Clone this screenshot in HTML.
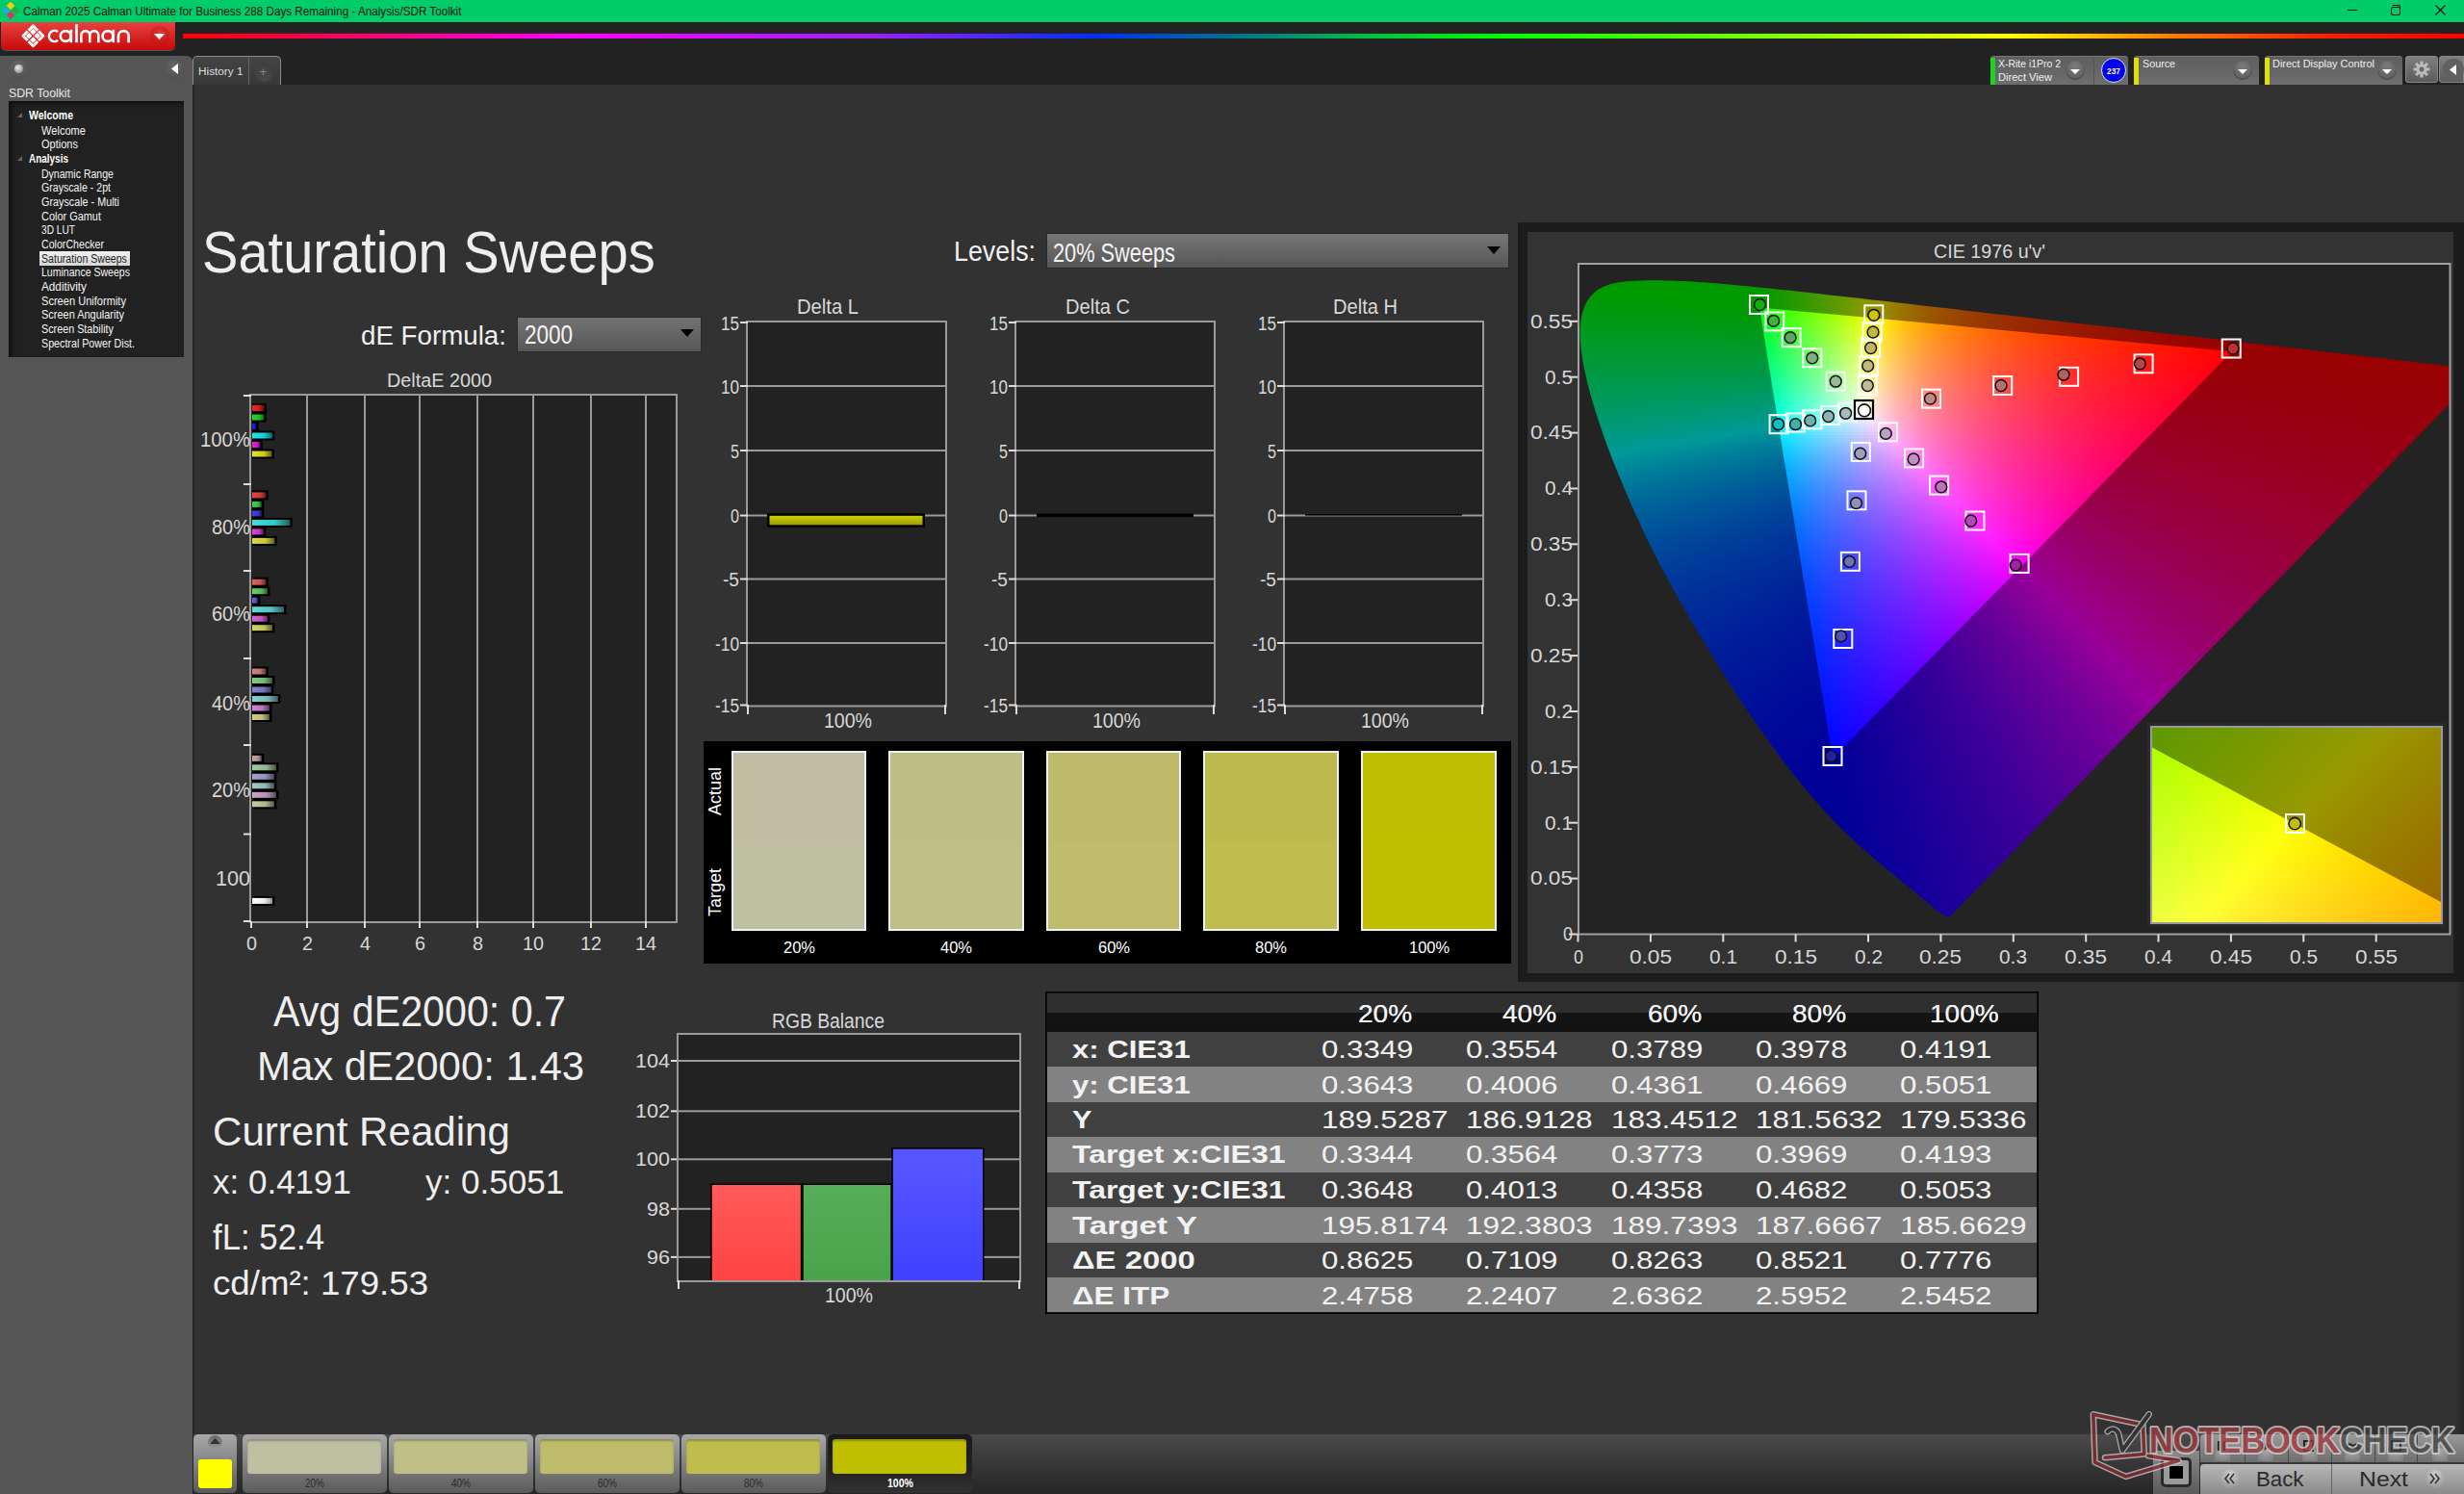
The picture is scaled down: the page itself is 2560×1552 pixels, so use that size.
<!DOCTYPE html>
<html><head><meta charset="utf-8"><style>
html,body{margin:0;padding:0;width:2560px;height:1552px;overflow:hidden;background:#333;font-family:"Liberation Sans",sans-serif}
.t{position:absolute;white-space:nowrap;line-height:1;transform-origin:0 0}
</style></head><body>
<div style="position:absolute;left:0;top:0;width:2560px;height:23px;background:#00cc6a"></div>
<svg style="position:absolute;left:1px;top:2px" width="19" height="19" viewBox="0 0 19 19">
<rect x="7" y="1" width="6" height="6" fill="#f5d000" transform="rotate(45 10 4)"/>
<rect x="2" y="6" width="6" height="6" fill="#29a8e0" transform="rotate(45 5 9)"/>
<rect x="12" y="6" width="6" height="6" fill="#20b040" transform="rotate(45 15 9)"/>
<rect x="7" y="11" width="6" height="6" fill="#e0306a" transform="rotate(45 10 14)"/>
</svg>
<div class="t" style="left:24.0px;top:5.1px;font-size:13.08px;color:#111;transform:scaleX(0.893);">Calman 2025 Calman Ultimate for Business 288 Days Remaining  - Analysis/SDR Toolkit</div>
<div style="position:absolute;left:2439px;top:10px;width:11px;height:1px;background:#111"></div>
<div style="position:absolute;left:2484px;top:7px;width:8px;height:7px;border:1.2px solid #111;border-radius:2px"></div>
<div style="position:absolute;left:2486px;top:5px;width:7px;height:7px;border-top:1.2px solid #111;border-right:1.2px solid #111;border-radius:0 2px 0 0"></div>
<svg style="position:absolute;left:2529.5px;top:5px" width="11" height="11"><path d="M0.5 0.5L10.5 10.5M10.5 0.5L0.5 10.5" stroke="#111" stroke-width="1.1"/></svg>
<div style="position:absolute;left:0;top:23px;width:2560px;height:65px;background:#222"></div>
<div style="position:absolute;left:1px;top:23px;width:181px;height:29px;border-radius:0 0 5px 5px;background:linear-gradient(#e84040,#c80a0a);box-shadow:0 1px 0 #555"></div>
<svg style="position:absolute;left:0;top:0" width="182" height="52" viewBox="0 0 182 52"><path d="M29.62 31.68L34.40 26.90L39.18 31.68M40.02 32.52L44.80 37.30L40.02 42.08M39.18 42.92L34.40 47.70L29.62 42.92M28.78 42.08L24.00 37.30L28.78 32.52" fill="none" stroke="#fff" stroke-width="2.9" stroke-linejoin="round"/><path d="M34.40 29.80L37.70 33.10L34.40 36.40L31.10 33.10ZM30.20 34.00L33.50 37.30L30.20 40.60L26.90 37.30ZM38.60 34.00L41.90 37.30L38.60 40.60L35.30 37.30ZM34.40 38.20L37.70 41.50L34.40 44.80L31.10 41.50Z" fill="#fff"/><g fill="none" stroke="#fff" stroke-width="2.6"><path d="M60.2 33.0A5.65 5.65 0 1 0 60.2 41.8"/><circle cx="68.2" cy="37.5" r="5.4"/><path d="M73.9 30.8V44.2"/><path d="M79.55 25.2V44.2"/><path d="M84.3 44.2V36.6A4.5 4.5 0 0 1 93.3 36.6V44.2M93.3 36.6A4.5 4.5 0 0 1 102.3 36.6V44.2"/><circle cx="112.0" cy="37.5" r="5.4"/><path d="M117.8 30.8V44.2"/><path d="M123 44.2V37.45A5.35 5.35 0 0 1 133.7 37.45V44.2"/></g></svg>
<div style="position:absolute;left:156px;top:27px;width:20px;height:20px;border-radius:50%;background:radial-gradient(circle at 50% 35%,#e03a3a,#b80808)"></div>
<svg style="position:absolute;left:160px;top:35px" width="12" height="8"><path d="M0 0H11L5.5 6Z" fill="#fff"/></svg>
<div style="position:absolute;left:190px;top:35px;width:2370px;height:5px;background:linear-gradient(90deg,#ff0000 0%,#ff0080 9%,#ff00ff 17%,#a020ff 30%,#0030ff 40%,#007090 46%,#00c040 52%,#00ff00 58%,#a0ff00 73%,#ffff00 80%,#ff8000 87%,#ff2000 94%,#ff0000 100%)"></div>
<div style="position:absolute;left:0;top:58px;width:200px;height:1494px;background:#555;border-radius:0 6px 0 0"></div>
<div style="position:absolute;left:200px;top:88px;width:1.5px;height:1464px;background:#232323"></div>
<div style="position:absolute;left:9px;top:62px;width:20px;height:20px;border-radius:50%;background:radial-gradient(circle at 50% 30%,#666,#4c4c4c)"></div>
<div style="position:absolute;left:15px;top:67px;width:9px;height:9px;border-radius:50%;background:radial-gradient(circle at 40% 35%,#eee,#777)"></div>
<div style="position:absolute;left:171px;top:62px;width:20px;height:20px;border-radius:50%;background:radial-gradient(circle at 50% 30%,#666,#4c4c4c)"></div>
<svg style="position:absolute;left:178px;top:66px" width="8" height="11"><path d="M7 0V11L0 5.5Z" fill="#fff"/></svg>
<div class="t" style="left:9.0px;top:89.7px;font-size:13.08px;color:#e8e8e8;transform:scaleX(0.940);">SDR Toolkit</div>
<div style="position:absolute;left:9px;top:105px;width:182px;height:266px;background:#212121;box-shadow:inset 3px 3px 4px #111"></div>
<div class="t" style="left:30.0px;top:114.2px;font-size:12.21px;color:#fff;font-weight:700;transform:scaleX(0.862);">Welcome</div>
<svg style="position:absolute;left:18px;top:117px" width="6" height="6"><path d="M5 0V5H0Z" fill="#666"/></svg>
<div class="t" style="left:43.0px;top:130.2px;font-size:12.21px;color:#f4f4f4;transform:scaleX(0.908);">Welcome</div>
<div class="t" style="left:43.0px;top:144.2px;font-size:12.21px;color:#f4f4f4;transform:scaleX(0.903);">Options</div>
<div class="t" style="left:30.0px;top:159.2px;font-size:12.21px;color:#fff;font-weight:700;transform:scaleX(0.816);">Analysis</div>
<svg style="position:absolute;left:18px;top:162px" width="6" height="6"><path d="M5 0V5H0Z" fill="#666"/></svg>
<div class="t" style="left:43.0px;top:175.2px;font-size:12.21px;color:#f4f4f4;transform:scaleX(0.863);">Dynamic Range</div>
<div class="t" style="left:43.0px;top:189.2px;font-size:12.21px;color:#f4f4f4;transform:scaleX(0.870);">Grayscale - 2pt</div>
<div class="t" style="left:43.0px;top:204.2px;font-size:12.21px;color:#f4f4f4;transform:scaleX(0.884);">Grayscale - Multi</div>
<div class="t" style="left:43.0px;top:219.2px;font-size:12.21px;color:#f4f4f4;transform:scaleX(0.896);">Color Gamut</div>
<div class="t" style="left:43.0px;top:233.3px;font-size:12.21px;color:#f4f4f4;transform:scaleX(0.832);">3D LUT</div>
<div class="t" style="left:43.0px;top:248.3px;font-size:12.21px;color:#f4f4f4;transform:scaleX(0.871);">ColorChecker</div>
<div style="position:absolute;left:41px;top:261px;width:94px;height:15px;background:linear-gradient(#f2f2f2,#d6d6d6)"></div>
<div class="t" style="left:43.0px;top:263.3px;font-size:12.21px;color:#222;transform:scaleX(0.868);">Saturation Sweeps</div>
<div class="t" style="left:43.0px;top:277.3px;font-size:12.21px;color:#f4f4f4;transform:scaleX(0.863);">Luminance Sweeps</div>
<div class="t" style="left:43.0px;top:292.3px;font-size:12.21px;color:#f4f4f4;transform:scaleX(0.962);">Additivity</div>
<div class="t" style="left:43.0px;top:307.3px;font-size:12.21px;color:#f4f4f4;transform:scaleX(0.907);">Screen Uniformity</div>
<div class="t" style="left:43.0px;top:321.4px;font-size:12.21px;color:#f4f4f4;transform:scaleX(0.899);">Screen Angularity</div>
<div class="t" style="left:43.0px;top:336.4px;font-size:12.21px;color:#f4f4f4;transform:scaleX(0.884);">Screen Stability</div>
<div class="t" style="left:43.0px;top:351.4px;font-size:12.21px;color:#f4f4f4;transform:scaleX(0.877);">Spectral Power Dist.</div>
<div style="position:absolute;left:200px;top:58px;width:92px;height:30px;background:linear-gradient(#444,#383838);border:1px solid #8a8a8a;border-bottom:none;border-radius:5px 5px 0 0;box-sizing:border-box"></div>
<div style="position:absolute;left:258px;top:59px;width:1px;height:29px;background:#666"></div>
<div class="t" style="left:206.0px;top:68.2px;font-size:11.63px;color:#dedede;transform:scaleX(1.014);">History 1</div>
<div style="position:absolute;left:264.5px;top:65px;width:19px;height:20px;border-radius:50%;background:radial-gradient(circle at 50% 80%,#4a4a4a,#3a3a3a)"></div>
<div class="t" style="left:269.5px;top:67.5px;font-size:13px;color:#888">+</div>
<div style="position:absolute;left:201.5px;top:88px;width:2359px;height:1402px;background:#323232"></div>
<div style="position:absolute;left:2068px;top:58px;width:143px;height:30px;border-radius:4px 4px 0 0;background:linear-gradient(#5e5e5e,#6e6e6e);box-shadow:inset 0 1px 0 #777"></div><div style="position:absolute;left:2068px;top:60px;width:5px;height:28px;background:#1ed21e"></div>
<div class="t" style="left:2076.0px;top:60.9px;font-size:10.76px;color:#f0f0f0;transform:scaleX(0.971);">X-Rite i1Pro 2</div>
<div class="t" style="left:2076.0px;top:74.9px;font-size:10.76px;color:#f0f0f0;transform:scaleX(1.033);">Direct View</div>
<div style="position:absolute;left:2146px;top:63px;width:20px;height:20px;border-radius:50%;background:radial-gradient(circle at 50% 30%,#7a7a7a,#5a5a5a);box-shadow:inset 0 -1px 2px #444"></div><svg style="position:absolute;left:2151px;top:72px" width="10" height="6"><path d="M0 0H10L5 5Z" fill="#fff"/></svg>
<div style="position:absolute;left:2175px;top:61px;width:1px;height:27px;background:#555"></div>
<div style="position:absolute;left:2182.5px;top:60px;width:26px;height:26px;border-radius:50%;background:#0000ee;box-sizing:border-box;border:1.2px solid #ddd"></div>
<div class="t" style="left:2188.5px;top:68.6px;font-size:9.88px;color:#fff;font-weight:700;transform:scaleX(0.849);">237</div>
<div style="position:absolute;left:2217px;top:58px;width:130px;height:30px;border-radius:4px 4px 0 0;background:linear-gradient(#5e5e5e,#6e6e6e);box-shadow:inset 0 1px 0 #777"></div><div style="position:absolute;left:2217px;top:60px;width:5px;height:28px;background:#e0e000"></div>
<div class="t" style="left:2226.0px;top:60.9px;font-size:10.76px;color:#f0f0f0;">Source</div>
<div style="position:absolute;left:2320px;top:63px;width:20px;height:20px;border-radius:50%;background:radial-gradient(circle at 50% 30%,#7a7a7a,#5a5a5a);box-shadow:inset 0 -1px 2px #444"></div><svg style="position:absolute;left:2325px;top:72px" width="10" height="6"><path d="M0 0H10L5 5Z" fill="#fff"/></svg>
<div style="position:absolute;left:2353px;top:58px;width:143px;height:30px;border-radius:4px 4px 0 0;background:linear-gradient(#5e5e5e,#6e6e6e);box-shadow:inset 0 1px 0 #777"></div><div style="position:absolute;left:2353px;top:60px;width:5px;height:28px;background:#e0e000"></div>
<div class="t" style="left:2361.0px;top:60.9px;font-size:10.76px;color:#f0f0f0;transform:scaleX(1.019);">Direct Display Control</div>
<div style="position:absolute;left:2470px;top:63px;width:20px;height:20px;border-radius:50%;background:radial-gradient(circle at 50% 30%,#7a7a7a,#5a5a5a);box-shadow:inset 0 -1px 2px #444"></div><svg style="position:absolute;left:2475px;top:72px" width="10" height="6"><path d="M0 0H10L5 5Z" fill="#fff"/></svg>
<div style="position:absolute;left:2499px;top:58px;width:34px;height:28px;border-radius:4px;background:linear-gradient(#808080,#5a5a5a);box-shadow:inset 0 0 0 1px #888"></div>
<svg style="position:absolute;left:2506px;top:62px" width="20" height="20" viewBox="-10 -10 20 20"><g fill="#bbb"><circle r="5.5"/><rect x="-1.6" y="-8.5" width="3.2" height="4" transform="rotate(0)"/><rect x="-1.6" y="-8.5" width="3.2" height="4" transform="rotate(45)"/><rect x="-1.6" y="-8.5" width="3.2" height="4" transform="rotate(90)"/><rect x="-1.6" y="-8.5" width="3.2" height="4" transform="rotate(135)"/><rect x="-1.6" y="-8.5" width="3.2" height="4" transform="rotate(180)"/><rect x="-1.6" y="-8.5" width="3.2" height="4" transform="rotate(225)"/><rect x="-1.6" y="-8.5" width="3.2" height="4" transform="rotate(270)"/><rect x="-1.6" y="-8.5" width="3.2" height="4" transform="rotate(315)"/></g><circle r="2.5" fill="#6a6a6a"/></svg>
<div style="position:absolute;left:2534px;top:58px;width:26px;height:28px;border-radius:4px 0 0 4px;background:linear-gradient(#808080,#5a5a5a);box-shadow:inset 0 0 0 1px #888"></div>
<div style="position:absolute;left:2538px;top:61px;width:22px;height:22px;border-radius:50%;background:#606060"></div>
<svg style="position:absolute;left:2545px;top:67px" width="7" height="11"><path d="M7 0V11L0 5.5Z" fill="#fff"/></svg>
<div class="t" style="left:210.0px;top:230.7px;font-size:61.77px;color:#eeeeee;transform:scaleX(0.908);">Saturation Sweeps</div>
<div class="t" style="left:375.0px;top:333.6px;font-size:28.34px;color:#f0f0f0;transform:scaleX(0.978);">dE Formula:</div>
<div style="position:absolute;left:538px;top:330px;width:190px;height:35px;background:linear-gradient(#737373,#575757);box-shadow:0 0 0 1px #2a2a2a"></div>
<div class="t" style="left:545.0px;top:334.1px;font-size:27.62px;color:#f4f4f4;transform:scaleX(0.814);">2000</div>
<svg style="position:absolute;left:707px;top:342px" width="14" height="9"><path d="M0 0H14L7 8Z" fill="#000"/></svg>
<div class="t" style="left:991.0px;top:246.9px;font-size:29.07px;color:#f0f0f0;transform:scaleX(0.923);">Levels:</div>
<div style="position:absolute;left:1088px;top:243px;width:479px;height:35px;background:linear-gradient(#777,#555);box-shadow:0 0 0 1px #2a2a2a"></div>
<div class="t" style="left:1094.0px;top:248.6px;font-size:27.62px;color:#f4f4f4;transform:scaleX(0.788);">20% Sweeps</div>
<svg style="position:absolute;left:1545px;top:256px" width="14" height="9"><path d="M0 0H14L7 8Z" fill="#000"/></svg>
<svg style="position:absolute;left:0;top:0" width="2560" height="1552"><rect x="261" y="411" width="441" height="546" fill="#222"/><rect x="318" y="411" width="2" height="546" fill="#9a9a9a"/><rect x="378" y="411" width="2" height="546" fill="#9a9a9a"/><rect x="435" y="411" width="2" height="546" fill="#9a9a9a"/><rect x="495" y="411" width="2" height="546" fill="#9a9a9a"/><rect x="553" y="411" width="2" height="546" fill="#9a9a9a"/><rect x="613" y="411" width="2" height="546" fill="#9a9a9a"/><rect x="670" y="411" width="2" height="546" fill="#9a9a9a"/><rect x="260" y="410" width="443" height="548" fill="none" stroke="#9a9a9a" stroke-width="2"/><rect x="253" y="410" width="8" height="2" fill="#ddd"/><rect x="253" y="502" width="8" height="2" fill="#ddd"/><rect x="253" y="592" width="8" height="2" fill="#ddd"/><rect x="253" y="683" width="8" height="2" fill="#ddd"/><rect x="253" y="773" width="8" height="2" fill="#ddd"/><rect x="253" y="865.5" width="8" height="2" fill="#ddd"/><rect x="253" y="956" width="8" height="2" fill="#ddd"/><rect x="260" y="957" width="2" height="7" fill="#ddd"/><rect x="318" y="957" width="2" height="7" fill="#ddd"/><rect x="378" y="957" width="2" height="7" fill="#ddd"/><rect x="435" y="957" width="2" height="7" fill="#ddd"/><rect x="495" y="957" width="2" height="7" fill="#ddd"/><rect x="553" y="957" width="2" height="7" fill="#ddd"/><rect x="613" y="957" width="2" height="7" fill="#ddd"/><rect x="670" y="957" width="2" height="7" fill="#ddd"/><defs><linearGradient id="hb0"><stop offset="0" stop-color="rgb(237, 38, 38)"/><stop offset="0.6" stop-color="rgb(215, 25, 25)"/><stop offset="1" stop-color="rgb(107, 12, 12)"/></linearGradient><linearGradient id="hb1"><stop offset="0" stop-color="rgb(38, 216, 38)"/><stop offset="0.6" stop-color="rgb(25, 195, 25)"/><stop offset="1" stop-color="rgb(12, 97, 12)"/></linearGradient><linearGradient id="hb2"><stop offset="0" stop-color="rgb(38, 38, 232)"/><stop offset="0.6" stop-color="rgb(25, 25, 210)"/><stop offset="1" stop-color="rgb(12, 12, 105)"/></linearGradient><linearGradient id="hb3"><stop offset="0" stop-color="rgb(38, 227, 227)"/><stop offset="0.6" stop-color="rgb(25, 205, 205)"/><stop offset="1" stop-color="rgb(12, 102, 102)"/></linearGradient><linearGradient id="hb4"><stop offset="0" stop-color="rgb(227, 38, 227)"/><stop offset="0.6" stop-color="rgb(205, 25, 205)"/><stop offset="1" stop-color="rgb(102, 12, 102)"/></linearGradient><linearGradient id="hb5"><stop offset="0" stop-color="rgb(227, 227, 38)"/><stop offset="0.6" stop-color="rgb(205, 205, 25)"/><stop offset="1" stop-color="rgb(102, 102, 12)"/></linearGradient><linearGradient id="hb6"><stop offset="0" stop-color="rgb(229, 69, 69)"/><stop offset="0.6" stop-color="rgb(207, 55, 55)"/><stop offset="1" stop-color="rgb(103, 27, 27)"/></linearGradient><linearGradient id="hb7"><stop offset="0" stop-color="rgb(69, 212, 69)"/><stop offset="0.6" stop-color="rgb(55, 191, 55)"/><stop offset="1" stop-color="rgb(27, 95, 27)"/></linearGradient><linearGradient id="hb8"><stop offset="0" stop-color="rgb(69, 69, 225)"/><stop offset="0.6" stop-color="rgb(55, 55, 203)"/><stop offset="1" stop-color="rgb(27, 27, 101)"/></linearGradient><linearGradient id="hb9"><stop offset="0" stop-color="rgb(69, 220, 220)"/><stop offset="0.6" stop-color="rgb(55, 199, 199)"/><stop offset="1" stop-color="rgb(27, 99, 99)"/></linearGradient><linearGradient id="hb10"><stop offset="0" stop-color="rgb(220, 69, 220)"/><stop offset="0.6" stop-color="rgb(199, 55, 199)"/><stop offset="1" stop-color="rgb(99, 27, 99)"/></linearGradient><linearGradient id="hb11"><stop offset="0" stop-color="rgb(220, 220, 69)"/><stop offset="0.6" stop-color="rgb(199, 199, 55)"/><stop offset="1" stop-color="rgb(99, 99, 27)"/></linearGradient><linearGradient id="hb12"><stop offset="0" stop-color="rgb(220, 101, 101)"/><stop offset="0.6" stop-color="rgb(199, 85, 85)"/><stop offset="1" stop-color="rgb(99, 42, 42)"/></linearGradient><linearGradient id="hb13"><stop offset="0" stop-color="rgb(101, 208, 101)"/><stop offset="0.6" stop-color="rgb(85, 187, 85)"/><stop offset="1" stop-color="rgb(42, 93, 42)"/></linearGradient><linearGradient id="hb14"><stop offset="0" stop-color="rgb(101, 101, 217)"/><stop offset="0.6" stop-color="rgb(85, 85, 196)"/><stop offset="1" stop-color="rgb(42, 42, 98)"/></linearGradient><linearGradient id="hb15"><stop offset="0" stop-color="rgb(101, 214, 214)"/><stop offset="0.6" stop-color="rgb(85, 193, 193)"/><stop offset="1" stop-color="rgb(42, 96, 96)"/></linearGradient><linearGradient id="hb16"><stop offset="0" stop-color="rgb(214, 101, 214)"/><stop offset="0.6" stop-color="rgb(193, 85, 193)"/><stop offset="1" stop-color="rgb(96, 42, 96)"/></linearGradient><linearGradient id="hb17"><stop offset="0" stop-color="rgb(214, 214, 101)"/><stop offset="0.6" stop-color="rgb(193, 193, 85)"/><stop offset="1" stop-color="rgb(96, 96, 42)"/></linearGradient><linearGradient id="hb18"><stop offset="0" stop-color="rgb(212, 132, 132)"/><stop offset="0.6" stop-color="rgb(191, 115, 115)"/><stop offset="1" stop-color="rgb(95, 57, 57)"/></linearGradient><linearGradient id="hb19"><stop offset="0" stop-color="rgb(132, 204, 132)"/><stop offset="0.6" stop-color="rgb(115, 183, 115)"/><stop offset="1" stop-color="rgb(57, 91, 57)"/></linearGradient><linearGradient id="hb20"><stop offset="0" stop-color="rgb(132, 132, 210)"/><stop offset="0.6" stop-color="rgb(115, 115, 189)"/><stop offset="1" stop-color="rgb(57, 57, 94)"/></linearGradient><linearGradient id="hb21"><stop offset="0" stop-color="rgb(132, 208, 208)"/><stop offset="0.6" stop-color="rgb(115, 187, 187)"/><stop offset="1" stop-color="rgb(57, 93, 93)"/></linearGradient><linearGradient id="hb22"><stop offset="0" stop-color="rgb(208, 132, 208)"/><stop offset="0.6" stop-color="rgb(187, 115, 187)"/><stop offset="1" stop-color="rgb(93, 57, 93)"/></linearGradient><linearGradient id="hb23"><stop offset="0" stop-color="rgb(208, 208, 132)"/><stop offset="0.6" stop-color="rgb(187, 187, 115)"/><stop offset="1" stop-color="rgb(93, 93, 57)"/></linearGradient><linearGradient id="hb24"><stop offset="0" stop-color="rgb(204, 164, 164)"/><stop offset="0.6" stop-color="rgb(183, 145, 145)"/><stop offset="1" stop-color="rgb(91, 72, 72)"/></linearGradient><linearGradient id="hb25"><stop offset="0" stop-color="rgb(164, 199, 164)"/><stop offset="0.6" stop-color="rgb(145, 179, 145)"/><stop offset="1" stop-color="rgb(72, 89, 72)"/></linearGradient><linearGradient id="hb26"><stop offset="0" stop-color="rgb(164, 164, 203)"/><stop offset="0.6" stop-color="rgb(145, 145, 182)"/><stop offset="1" stop-color="rgb(72, 72, 91)"/></linearGradient><linearGradient id="hb27"><stop offset="0" stop-color="rgb(164, 202, 202)"/><stop offset="0.6" stop-color="rgb(145, 181, 181)"/><stop offset="1" stop-color="rgb(72, 90, 90)"/></linearGradient><linearGradient id="hb28"><stop offset="0" stop-color="rgb(202, 164, 202)"/><stop offset="0.6" stop-color="rgb(181, 145, 181)"/><stop offset="1" stop-color="rgb(90, 72, 90)"/></linearGradient><linearGradient id="hb29"><stop offset="0" stop-color="rgb(202, 202, 164)"/><stop offset="0.6" stop-color="rgb(181, 181, 145)"/><stop offset="1" stop-color="rgb(90, 90, 72)"/></linearGradient><linearGradient id="hbw"><stop offset="0" stop-color="#fff"/><stop offset="0.6" stop-color="#eee"/><stop offset="1" stop-color="#999"/></linearGradient></defs><rect x="262" y="419.0" width="14.8" height="10" fill="#000"/><rect x="262" y="421.0" width="12.3" height="6" fill="url(#hb0)"/><rect x="262" y="428.5" width="14.8" height="10" fill="#000"/><rect x="262" y="430.5" width="12.3" height="6" fill="url(#hb1)"/><rect x="262" y="438.0" width="6.7" height="10" fill="#000"/><rect x="262" y="440.0" width="4.2" height="6" fill="url(#hb2)"/><rect x="262" y="447.5" width="23.4" height="10" fill="#000"/><rect x="262" y="449.5" width="20.9" height="6" fill="url(#hb3)"/><rect x="262" y="457.0" width="10.7" height="10" fill="#000"/><rect x="262" y="459.0" width="8.2" height="6" fill="url(#hb4)"/><rect x="262" y="466.5" width="22.8" height="10" fill="#000"/><rect x="262" y="468.5" width="20.3" height="6" fill="url(#hb5)"/><rect x="262" y="509.4" width="16.8" height="10" fill="#000"/><rect x="262" y="511.4" width="14.3" height="6" fill="url(#hb6)"/><rect x="262" y="518.9" width="12.3" height="10" fill="#000"/><rect x="262" y="520.9" width="9.8" height="6" fill="url(#hb7)"/><rect x="262" y="528.4" width="12.3" height="10" fill="#000"/><rect x="262" y="530.4" width="9.8" height="6" fill="url(#hb8)"/><rect x="262" y="537.9" width="41.8" height="10" fill="#000"/><rect x="262" y="539.9" width="39.3" height="6" fill="url(#hb9)"/><rect x="262" y="547.4" width="14.3" height="10" fill="#000"/><rect x="262" y="549.4" width="11.8" height="6" fill="url(#hb10)"/><rect x="262" y="556.9" width="25.8" height="10" fill="#000"/><rect x="262" y="558.9" width="23.3" height="6" fill="url(#hb11)"/><rect x="262" y="599.7" width="16.8" height="10" fill="#000"/><rect x="262" y="601.7" width="14.3" height="6" fill="url(#hb12)"/><rect x="262" y="609.2" width="18.4" height="10" fill="#000"/><rect x="262" y="611.2" width="15.9" height="6" fill="url(#hb13)"/><rect x="262" y="618.7" width="8.3" height="10" fill="#000"/><rect x="262" y="620.7" width="5.8" height="6" fill="url(#hb14)"/><rect x="262" y="628.2" width="35.5" height="10" fill="#000"/><rect x="262" y="630.2" width="33.0" height="6" fill="url(#hb15)"/><rect x="262" y="637.7" width="18.4" height="10" fill="#000"/><rect x="262" y="639.7" width="15.9" height="6" fill="url(#hb16)"/><rect x="262" y="647.2" width="23.4" height="10" fill="#000"/><rect x="262" y="649.2" width="20.9" height="6" fill="url(#hb17)"/><rect x="262" y="692.5" width="16.8" height="10" fill="#000"/><rect x="262" y="694.5" width="14.3" height="6" fill="url(#hb18)"/><rect x="262" y="702.0" width="23.4" height="10" fill="#000"/><rect x="262" y="704.0" width="20.9" height="6" fill="url(#hb19)"/><rect x="262" y="711.5" width="22.4" height="10" fill="#000"/><rect x="262" y="713.5" width="19.9" height="6" fill="url(#hb20)"/><rect x="262" y="721.0" width="29.4" height="10" fill="#000"/><rect x="262" y="723.0" width="26.9" height="6" fill="url(#hb21)"/><rect x="262" y="730.5" width="20.4" height="10" fill="#000"/><rect x="262" y="732.5" width="17.9" height="6" fill="url(#hb22)"/><rect x="262" y="740.0" width="20.4" height="10" fill="#000"/><rect x="262" y="742.0" width="17.9" height="6" fill="url(#hb23)"/><rect x="262" y="782.8" width="12.3" height="10" fill="#000"/><rect x="262" y="784.8" width="9.8" height="6" fill="url(#hb24)"/><rect x="262" y="792.3" width="27.4" height="10" fill="#000"/><rect x="262" y="794.3" width="24.9" height="6" fill="url(#hb25)"/><rect x="262" y="801.8" width="25.4" height="10" fill="#000"/><rect x="262" y="803.8" width="22.9" height="6" fill="url(#hb26)"/><rect x="262" y="811.3" width="25.4" height="10" fill="#000"/><rect x="262" y="813.3" width="22.9" height="6" fill="url(#hb27)"/><rect x="262" y="820.8" width="27.4" height="10" fill="#000"/><rect x="262" y="822.8" width="24.9" height="6" fill="url(#hb28)"/><rect x="262" y="830.3" width="25.4" height="10" fill="#000"/><rect x="262" y="832.3" width="22.9" height="6" fill="url(#hb29)"/><rect x="262" y="930.9" width="23.4" height="10" fill="#000"/><rect x="262" y="932.9" width="20.9" height="6" fill="url(#hbw)"/></svg>
<div class="t" style="left:401.5px;top:385.3px;font-size:20.35px;color:#d8d8d8;transform:scaleX(0.973);">DeltaE 2000</div>
<div class="t" style="left:207.5px;top:445.8px;font-size:21.80px;color:#d8d8d8;transform:scaleX(0.933);">100%</div>
<div class="t" style="left:219.5px;top:537.0px;font-size:21.80px;color:#d8d8d8;transform:scaleX(0.917);">80%</div>
<div class="t" style="left:219.5px;top:627.0px;font-size:21.80px;color:#d8d8d8;transform:scaleX(0.917);">60%</div>
<div class="t" style="left:219.5px;top:720.2px;font-size:21.80px;color:#d8d8d8;transform:scaleX(0.917);">40%</div>
<div class="t" style="left:219.5px;top:809.5px;font-size:21.80px;color:#d8d8d8;transform:scaleX(0.917);">20%</div>
<div class="t" style="left:223.5px;top:901.8px;font-size:21.80px;color:#d8d8d8;transform:scaleX(0.990);">100</div>
<div class="t" style="left:255.5px;top:969.5px;font-size:20.64px;color:#d8d8d8;transform:scaleX(0.958);">0</div>
<div class="t" style="left:313.5px;top:969.5px;font-size:20.64px;color:#d8d8d8;transform:scaleX(0.958);">2</div>
<div class="t" style="left:373.5px;top:969.5px;font-size:20.64px;color:#d8d8d8;transform:scaleX(0.958);">4</div>
<div class="t" style="left:430.5px;top:969.5px;font-size:20.64px;color:#d8d8d8;transform:scaleX(0.958);">6</div>
<div class="t" style="left:490.5px;top:969.5px;font-size:20.64px;color:#d8d8d8;transform:scaleX(0.958);">8</div>
<div class="t" style="left:543.0px;top:969.5px;font-size:20.64px;color:#d8d8d8;transform:scaleX(0.958);">10</div>
<div class="t" style="left:603.0px;top:969.5px;font-size:20.64px;color:#d8d8d8;transform:scaleX(0.958);">12</div>
<div class="t" style="left:660.0px;top:969.5px;font-size:20.64px;color:#d8d8d8;transform:scaleX(0.958);">14</div>
<svg style="position:absolute;left:0;top:0" width="2560" height="1552"><rect x="777" y="335" width="205" height="397.5" fill="#222"/><rect x="777" y="400" width="205" height="2" fill="#9a9a9a"/><rect x="777" y="467" width="205" height="2" fill="#9a9a9a"/><rect x="777" y="534.5" width="205" height="2" fill="#9a9a9a"/><rect x="777" y="600.5" width="205" height="2" fill="#9a9a9a"/><rect x="777" y="667" width="205" height="2" fill="#9a9a9a"/><rect x="776" y="334" width="207" height="399.5" fill="none" stroke="#9a9a9a" stroke-width="2"/><rect x="769" y="334" width="8" height="2" fill="#ddd"/><rect x="769" y="400" width="8" height="2" fill="#ddd"/><rect x="769" y="467" width="8" height="2" fill="#ddd"/><rect x="769" y="534.5" width="8" height="2" fill="#ddd"/><rect x="769" y="600.5" width="8" height="2" fill="#ddd"/><rect x="769" y="667" width="8" height="2" fill="#ddd"/><rect x="769" y="731.5" width="8" height="2" fill="#ddd"/><rect x="776" y="732" width="2" height="10" fill="#ddd"/><rect x="981" y="732" width="2" height="10" fill="#ddd"/><rect x="1056" y="335" width="205" height="397.5" fill="#222"/><rect x="1056" y="400" width="205" height="2" fill="#9a9a9a"/><rect x="1056" y="467" width="205" height="2" fill="#9a9a9a"/><rect x="1056" y="534.5" width="205" height="2" fill="#9a9a9a"/><rect x="1056" y="600.5" width="205" height="2" fill="#9a9a9a"/><rect x="1056" y="667" width="205" height="2" fill="#9a9a9a"/><rect x="1055" y="334" width="207" height="399.5" fill="none" stroke="#9a9a9a" stroke-width="2"/><rect x="1048" y="334" width="8" height="2" fill="#ddd"/><rect x="1048" y="400" width="8" height="2" fill="#ddd"/><rect x="1048" y="467" width="8" height="2" fill="#ddd"/><rect x="1048" y="534.5" width="8" height="2" fill="#ddd"/><rect x="1048" y="600.5" width="8" height="2" fill="#ddd"/><rect x="1048" y="667" width="8" height="2" fill="#ddd"/><rect x="1048" y="731.5" width="8" height="2" fill="#ddd"/><rect x="1055" y="732" width="2" height="10" fill="#ddd"/><rect x="1260" y="732" width="2" height="10" fill="#ddd"/><rect x="1335" y="335" width="205" height="397.5" fill="#222"/><rect x="1335" y="400" width="205" height="2" fill="#9a9a9a"/><rect x="1335" y="467" width="205" height="2" fill="#9a9a9a"/><rect x="1335" y="534.5" width="205" height="2" fill="#9a9a9a"/><rect x="1335" y="600.5" width="205" height="2" fill="#9a9a9a"/><rect x="1335" y="667" width="205" height="2" fill="#9a9a9a"/><rect x="1334" y="334" width="207" height="399.5" fill="none" stroke="#9a9a9a" stroke-width="2"/><rect x="1327" y="334" width="8" height="2" fill="#ddd"/><rect x="1327" y="400" width="8" height="2" fill="#ddd"/><rect x="1327" y="467" width="8" height="2" fill="#ddd"/><rect x="1327" y="534.5" width="8" height="2" fill="#ddd"/><rect x="1327" y="600.5" width="8" height="2" fill="#ddd"/><rect x="1327" y="667" width="8" height="2" fill="#ddd"/><rect x="1327" y="731.5" width="8" height="2" fill="#ddd"/><rect x="1334" y="732" width="2" height="10" fill="#ddd"/><rect x="1539" y="732" width="2" height="10" fill="#ddd"/><defs><linearGradient id="yb" x1="0" y1="0" x2="0" y2="1"><stop offset="0" stop-color="#d0d000"/><stop offset="1" stop-color="#9a9a00"/></linearGradient></defs><rect x="797" y="533.3" width="164" height="14.5" fill="#000"/><rect x="799.5" y="535.8" width="159" height="9.5" fill="url(#yb)"/><rect x="1077" y="533.5" width="163" height="3.5" fill="#000"/><rect x="1356" y="534" width="163" height="1.6" fill="#000"/></svg>
<div class="t" style="left:828.0px;top:307.8px;font-size:21.80px;color:#d8d8d8;transform:scaleX(0.927);">Delta L</div>
<div class="t" style="left:749.0px;top:324.5px;font-size:21.08px;color:#d8d8d8;transform:scaleX(0.811);">15</div>
<div class="t" style="left:749.0px;top:390.5px;font-size:21.08px;color:#d8d8d8;transform:scaleX(0.811);">10</div>
<div class="t" style="left:759.0px;top:457.5px;font-size:21.08px;color:#d8d8d8;transform:scaleX(0.768);">5</div>
<div class="t" style="left:759.0px;top:525.0px;font-size:21.08px;color:#d8d8d8;transform:scaleX(0.768);">0</div>
<div class="t" style="left:751.0px;top:591.0px;font-size:21.08px;color:#d8d8d8;transform:scaleX(0.907);">-5</div>
<div class="t" style="left:743.0px;top:657.5px;font-size:21.08px;color:#d8d8d8;transform:scaleX(0.821);">-10</div>
<div class="t" style="left:743.0px;top:722.0px;font-size:21.08px;color:#d8d8d8;transform:scaleX(0.821);">-15</div>
<div class="t" style="left:855.5px;top:738.0px;font-size:21.80px;color:#d8d8d8;transform:scaleX(0.897);">100%</div>
<div class="t" style="left:1106.5px;top:307.8px;font-size:21.80px;color:#d8d8d8;transform:scaleX(0.922);">Delta C</div>
<div class="t" style="left:1028.0px;top:324.5px;font-size:21.08px;color:#d8d8d8;transform:scaleX(0.811);">15</div>
<div class="t" style="left:1028.0px;top:390.5px;font-size:21.08px;color:#d8d8d8;transform:scaleX(0.811);">10</div>
<div class="t" style="left:1038.0px;top:457.5px;font-size:21.08px;color:#d8d8d8;transform:scaleX(0.768);">5</div>
<div class="t" style="left:1038.0px;top:525.0px;font-size:21.08px;color:#d8d8d8;transform:scaleX(0.768);">0</div>
<div class="t" style="left:1030.0px;top:591.0px;font-size:21.08px;color:#d8d8d8;transform:scaleX(0.907);">-5</div>
<div class="t" style="left:1022.0px;top:657.5px;font-size:21.08px;color:#d8d8d8;transform:scaleX(0.821);">-10</div>
<div class="t" style="left:1022.0px;top:722.0px;font-size:21.08px;color:#d8d8d8;transform:scaleX(0.821);">-15</div>
<div class="t" style="left:1134.5px;top:738.0px;font-size:21.80px;color:#d8d8d8;transform:scaleX(0.897);">100%</div>
<div class="t" style="left:1385.0px;top:307.8px;font-size:21.80px;color:#d8d8d8;transform:scaleX(0.922);">Delta H</div>
<div class="t" style="left:1307.0px;top:324.5px;font-size:21.08px;color:#d8d8d8;transform:scaleX(0.811);">15</div>
<div class="t" style="left:1307.0px;top:390.5px;font-size:21.08px;color:#d8d8d8;transform:scaleX(0.811);">10</div>
<div class="t" style="left:1317.0px;top:457.5px;font-size:21.08px;color:#d8d8d8;transform:scaleX(0.768);">5</div>
<div class="t" style="left:1317.0px;top:525.0px;font-size:21.08px;color:#d8d8d8;transform:scaleX(0.768);">0</div>
<div class="t" style="left:1309.0px;top:591.0px;font-size:21.08px;color:#d8d8d8;transform:scaleX(0.907);">-5</div>
<div class="t" style="left:1301.0px;top:657.5px;font-size:21.08px;color:#d8d8d8;transform:scaleX(0.821);">-10</div>
<div class="t" style="left:1301.0px;top:722.0px;font-size:21.08px;color:#d8d8d8;transform:scaleX(0.821);">-15</div>
<div class="t" style="left:1413.5px;top:738.0px;font-size:21.80px;color:#d8d8d8;transform:scaleX(0.897);">100%</div>
<div style="position:absolute;left:731px;top:770px;width:839px;height:231px;background:#000"></div>
<div style="position:absolute;left:760px;top:780px;width:140px;height:187px;box-sizing:border-box;border:2px solid #f0f0f0;background:linear-gradient(#bfbea2 50%,#bfbfa2 50%)"></div>
<div class="t" style="left:813.5px;top:976.5px;font-size:15.99px;color:#fff;transform:scaleX(1.031);">20%</div>
<div style="position:absolute;left:923px;top:780px;width:141px;height:187px;box-sizing:border-box;border:2px solid #f0f0f0;background:linear-gradient(#bfbe86 50%,#c0bf87 50%)"></div>
<div class="t" style="left:977.0px;top:976.5px;font-size:15.99px;color:#fff;transform:scaleX(1.031);">40%</div>
<div style="position:absolute;left:1087px;top:780px;width:140px;height:187px;box-sizing:border-box;border:2px solid #f0f0f0;background:linear-gradient(#bdbb69 50%,#bfbd6b 50%)"></div>
<div class="t" style="left:1140.5px;top:976.5px;font-size:15.99px;color:#fff;transform:scaleX(1.031);">60%</div>
<div style="position:absolute;left:1250px;top:780px;width:141px;height:187px;box-sizing:border-box;border:2px solid #f0f0f0;background:linear-gradient(#bcba4c 50%,#bebd4e 50%)"></div>
<div class="t" style="left:1304.0px;top:976.5px;font-size:15.99px;color:#fff;transform:scaleX(1.031);">80%</div>
<div style="position:absolute;left:1414px;top:780px;width:141px;height:187px;box-sizing:border-box;border:2px solid #f0f0f0;background:linear-gradient(#bebe00 50%,#bfbf00 50%)"></div>
<div class="t" style="left:1463.5px;top:976.5px;font-size:15.99px;color:#fff;transform:scaleX(1.027);">100%</div>
<div class="t" style="left:734px;top:847px;font-size:18px;color:#fff;transform:rotate(-90deg)">Actual</div>
<div class="t" style="left:734px;top:952px;font-size:18px;color:#fff;transform:rotate(-90deg)">Target</div>
<div style="position:absolute;left:1577px;top:231px;width:983px;height:789px;background:#1c1c1c"></div>
<div style="position:absolute;left:1587px;top:241px;width:962px;height:770px;background:#333"></div>
<div style="position:absolute;left:1640px;top:273.5px;width:905.5px;height:697.0px;background:#232323"></div>
<div style="position:absolute;left:1640px;top:273.5px;width:905.5px;height:697.0px;overflow:hidden;clip-path:path('M386.7 677.8 L386.5 677.9 L386.3 678.1 L386.0 678.3 L385.6 678.5 L385.0 678.6 L384.2 678.5 L383.3 678.5 L382.3 678.4 L381.1 678.1 L379.7 677.5 L378.3 676.6 L376.7 675.6 L375.0 674.3 L373.0 672.7 L370.6 670.8 L367.8 668.6 L364.8 666.0 L361.4 663.2 L357.6 660.0 L353.3 656.5 L348.3 652.3 L342.4 647.5 L336.3 642.5 L330.5 637.7 L325.2 633.4 L320.9 629.8 L317.1 626.7 L313.6 623.8 L310.0 620.8 L306.1 617.4 L301.7 613.6 L297.2 609.6 L292.5 605.4 L287.6 601.0 L282.5 596.2 L277.3 591.2 L272.0 586.0 L266.4 580.5 L260.6 574.3 L254.2 567.4 L247.4 559.7 L240.2 551.3 L232.6 542.3 L224.8 532.6 L216.7 522.2 L208.3 511.2 L199.7 499.4 L190.7 487.0 L181.6 474.0 L172.4 460.4 L163.0 446.1 L153.4 431.0 L143.6 415.4 L133.9 399.5 L124.4 383.5 L114.8 367.2 L105.2 350.5 L95.8 333.6 L86.7 316.8 L78.1 300.3 L70.0 283.9 L62.4 267.5 L55.1 251.3 L48.3 235.6 L42.0 220.4 L36.1 205.9 L30.7 191.8 L25.8 178.2 L21.4 165.3 L17.4 153.1 L14.0 141.8 L11.0 131.1 L8.6 121.2 L6.5 111.8 L4.7 103.1 L3.4 95.0 L2.4 87.5 L1.9 80.7 L1.6 74.3 L1.7 68.2 L2.0 62.6 L2.7 57.5 L3.7 52.7 L5.0 48.3 L6.5 44.3 L8.3 40.6 L10.4 37.2 L12.7 34.2 L15.3 31.5 L18.0 29.1 L20.9 27.0 L24.1 25.2 L27.4 23.7 L30.8 22.5 L34.3 21.3 L38.0 20.4 L41.8 19.7 L45.7 19.2 L49.7 18.8 L53.8 18.5 L57.9 18.2 L62.1 18.0 L66.4 17.9 L70.7 17.8 L75.0 17.8 L79.2 17.8 L83.5 17.8 L87.8 17.8 L92.1 17.9 L96.5 18.0 L100.9 18.2 L105.3 18.4 L109.8 18.6 L114.3 18.8 L118.9 19.1 L123.6 19.4 L128.4 19.7 L133.2 20.1 L138.1 20.4 L143.1 20.8 L148.2 21.3 L153.4 21.7 L158.6 22.2 L164.0 22.7 L169.4 23.2 L175.0 23.7 L180.6 24.3 L186.4 24.9 L192.3 25.5 L198.3 26.1 L204.4 26.8 L210.7 27.4 L217.1 28.1 L223.6 28.8 L230.3 29.5 L237.1 30.3 L244.1 31.1 L251.1 31.8 L258.3 32.7 L265.7 33.5 L273.3 34.3 L280.9 35.2 L288.8 36.1 L296.8 37.0 L304.9 37.9 L313.2 38.8 L321.7 39.8 L330.3 40.8 L339.1 41.8 L348.0 42.8 L357.1 43.9 L366.4 44.9 L375.8 46.0 L385.3 47.1 L395.0 48.2 L404.9 49.4 L414.9 50.5 L425.0 51.7 L435.3 52.9 L445.7 54.1 L456.2 55.3 L466.9 56.5 L477.6 57.7 L488.4 58.9 L499.3 60.2 L510.3 61.4 L521.3 62.7 L532.4 64.0 L543.5 65.3 L554.4 66.5 L565.2 67.8 L575.9 69.0 L586.6 70.2 L597.2 71.5 L607.8 72.7 L618.3 73.9 L628.9 75.1 L639.4 76.3 L649.7 77.5 L659.7 78.6 L669.0 79.7 L677.5 80.6 L686.1 81.6 L695.6 82.7 L706.8 84.0 L720.7 85.6 L736.5 87.4 L753.2 89.3 L769.4 91.2 L783.8 92.9 L796.4 94.3 L808.0 95.6 L818.8 96.9 L828.9 98.0 L838.5 99.1 L847.6 100.2 L856.2 101.2 L864.2 102.1 L871.6 102.9 L878.5 103.7 L884.8 104.4 L890.5 105.1 L895.7 105.7 L900.4 106.2 L904.8 106.7 L908.7 107.2 L911.9 107.5 L914.9 107.9 L917.6 108.2 L920.5 108.5 L923.4 108.9 L926.4 109.2 L929.3 109.5 L931.9 109.8 L934.1 110.1 L935.7 110.3 L937.0 110.4 L938.0 110.5 L938.7 110.6 L939.3 110.7 Z')">
<div style="position:absolute;left:0;top:0px;width:906px;height:4px;background:linear-gradient(90deg,#009900,#009900,#009900,#009900,#009900,#009900,#009900,#009900,#009900,#009900,#0f9900,#229900,#379900,#4e9900,#669900,#819900,#999500,#997c00,#996900,#995a00,#994d00,#994300,#993a00,#993300,#992d00,#992700,#992200,#991e00,#991a00,#991600,#991300,#991000,#990e00,#990b00,#990900,#990700,#990500,#990300,#990200,#990000,#990000,#990000,#990000,#990000,#990000,#990000,#990000)"></div><div style="position:absolute;left:0;top:4px;width:906px;height:4px;background:linear-gradient(90deg,#009900,#009900,#009900,#009900,#009900,#009900,#009900,#009900,#009900,#009900,#0e9900,#229900,#379900,#4e9900,#669900,#819900,#999400,#997c00,#996800,#995900,#994d00,#994300,#993a00,#993300,#992c00,#992700,#992200,#991d00,#991900,#991600,#991300,#991000,#990d00,#990b00,#990900,#990600,#990500,#990300,#990100,#990000,#990000,#990000,#990000,#990000,#990000,#990000,#990000)"></div><div style="position:absolute;left:0;top:8px;width:906px;height:4px;background:linear-gradient(90deg,#009900,#009900,#009900,#009900,#009900,#009900,#009900,#009900,#009900,#009900,#0e9900,#229900,#379900,#4e9900,#669900,#819900,#999400,#997b00,#996800,#995900,#994c00,#994200,#993900,#993200,#992c00,#992600,#992100,#991d00,#991900,#991500,#991200,#990f00,#990d00,#990a00,#990800,#990600,#990400,#990300,#990100,#990000,#990000,#990000,#990000,#990000,#990000,#990000,#990000)"></div><div style="position:absolute;left:0;top:12px;width:906px;height:4px;background:linear-gradient(90deg,#009900,#009900,#009900,#009900,#009900,#009900,#009900,#009900,#009900,#009900,#0d9900,#219900,#379900,#4e9900,#679900,#829900,#999300,#997a00,#996700,#995800,#994c00,#994100,#993900,#993100,#992b00,#992600,#992100,#991c00,#991800,#991500,#991200,#990f00,#990c00,#990a00,#990800,#990600,#990400,#990200,#990100,#990000,#990000,#990000,#990000,#990000,#990000,#990000,#990000)"></div><div style="position:absolute;left:0;top:16px;width:906px;height:4px;background:linear-gradient(90deg,#009900,#009900,#009900,#009900,#009900,#009900,#009900,#009900,#009900,#009900,#0d9900,#219900,#369900,#4e9900,#679900,#829900,#999300,#997a00,#996700,#995700,#994b00,#994100,#993800,#993100,#992b00,#992500,#992000,#991c00,#991800,#991500,#991100,#990f00,#990c00,#990a00,#990700,#990500,#990400,#990200,#990000,#990000,#990000,#990000,#990000,#990000,#990000,#990000,#990000)"></div><div style="position:absolute;left:0;top:20px;width:906px;height:4px;background:linear-gradient(90deg,#009900,#009900,#009900,#009900,#009900,#009900,#009900,#009900,#009900,#009900,#0c9900,#209900,#369900,#4d9900,#679900,#829900,#999200,#997900,#996600,#995700,#994b00,#994000,#993800,#993000,#992a00,#992500,#992000,#991b00,#991800,#991400,#991100,#990e00,#990c00,#990900,#990700,#990500,#990300,#990200,#990000,#990000,#990000,#990000,#990000,#990000,#990000,#990000,#990000)"></div><div style="position:absolute;left:0;top:24px;width:906px;height:4px;background:linear-gradient(90deg,#009900,#009900,#009900,#009900,#009900,#009900,#009900,#009900,#009900,#009900,#0c9900,#209900,#369900,#4d9900,#679900,#839900,#999100,#997800,#996500,#995600,#994a00,#994000,#993700,#993000,#992a00,#992400,#991f00,#991b00,#991700,#991400,#991100,#990e00,#990b00,#990900,#990700,#990500,#990300,#990100,#990000,#990000,#990000,#990000,#990000,#990000,#990000,#990000,#990000)"></div><div style="position:absolute;left:0;top:28px;width:906px;height:4px;background:linear-gradient(90deg,#009901,#009900,#009900,#009900,#009900,#009900,#009900,#009900,#009900,#009900,#0b9900,#209900,#369900,#4d9900,#679900,#839900,#999100,#997800,#996500,#995600,#994900,#993f00,#993700,#992f00,#992900,#992400,#991f00,#991b00,#991700,#991300,#991000,#990d00,#990b00,#990900,#990600,#990400,#990300,#990100,#990000,#990000,#990000,#990000,#990000,#990000,#990000,#990000,#990000)"></div><div style="position:absolute;left:0;top:32px;width:906px;height:4px;background:linear-gradient(90deg,#009904,#009903,#009901,#009900,#009900,#009900,#009900,#009900,#009900,#009900,#0b9900,#1f9900,#359900,#4d9900,#679900,#849900,#999000,#997700,#996400,#995500,#994900,#993f00,#993600,#992f00,#992900,#992300,#991e00,#991a00,#991600,#991300,#991000,#990d00,#990b00,#990800,#990600,#990400,#990200,#990100,#990000,#990000,#990000,#990000,#990000,#990000,#990000,#990000,#990000)"></div><div style="position:absolute;left:0;top:36px;width:906px;height:4px;background:linear-gradient(90deg,#009907,#009905,#009904,#009903,#009902,#009900,#009900,#009900,#009900,#009900,#0a9900,#1f9900,#359900,#4d9900,#679900,#849900,#998f00,#997700,#996300,#995400,#994800,#993e00,#993600,#992e00,#992800,#992300,#991e00,#991a00,#991600,#991300,#990f00,#990d00,#990a00,#990800,#990600,#990400,#990200,#990000,#990000,#990000,#990000,#990000,#990000,#990000,#990000,#990000,#990000)"></div><div style="position:absolute;left:0;top:40px;width:906px;height:4px;background:linear-gradient(90deg,#009909,#009908,#009907,#009906,#009905,#009904,#009902,#009901,#009900,#009900,#0a9900,#1e9900,#359900,#4d9900,#679900,#849900,#998f00,#997600,#996300,#995400,#994700,#993d00,#993500,#992e00,#992800,#992200,#991d00,#991900,#991500,#991200,#990f00,#990c00,#990a00,#990700,#990500,#990300,#990200,#990000,#990000,#990000,#990000,#990000,#990000,#990000,#990000,#990000,#990000)"></div><div style="position:absolute;left:0;top:44px;width:906px;height:4px;background:linear-gradient(90deg,#00990c,#00990b,#00990a,#009909,#009908,#009907,#009905,#009904,#009903,#009901,#099900,#1e9900,#349900,#4d9900,#689900,#859900,#998e00,#997500,#996200,#995300,#994700,#993d00,#993400,#992d00,#992700,#992200,#991d00,#991900,#991500,#991200,#990f00,#990c00,#990900,#990700,#990500,#990300,#990100,#990000,#990000,#990000,#990000,#990000,#990000,#990000,#990000,#990000,#990000)"></div><div style="position:absolute;left:0;top:48px;width:906px;height:4px;background:linear-gradient(90deg,#00990f,#00990e,#00990d,#00990c,#00990b,#00990a,#009909,#009908,#009906,#009905,#089903,#1d9901,#349900,#4d9900,#689900,#859900,#998e00,#997500,#996100,#995200,#994600,#993c00,#993400,#992d00,#992700,#992100,#991c00,#991800,#991500,#991100,#990e00,#990c00,#990900,#990700,#990500,#990300,#990100,#990000,#990000,#990000,#990000,#990000,#990000,#990000,#990000,#990000,#990000)"></div><div style="position:absolute;left:0;top:52px;width:906px;height:4px;background:linear-gradient(90deg,#009912,#009911,#009910,#00990f,#00990e,#00990d,#00990c,#00990b,#00990a,#009908,#089907,#1d9905,#349904,#4d9902,#689900,#869900,#998d00,#997400,#996100,#995200,#994600,#993c00,#993300,#992c00,#992600,#992100,#991c00,#991800,#991400,#991100,#990e00,#990b00,#990900,#990600,#990400,#990200,#990100,#990000,#990000,#990000,#990000,#990000,#990000,#990000,#990000,#990000,#990000)"></div><div style="position:absolute;left:0;top:56px;width:906px;height:4px;background:linear-gradient(90deg,#009915,#009914,#009913,#009912,#009911,#009911,#009910,#00990e,#00990d,#00990c,#07990b,#1c9909,#349908,#4d9906,#689904,#869903,#998c00,#997300,#996000,#995100,#994500,#993b00,#993300,#992c00,#992500,#992000,#991b00,#991700,#991400,#991000,#990d00,#990b00,#990800,#990600,#990400,#990200,#990000,#990000,#990000,#990000,#990000,#990000,#990000,#990000,#990000,#990000,#990000)"></div><div style="position:absolute;left:0;top:60px;width:906px;height:4px;background:linear-gradient(90deg,#009918,#009917,#009916,#009915,#009915,#009914,#009913,#009912,#009911,#009910,#07990f,#1c990e,#33990c,#4d990b,#689909,#869907,#998c05,#997202,#995f01,#995000,#994400,#993a00,#993200,#992b00,#992500,#992000,#991b00,#991700,#991300,#991000,#990d00,#990a00,#990800,#990600,#990400,#990200,#990000,#990000,#990000,#990000,#990000,#990000,#990000,#990000,#990000,#990000,#990000)"></div><div style="position:absolute;left:0;top:64px;width:906px;height:4px;background:linear-gradient(90deg,#00991a,#00991a,#009919,#009919,#009918,#009917,#009917,#009916,#009915,#009914,#069913,#1c9912,#339911,#4c990f,#68990e,#87990c,#998b0a,#997206,#995f04,#995002,#994401,#993a00,#993200,#992a00,#992400,#991f00,#991b00,#991600,#991300,#991000,#990d00,#990a00,#990700,#990500,#990300,#990100,#990000,#990000,#990000,#990000,#990000,#990000,#990000,#990000,#990000,#990000,#990000)"></div><div style="position:absolute;left:0;top:68px;width:906px;height:4px;background:linear-gradient(90deg,#00991d,#00991d,#00991c,#00991c,#00991b,#00991b,#00991a,#009919,#009919,#009918,#059917,#1b9916,#339915,#4c9914,#699913,#879911,#998a0e,#99710a,#995e08,#994f05,#994303,#993902,#993101,#992a00,#992400,#991f00,#991a00,#991600,#991200,#990f00,#990c00,#990a00,#990700,#990500,#990300,#990100,#990000,#990000,#990000,#990000,#990000,#990000,#990000,#990000,#990000,#990000,#990000)"></div><div style="position:absolute;left:0;top:72px;width:906px;height:4px;background:linear-gradient(90deg,#009920,#009920,#009920,#00991f,#00991f,#00991e,#00991e,#00991d,#00991c,#00991c,#05991b,#1b991a,#329919,#4c9918,#699917,#889916,#998a13,#99700f,#995d0b,#994e08,#994206,#993905,#993003,#992902,#992301,#991e00,#991a00,#991500,#991200,#990f00,#990c00,#990900,#990700,#990500,#990300,#990100,#990000,#990000,#990000,#990000,#990000,#990000,#990000,#990000,#990000,#990000,#990000)"></div><div style="position:absolute;left:0;top:76px;width:906px;height:4px;background:linear-gradient(90deg,#009923,#009923,#009923,#009922,#009922,#009922,#009921,#009921,#009920,#009920,#04991f,#1a991f,#32991e,#4c991d,#69991c,#88991c,#998918,#997013,#995d0f,#994e0c,#994209,#993807,#993006,#992904,#992303,#991e02,#991901,#991500,#991100,#990e00,#990b00,#990900,#990600,#990400,#990200,#990000,#990000,#990000,#990000,#990000,#990000,#990000,#990000,#990000,#990000,#990000,#990000)"></div><div style="position:absolute;left:0;top:80px;width:906px;height:4px;background:linear-gradient(90deg,#009927,#009926,#009926,#009926,#009926,#009925,#009925,#009925,#009924,#009924,#039924,#1a9923,#329923,#4c9922,#699921,#899921,#99881d,#996f17,#995c12,#994d0f,#99410c,#99370a,#992f08,#992806,#992205,#991d04,#991903,#991502,#991101,#990e00,#990b00,#990800,#990600,#990400,#990200,#990000,#990000,#990000,#990000,#990000,#990000,#990000,#990000,#990000,#990000,#990000,#990000)"></div><div style="position:absolute;left:0;top:84px;width:906px;height:4px;background:linear-gradient(90deg,#00992a,#00992a,#009929,#009929,#009929,#009929,#009929,#009929,#009928,#009928,#039928,#199928,#319927,#4c9927,#699927,#899926,#998722,#996e1b,#995b16,#994c12,#99400f,#99370c,#992f0a,#992809,#992207,#991d06,#991804,#991403,#991102,#990d02,#990a01,#990800,#990600,#990300,#990100,#990000,#990000,#990000,#990000,#990000,#990000,#990000,#990000,#990000,#990000,#990000,#990000)"></div><div style="position:absolute;left:0;top:88px;width:906px;height:4px;background:linear-gradient(90deg,#00992d,#00992d,#00992d,#00992d,#00992d,#00992d,#00992d,#00992c,#00992c,#00992c,#02992c,#18992c,#31992c,#4c992c,#69992c,#8a992c,#998726,#996e1f,#995b1a,#994c15,#994012,#99360f,#992e0d,#99270b,#992109,#991c08,#991806,#991405,#991004,#990d03,#990a02,#990802,#990501,#990300,#990100,#990000,#990000,#990000,#990000,#990000,#990000,#990000,#990000,#990000,#990000,#990000,#990000)"></div><div style="position:absolute;left:0;top:92px;width:906px;height:4px;background:linear-gradient(90deg,#009930,#009930,#009930,#009930,#009930,#009930,#009930,#009930,#009931,#009931,#019931,#189931,#319931,#4c9931,#699931,#8a9931,#99862b,#996d23,#995a1d,#994b19,#993f15,#993512,#992d0f,#99260d,#99210b,#991c0a,#991708,#991307,#991006,#990c05,#990a04,#990703,#990502,#990302,#990101,#990000,#990000,#990000,#990000,#990000,#990000,#990000,#990000,#990000,#990000,#990000,#990000)"></div><div style="position:absolute;left:0;top:96px;width:906px;height:4px;background:linear-gradient(90deg,#009933,#009933,#009934,#009934,#009934,#009934,#009934,#009935,#009935,#009935,#009935,#179936,#309936,#4c9936,#6a9937,#8b9937,#998531,#996c28,#995921,#994a1c,#993e18,#993514,#992d12,#99260f,#99200d,#991b0b,#99170a,#991309,#990f07,#990c06,#990905,#990704,#990404,#990203,#990002,#990002,#990001,#990000,#990000,#990000,#990000,#990000,#990000,#990000,#990000,#990000,#990000)"></div><div style="position:absolute;left:0;top:100px;width:906px;height:4px;background:linear-gradient(90deg,#009936,#009937,#009937,#009937,#009938,#009938,#009938,#009939,#009939,#009939,#00993a,#17993a,#30993b,#4c993c,#6a993c,#8b993d,#998536,#996b2c,#995825,#994a1f,#993e1b,#993417,#992c14,#992512,#99200f,#991a0d,#99160c,#99120a,#990f09,#990c08,#990907,#990606,#990405,#990204,#990003,#990003,#990002,#990002,#990001,#990001,#990000,#990000,#990000,#990000,#990000,#990000,#990000)"></div><div style="position:absolute;left:0;top:104px;width:906px;height:4px;background:linear-gradient(90deg,#00993a,#00993a,#00993b,#00993b,#00993b,#00993c,#00993c,#00993d,#00993d,#00993e,#00993f,#16993f,#309940,#4b9941,#6a9942,#8c9943,#99843b,#996b30,#995829,#994923,#993d1e,#99341a,#992c17,#992514,#991f11,#991a0f,#99160e,#99120c,#990e0b,#990b09,#990808,#990607,#990406,#990205,#990005,#990004,#990003,#990003,#990002,#990002,#990001,#990001,#990000,#990000,#990000,#990000,#990000)"></div><div style="position:absolute;left:0;top:108px;width:906px;height:4px;background:linear-gradient(90deg,#00993d,#00993e,#00993e,#00993f,#00993f,#009940,#009940,#009941,#009942,#009943,#009943,#169944,#2f9945,#4b9947,#6a9948,#8c9949,#998340,#996a35,#99572c,#994826,#993c21,#99331d,#992b19,#992416,#991e14,#991911,#99150f,#99110e,#990e0c,#990b0b,#99080a,#990509,#990308,#990107,#990006,#990005,#990004,#990004,#990003,#990003,#990002,#990001,#990001,#990001,#990000,#990000,#990000)"></div><div style="position:absolute;left:0;top:112px;width:906px;height:4px;background:linear-gradient(90deg,#009940,#009941,#009942,#009942,#009943,#009944,#009945,#009945,#009946,#009947,#009948,#159949,#2f994b,#4b994c,#6a994e,#8d994f,#998245,#996939,#995630,#994729,#993c24,#99321f,#992a1c,#992418,#991e16,#991913,#991511,#99110f,#990d0e,#990a0c,#99080b,#99050a,#990309,#990108,#990007,#990006,#990005,#990005,#990004,#990004,#990003,#990002,#990002,#990001,#990001,#990001,#990000)"></div><div style="position:absolute;left:0;top:116px;width:906px;height:4px;background:linear-gradient(90deg,#009944,#009945,#009945,#009946,#009947,#009948,#009949,#00994a,#00994b,#00994c,#00994d,#14994f,#2e9950,#4b9952,#6b9954,#8e9956,#99824b,#99683e,#995534,#99472d,#993b27,#993222,#992a1e,#99231b,#991d18,#991815,#991413,#991011,#990d10,#990a0e,#99070d,#99050b,#99020a,#990009,#990008,#990007,#990007,#990006,#990005,#990005,#990004,#990003,#990003,#990002,#990002,#990001,#990001)"></div><div style="position:absolute;left:0;top:120px;width:906px;height:4px;background:linear-gradient(90deg,#009947,#009948,#009949,#00994a,#00994b,#00994c,#00994d,#00994e,#00994f,#009951,#009952,#149954,#2e9956,#4b9958,#6b995a,#8e995c,#998150,#996742,#995538,#994630,#993a2a,#993125,#992921,#99221d,#991d1a,#991817,#991315,#991013,#990c11,#990910,#99070e,#99040d,#99020c,#99000a,#990009,#990009,#990008,#990007,#990006,#990006,#990005,#990004,#990004,#990003,#990003,#990002,#990002)"></div><div style="position:absolute;left:0;top:124px;width:906px;height:4px;background:linear-gradient(90deg,#00994b,#00994c,#00994d,#00994e,#00994f,#009950,#009951,#009953,#009954,#009956,#009957,#139959,#2e995b,#4b995e,#6b9960,#8f9963,#998055,#996747,#99543c,#994534,#993a2d,#993028,#992823,#99221f,#991c1c,#991719,#991317,#990f15,#990c13,#990911,#990610,#99040e,#99020d,#99000c,#99000b,#99000a,#990009,#990008,#990007,#990007,#990006,#990005,#990005,#990004,#990004,#990003,#990003)"></div><div style="position:absolute;left:0;top:128px;width:906px;height:4px;background:linear-gradient(90deg,#00994e,#00994f,#009951,#009952,#009953,#009954,#009956,#009957,#009959,#00995b,#00995d,#13995f,#2d9961,#4b9964,#6b9967,#8f996a,#997f5b,#99664c,#995340,#994437,#993930,#99302b,#992826,#992122,#991c1e,#99171b,#991219,#990f17,#990b15,#990813,#990611,#990310,#99010e,#99000d,#99000c,#99000b,#99000a,#990009,#990008,#990008,#990007,#990006,#990006,#990005,#990004,#990004,#990003)"></div><div style="position:absolute;left:0;top:132px;width:906px;height:4px;background:linear-gradient(90deg,#009952,#009953,#009954,#009956,#009957,#009959,#00995a,#00995c,#00995e,#009960,#009962,#129964,#2d9967,#4b996a,#6b996d,#909971,#997e61,#996550,#995244,#99443b,#993833,#992f2d,#992728,#992124,#991b21,#99161d,#99121b,#990e18,#990b16,#990814,#990513,#990311,#990110,#99000e,#99000d,#99000c,#99000b,#99000a,#990009,#990009,#990008,#990007,#990007,#990006,#990005,#990005,#990004)"></div><div style="position:absolute;left:0;top:136px;width:906px;height:4px;background:linear-gradient(90deg,#009956,#009957,#009958,#00995a,#00995b,#00995d,#00995f,#009961,#009963,#009965,#009967,#11996a,#2c996d,#4a9970,#6c9974,#919978,#997e66,#996455,#995148,#99433e,#993837,#992e30,#99262b,#992027,#991a23,#99161f,#99111d,#990e1a,#990a18,#990816,#990514,#990312,#990011,#990010,#99000e,#99000d,#99000c,#99000b,#99000a,#99000a,#990009,#990008,#990007,#990007,#990006,#990006,#990005)"></div><div style="position:absolute;left:0;top:140px;width:906px;height:4px;background:linear-gradient(90deg,#009959,#00995b,#00995c,#00995e,#00995f,#009961,#009963,#009965,#009968,#00996a,#00996d,#119970,#2c9973,#4a9977,#6c997b,#91997f,#997d6c,#99635a,#99514c,#994242,#99373a,#992e33,#99262e,#991f29,#991a25,#991522,#99111f,#990d1c,#990a1a,#990717,#990416,#990214,#990012,#990011,#990010,#99000f,#99000d,#99000c,#99000b,#99000b,#99000a,#990009,#990008,#990008,#990007,#990006,#990006)"></div><div style="position:absolute;left:0;top:144px;width:906px;height:4px;background:linear-gradient(90deg,#00995d,#00995f,#009960,#009962,#009964,#009966,#009968,#00996a,#00996d,#009970,#009973,#109976,#2c9979,#4a997d,#6c9982,#929987,#997c72,#99635f,#995050,#994146,#99363d,#992d36,#992530,#991f2b,#991927,#991424,#991020,#990d1e,#99091b,#990719,#990417,#990215,#990014,#990012,#990011,#990010,#99000f,#99000e,#99000d,#99000c,#99000b,#99000a,#990009,#990009,#990008,#990007,#990007)"></div><div style="position:absolute;left:0;top:148px;width:906px;height:4px;background:linear-gradient(90deg,#009961,#009962,#009964,#009966,#009968,#00996a,#00996d,#00996f,#009972,#009975,#009978,#0f997c,#2b9980,#4a9984,#6c9989,#93998f,#997b78,#996263,#994f55,#994149,#993540,#992c39,#992533,#991e2e,#991929,#991426,#991022,#990c1f,#99091d,#99061b,#990419,#990117,#990015,#990014,#990012,#990011,#990010,#99000f,#99000e,#99000d,#99000c,#99000b,#99000a,#990009,#990009,#990008,#990008)"></div><div style="position:absolute;left:0;top:152px;width:906px;height:4px;background:linear-gradient(90deg,#009965,#009966,#009968,#00996a,#00996d,#00996f,#009971,#009974,#009977,#00997a,#00997e,#0f9982,#2b9986,#4a998b,#6d9990,#949996,#997a7e,#996168,#994e59,#99404d,#993543,#992b3c,#992435,#991d30,#99182c,#991328,#990f24,#990c21,#99091f,#99061c,#99031a,#990118,#990016,#990015,#990013,#990012,#990011,#990010,#99000f,#99000e,#99000d,#99000c,#99000b,#99000a,#99000a,#990009,#990008)"></div><div style="position:absolute;left:0;top:156px;width:906px;height:4px;background:linear-gradient(90deg,#009968,#00996a,#00996c,#00996f,#009971,#009974,#009976,#009979,#00997d,#009980,#009984,#0e9988,#2a998d,#4a9992,#6d9998,#8f9499,#997984,#99606d,#994d5d,#993f51,#993447,#992b3f,#992338,#991d33,#99172e,#99132a,#990f26,#990b23,#990820,#99051e,#99031c,#99001a,#990018,#990016,#990015,#990013,#990012,#990011,#990010,#99000f,#99000e,#99000d,#99000c,#99000b,#99000b,#99000a,#990009)"></div><div style="position:absolute;left:0;top:160px;width:906px;height:4px;background:linear-gradient(90deg,#00996c,#00996e,#009971,#009973,#009976,#009978,#00997b,#00997f,#009982,#009986,#00998a,#0d998f,#2a9994,#499999,#699399,#898c99,#99788a,#995f72,#994d61,#993e54,#99334a,#992a42,#99233b,#991c35,#991730,#99122c,#990e28,#990b25,#990822,#990520,#99021d,#99001b,#990019,#990018,#990016,#990015,#990013,#990012,#990011,#990010,#99000f,#99000e,#99000d,#99000c,#99000b,#99000b,#99000a)"></div><div style="position:absolute;left:0;top:164px;width:906px;height:4px;background:linear-gradient(90deg,#009970,#009973,#009975,#009978,#00997a,#00997d,#009980,#009984,#009988,#00998c,#009990,#0c9995,#299799,#469299,#648c99,#838699,#997890,#995e77,#994c66,#993e58,#99324d,#992945,#99223e,#991c38,#991632,#99122e,#990e2a,#990a27,#990724,#990421,#99021f,#99001d,#99001b,#990019,#990017,#990016,#990014,#990013,#990012,#990011,#990010,#99000f,#99000e,#99000d,#99000c,#99000c,#99000b)"></div><div style="position:absolute;left:0;top:168px;width:906px;height:4px;background:linear-gradient(90deg,#009974,#009977,#009979,#00997c,#00997f,#009982,#009986,#009989,#00998d,#009992,#009996,#0b9699,#279199,#438b99,#5f8599,#7d7f99,#997796,#995d7d,#994b6a,#993d5c,#993251,#992948,#992140,#991b3a,#991635,#991130,#990d2c,#990a29,#990726,#990423,#990120,#99001e,#99001c,#99001a,#990019,#990017,#990016,#990014,#990013,#990012,#990011,#990010,#99000f,#99000e,#99000d,#99000c,#99000c)"></div><div style="position:absolute;left:0;top:172px;width:906px;height:4px;background:linear-gradient(90deg,#009978,#00997b,#00997e,#009981,#009984,#009987,#00998b,#00998f,#009993,#009998,#009599,#0a9099,#248b99,#3f8599,#5b7f99,#787999,#967399,#995c82,#994a6e,#993c60,#993154,#99284b,#992143,#991a3c,#991537,#991132,#990d2e,#99092a,#990627,#990324,#990122,#990020,#99001d,#99001c,#99001a,#990018,#990017,#990015,#990014,#990013,#990012,#990011,#990010,#99000f,#99000e,#99000d,#99000d)"></div><div style="position:absolute;left:0;top:176px;width:906px;height:4px;background:linear-gradient(90deg,#00997d,#00997f,#009982,#009985,#009989,#00998c,#009990,#009994,#009999,#009499,#008f99,#098a99,#228599,#3d7f99,#587a99,#737499,#906e99,#995c87,#994973,#993b63,#993057,#99274e,#992046,#991a3f,#991439,#991034,#990c30,#99092c,#990629,#990326,#990023,#990021,#99001f,#99001d,#99001b,#990019,#990018,#990016,#990015,#990014,#990013,#990012,#990011,#990010,#99000f,#99000e,#99000d)"></div><div style="position:absolute;left:0;top:180px;width:906px;height:4px;background:linear-gradient(90deg,#009981,#009984,#009987,#00998a,#00998d,#009991,#009995,#009899,#009399,#008f99,#008a99,#088599,#217f99,#3a7a99,#547499,#6f6f99,#8a6999,#995b8c,#994877,#993a67,#992f5b,#992651,#991f48,#991942,#99143c,#990f37,#990c32,#99082e,#99052b,#990228,#990025,#990022,#990020,#99001e,#99001c,#99001b,#990019,#990018,#990016,#990015,#990014,#990013,#990012,#990011,#990010,#99000f,#99000e)"></div><div style="position:absolute;left:0;top:184px;width:906px;height:4px;background:linear-gradient(90deg,#009985,#009988,#00998b,#00998f,#009992,#009997,#009799,#009399,#008e99,#008999,#008499,#077f99,#1f7a99,#377599,#516f99,#6b6a99,#856499,#995a92,#99477c,#99396b,#992f5e,#992654,#991e4b,#991844,#99133e,#990f39,#990b34,#990830,#99052d,#990229,#990027,#990024,#990022,#990020,#99001e,#99001c,#99001a,#990019,#990017,#990016,#990015,#990014,#990013,#990012,#990011,#990010,#99000f)"></div><div style="position:absolute;left:0;top:188px;width:906px;height:4px;background:linear-gradient(90deg,#009989,#00998c,#009990,#009994,#009998,#009699,#009299,#008d99,#008999,#008499,#007f99,#067a99,#1d7599,#357099,#4d6b99,#676599,#806099,#995997,#994680,#99396f,#992e62,#992557,#991e4e,#991847,#991340,#990e3b,#990a36,#990732,#99042e,#99012b,#990028,#990025,#990023,#990021,#99001f,#99001d,#99001b,#99001a,#990018,#990017,#990016,#990015,#990014,#990013,#990012,#990011,#990010)"></div><div style="position:absolute;left:0;top:192px;width:906px;height:4px;background:linear-gradient(90deg,#00998e,#009991,#009995,#009998,#009599,#009199,#008d99,#008999,#008499,#007f99,#007b99,#057699,#1c7199,#336c99,#4b6699,#636199,#7c5c99,#965699,#994685,#993873,#992d65,#99245a,#991d51,#991749,#991243,#990e3d,#990a38,#990734,#990430,#99012d,#99002a,#990027,#990024,#990022,#990020,#99001e,#99001d,#99001b,#99001a,#990018,#990017,#990016,#990015,#990013,#990013,#990012,#990011)"></div><div style="position:absolute;left:0;top:196px;width:906px;height:4px;background:linear-gradient(90deg,#009992,#009996,#009999,#009599,#009199,#008c99,#008899,#008499,#007f99,#007b99,#007699,#047199,#1a6c99,#316799,#486299,#5f5d99,#785899,#915299,#99458a,#993777,#992c69,#99235d,#991c54,#99164c,#991145,#990d3f,#99093a,#990636,#990332,#99002e,#99002b,#990028,#990026,#990024,#990022,#990020,#99001e,#99001c,#99001b,#990019,#990018,#990017,#990015,#990014,#990013,#990012,#990012)"></div><div style="position:absolute;left:0;top:200px;width:906px;height:4px;background:linear-gradient(90deg,#009997,#009899,#009499,#009099,#008c99,#008899,#008499,#007f99,#007b99,#007799,#007299,#036d99,#196899,#2f6399,#455e99,#5c5999,#745499,#8c4e99,#99448e,#99367b,#992b6c,#992360,#991c57,#99164e,#991147,#990c41,#99093c,#990538,#990334,#990030,#99002d,#99002a,#990027,#990025,#990023,#990021,#99001f,#99001d,#99001c,#99001a,#990019,#990018,#990016,#990015,#990014,#990013,#990012)"></div><div style="position:absolute;left:0;top:204px;width:906px;height:4px;background:linear-gradient(90deg,#009799,#009399,#008f99,#008c99,#008899,#008499,#007f99,#007b99,#007799,#007299,#006e99,#036999,#176599,#2d6099,#435b99,#595699,#705099,#874b99,#994393,#99357f,#992b70,#992264,#991b59,#991551,#99104a,#990c44,#99083e,#99053a,#990235,#990032,#99002e,#99002b,#990029,#990026,#990024,#990022,#990020,#99001e,#99001d,#99001b,#99001a,#990019,#990017,#990016,#990015,#990014,#990013)"></div><div style="position:absolute;left:0;top:208px;width:906px;height:4px;background:linear-gradient(90deg,#009399,#008f99,#008b99,#008799,#008399,#007f99,#007b99,#007799,#007399,#006f99,#006a99,#026699,#166199,#2b5c99,#405799,#565299,#6c4d99,#834899,#994298,#993483,#992a73,#992167,#991a5c,#991454,#990f4c,#990b46,#990840,#99043b,#990237,#990033,#990030,#99002d,#99002a,#990028,#990025,#990023,#990021,#990020,#99001e,#99001c,#99001b,#99001a,#990018,#990017,#990016,#990015,#990014)"></div><div style="position:absolute;left:0;top:212px;width:906px;height:4px;background:linear-gradient(90deg,#008e99,#008b99,#008799,#008399,#007f99,#007b99,#007799,#007399,#006f99,#006b99,#006699,#016299,#155d99,#295999,#3e5499,#534f99,#694a99,#7f4599,#953f99,#993388,#992977,#99206a,#991a5f,#991456,#990f4f,#990b48,#990742,#99043d,#990139,#990035,#990032,#99002f,#99002c,#990029,#990027,#990025,#990023,#990021,#99001f,#99001d,#99001c,#99001b,#990019,#990018,#990017,#990016,#990015)"></div><div style="position:absolute;left:0;top:216px;width:906px;height:4px;background:linear-gradient(90deg,#008a99,#008799,#008399,#007f99,#007c99,#007899,#007499,#007099,#006c99,#006799,#006399,#015f99,#145a99,#285599,#3c5199,#504c99,#654799,#7b4299,#913d99,#99338c,#99287b,#99206d,#991962,#991359,#990e51,#990a4a,#990644,#99033f,#99013b,#990037,#990033,#990030,#99002d,#99002a,#990028,#990026,#990024,#990022,#990020,#99001f,#99001d,#99001c,#99001a,#990019,#990018,#990017,#990016)"></div><div style="position:absolute;left:0;top:220px;width:906px;height:4px;background:linear-gradient(90deg,#008799,#008399,#007f99,#007c99,#007899,#007499,#007099,#006c99,#006899,#006499,#006099,#005b99,#135799,#265299,#3a4e99,#4e4999,#624499,#773f99,#8d3a99,#993290,#99277e,#991f70,#991865,#99125b,#990e53,#99094d,#990647,#990341,#99003d,#990039,#990035,#990032,#99002f,#99002c,#990029,#990027,#990025,#990023,#990021,#990020,#99001e,#99001d,#99001b,#99001a,#990019,#990018,#990017)"></div><div style="position:absolute;left:0;top:224px;width:906px;height:4px;background:linear-gradient(90deg,#008399,#007f99,#007c99,#007899,#007499,#007199,#006d99,#006999,#006599,#006199,#005c99,#005899,#125499,#254f99,#384b99,#4b4699,#5f4199,#743c99,#893799,#993194,#992682,#991e74,#991768,#99125e,#990d56,#99094f,#990549,#990243,#99003e,#99003a,#990036,#990033,#990030,#99002d,#99002b,#990028,#990026,#990024,#990022,#990021,#99001f,#99001e,#99001c,#99001b,#99001a,#990019,#990017)"></div><div style="position:absolute;left:0;top:228px;width:906px;height:4px;background:linear-gradient(90deg,#007f99,#007c99,#007899,#007599,#007199,#006d99,#006a99,#006699,#006299,#005e99,#005999,#005599,#115199,#234c99,#364899,#494399,#5c3f99,#703a99,#853599,#993098,#992686,#991d77,#99176b,#991161,#990c58,#990851,#99054b,#990245,#990040,#99003c,#990038,#990035,#990031,#99002f,#99002c,#99002a,#990027,#990025,#990023,#990022,#990020,#99001f,#99001d,#99001c,#99001b,#990019,#990018)"></div><div style="position:absolute;left:0;top:232px;width:906px;height:4px;background:linear-gradient(90deg,#007c99,#007999,#007599,#007299,#006e99,#006a99,#006699,#006399,#005f99,#005b99,#005799,#005299,#104e99,#224a99,#344599,#474199,#5a3c99,#6d3899,#813399,#952e99,#99258a,#991d7a,#99166e,#991064,#990c5b,#990853,#99044d,#990147,#990042,#99003e,#99003a,#990036,#990033,#990030,#99002d,#99002b,#990029,#990027,#990025,#990023,#990021,#990020,#99001e,#99001d,#99001c,#99001a,#990019)"></div><div style="position:absolute;left:0;top:236px;width:906px;height:4px;background:linear-gradient(90deg,#007999,#007599,#007299,#006e99,#006b99,#006799,#006399,#006099,#005c99,#005899,#005499,#005099,#0f4b99,#204799,#324399,#453e99,#573a99,#6a3599,#7e3199,#912c99,#99248d,#991c7e,#991571,#991066,#990b5d,#990756,#99044f,#990149,#990044,#99003f,#99003b,#990038,#990034,#990031,#99002f,#99002c,#99002a,#990028,#990026,#990024,#990022,#990021,#99001f,#99001e,#99001c,#99001b,#99001a)"></div><div style="position:absolute;left:0;top:240px;width:906px;height:4px;background:linear-gradient(90deg,#007699,#007299,#006f99,#006b99,#006899,#006499,#006199,#005d99,#005999,#005599,#005199,#004d99,#0e4999,#1f4599,#314099,#433c99,#553899,#673399,#7a2e99,#8e2a99,#992391,#991b81,#991474,#990f69,#990a60,#990658,#990351,#99004b,#990046,#990041,#99003d,#990039,#990036,#990033,#990030,#99002d,#99002b,#990029,#990027,#990025,#990023,#990022,#990020,#99001f,#99001d,#99001c,#99001b)"></div><div style="position:absolute;left:0;top:244px;width:906px;height:4px;background:linear-gradient(90deg,#007399,#006f99,#006c99,#006899,#006599,#006199,#005e99,#005a99,#005699,#005299,#004f99,#004b99,#0d4699,#1e4299,#2f3e99,#413a99,#523599,#643199,#772c99,#8a2899,#992295,#991a84,#991477,#990e6c,#990a62,#99065a,#990253,#99004d,#990048,#990043,#99003f,#99003b,#990037,#990034,#990031,#99002f,#99002c,#99002a,#990028,#990026,#990024,#990023,#990021,#990020,#99001e,#99001d,#99001c)"></div><div style="position:absolute;left:0;top:248px;width:906px;height:4px;background:linear-gradient(90deg,#007099,#006c99,#006999,#006699,#006299,#005f99,#005b99,#005799,#005499,#005099,#004c99,#004899,#0c4499,#1d4099,#2e3c99,#3f3899,#503399,#622f99,#742a99,#862699,#992199,#991988,#99137a,#990e6f,#990965,#99055d,#990255,#99004f,#99004a,#990045,#990040,#99003c,#990039,#990036,#990033,#990030,#99002e,#99002b,#990029,#990027,#990025,#990024,#990022,#990021,#99001f,#99001e,#99001d)"></div><div style="position:absolute;left:0;top:252px;width:906px;height:4px;background:linear-gradient(90deg,#006d99,#006a99,#006699,#006399,#006099,#005c99,#005999,#005599,#005199,#004d99,#004a99,#004699,#0c4299,#1c3e99,#2c3a99,#3d3699,#4e3199,#5f2d99,#712999,#832499,#952099,#99188b,#99127d,#990d71,#990867,#99045f,#990158,#990051,#99004b,#990046,#990042,#99003e,#99003a,#990037,#990034,#990031,#99002f,#99002c,#99002a,#990028,#990026,#990025,#990023,#990022,#990020,#99001f,#99001d)"></div><div style="position:absolute;left:0;top:256px;width:906px;height:4px;background:linear-gradient(90deg,#006a99,#006799,#006499,#006099,#005d99,#005a99,#005699,#005299,#004f99,#004b99,#004799,#004499,#0b4099,#1b3c99,#2b3899,#3b3499,#4c2f99,#5d2b99,#6e2799,#802299,#921e99,#99188f,#991180,#990c74,#99086a,#990461,#99015a,#990053,#99004d,#990048,#990044,#990040,#99003c,#990038,#990035,#990033,#990030,#99002e,#99002b,#990029,#990027,#990026,#990024,#990022,#990021,#990020,#99001e)"></div><div style="position:absolute;left:0;top:260px;width:906px;height:4px;background:linear-gradient(90deg,#006899,#006499,#006199,#005e99,#005b99,#005799,#005499,#005099,#004d99,#004999,#004599,#004199,#0a3e99,#1a3a99,#293699,#393299,#4a2e99,#5a2999,#6b2599,#7d2199,#8e1c99,#991792,#991183,#990b77,#99076c,#990364,#99005c,#990055,#99004f,#99004a,#990045,#990041,#99003d,#99003a,#990037,#990034,#990031,#99002f,#99002d,#99002a,#990029,#990027,#990025,#990023,#990022,#990021,#99001f)"></div><div style="position:absolute;left:0;top:264px;width:906px;height:4px;background:linear-gradient(90deg,#006599,#006299,#005f99,#005b99,#005899,#005599,#005199,#004e99,#004a99,#004799,#004399,#003f99,#0a3c99,#193899,#283499,#383099,#482c99,#582899,#692499,#7a1f99,#8b1b99,#991696,#991086,#990b7a,#99066f,#990366,#99005e,#990057,#990051,#99004c,#990047,#990043,#99003f,#99003b,#990038,#990035,#990032,#990030,#99002e,#99002c,#99002a,#990028,#990026,#990024,#990023,#990021,#990020)"></div><div style="position:absolute;left:0;top:268px;width:906px;height:4px;background:linear-gradient(90deg,#006399,#006099,#005c99,#005999,#005699,#005399,#004f99,#004c99,#004899,#004599,#004199,#003d99,#093a99,#183699,#273299,#362e99,#462a99,#562699,#662299,#771e99,#881999,#991599,#990f8a,#990a7d,#990672,#990268,#990060,#990059,#990053,#99004e,#990049,#990044,#990040,#99003d,#990039,#990036,#990034,#990031,#99002f,#99002d,#99002b,#990029,#990027,#990025,#990024,#990022,#990021)"></div><div style="position:absolute;left:0;top:272px;width:906px;height:4px;background:linear-gradient(90deg,#006099,#005d99,#005a99,#005799,#005499,#005099,#004d99,#004a99,#004699,#004399,#003f99,#003c99,#083899,#173499,#263099,#352c99,#442899,#542499,#642099,#741c99,#841899,#951499,#990e8d,#99097f,#990574,#99016b,#990062,#99005b,#990055,#99004f,#99004a,#990046,#990042,#99003e,#99003b,#990038,#990035,#990032,#990030,#99002e,#99002c,#99002a,#990028,#990026,#990025,#990023,#990022)"></div><div style="position:absolute;left:0;top:276px;width:906px;height:4px;background:linear-gradient(90deg,#005e99,#005b99,#005899,#005599,#005299,#004e99,#004b99,#004899,#004499,#004199,#003d99,#003a99,#083699,#163299,#252f99,#332b99,#432799,#522399,#611f99,#711b99,#811799,#921399,#990d90,#990882,#990477,#99016d,#990065,#99005d,#990057,#990051,#99004c,#990048,#990043,#990040,#99003c,#990039,#990036,#990034,#990031,#99002f,#99002d,#99002b,#990029,#990027,#990026,#990024,#990023)"></div><div style="position:absolute;left:0;top:280px;width:906px;height:4px;background:linear-gradient(90deg,#005c99,#005999,#005699,#005399,#004f99,#004c99,#004999,#004699,#004299,#003f99,#003b99,#003899,#073499,#153199,#232d99,#322999,#412599,#502299,#5f1e99,#6f1a99,#7f1599,#8f1199,#990d93,#990885,#99047a,#990070,#990067,#99005f,#990059,#990053,#99004e,#990049,#990045,#990041,#99003e,#99003a,#990037,#990035,#990032,#990030,#99002e,#99002c,#99002a,#990028,#990027,#990025,#990024)"></div><div style="position:absolute;left:0;top:284px;width:906px;height:4px;background:linear-gradient(90deg,#005a99,#005799,#005499,#005199,#004d99,#004a99,#004799,#004499,#004099,#003d99,#003a99,#003699,#063399,#142f99,#222b99,#312899,#3f2499,#4e2099,#5d1c99,#6c1899,#7c1499,#8c1099,#990c96,#990788,#99037c,#990072,#990069,#990061,#99005b,#990055,#99004f,#99004b,#990046,#990043,#99003f,#99003c,#990039,#990036,#990033,#990031,#99002f,#99002d,#99002b,#990029,#990027,#990026,#990024)"></div><div style="position:absolute;left:0;top:288px;width:906px;height:4px;background:linear-gradient(90deg,#005899,#005599,#005299,#004f99,#004b99,#004899,#004599,#004299,#003f99,#003b99,#003899,#003499,#063199,#142d99,#212a99,#2f2699,#3e2399,#4c1f99,#5b1b99,#6a1799,#791399,#890f99,#980b99,#99068b,#99027f,#990074,#99006b,#990064,#99005d,#990057,#990051,#99004c,#990048,#990044,#990040,#99003d,#99003a,#990037,#990035,#990032,#990030,#99002e,#99002c,#99002a,#990028,#990027,#990025)"></div><div style="position:absolute;left:0;top:292px;width:906px;height:4px;background:linear-gradient(90deg,#005699,#005399,#005099,#004d99,#004a99,#004699,#004399,#004099,#003d99,#003a99,#003699,#003399,#052f99,#132c99,#202899,#2e2599,#3c2199,#4a1d99,#591a99,#681699,#771299,#860e99,#950a99,#99058e,#990181,#990077,#99006e,#990066,#99005f,#990058,#990053,#99004e,#990049,#990045,#990042,#99003e,#99003b,#990038,#990036,#990033,#990031,#99002f,#99002d,#99002b,#990029,#990028,#990026)"></div><div style="position:absolute;left:0;top:296px;width:906px;height:4px;background:linear-gradient(90deg,#005499,#005199,#004e99,#004b99,#004899,#004599,#004299,#003e99,#003b99,#003899,#003599,#003199,#052e99,#122a99,#1f2799,#2d2399,#3b2099,#491c99,#571899,#651599,#741199,#830d99,#920999,#990591,#990184,#990079,#990070,#990068,#990061,#99005a,#990055,#990050,#99004b,#990047,#990043,#990040,#99003d,#99003a,#990037,#990034,#990032,#990030,#99002e,#99002c,#99002a,#990029,#990027)"></div><div style="position:absolute;left:0;top:300px;width:906px;height:4px;background:linear-gradient(90deg,#005299,#004f99,#004c99,#004999,#004699,#004399,#004099,#003d99,#003a99,#003699,#003399,#003099,#042c99,#112999,#1e2699,#2c2299,#391f99,#471b99,#551799,#631499,#721099,#800c99,#8f0899,#990494,#990087,#99007c,#990072,#99006a,#990063,#99005c,#990056,#990051,#99004d,#990048,#990045,#990041,#99003e,#99003b,#990038,#990036,#990033,#990031,#99002f,#99002d,#99002b,#99002a,#990028)"></div><div style="position:absolute;left:0;top:304px;width:906px;height:4px;background:linear-gradient(90deg,#005099,#004d99,#004a99,#004799,#004499,#004199,#003e99,#003b99,#003899,#003599,#003299,#002e99,#042b99,#112899,#1e2499,#2b2199,#381d99,#461a99,#531699,#611299,#6f0f99,#7e0b99,#8c0799,#990397,#99008a,#99007e,#990074,#99006c,#990065,#99005e,#990058,#990053,#99004e,#99004a,#990046,#990042,#99003f,#99003c,#990039,#990037,#990034,#990032,#990030,#99002e,#99002c,#99002a,#990029)"></div><div style="position:absolute;left:0;top:308px;width:906px;height:4px;background:linear-gradient(90deg,#004e99,#004b99,#004899,#004699,#004399,#004099,#003d99,#003a99,#003699,#003399,#003099,#002d99,#032a99,#102699,#1d2399,#2a2099,#371c99,#441999,#511599,#5f1199,#6d0e99,#7b0a99,#8a0699,#980299,#99008c,#990081,#990077,#99006e,#990067,#990060,#99005a,#990055,#990050,#99004b,#990047,#990044,#990040,#99003d,#99003a,#990038,#990035,#990033,#990031,#99002f,#99002d,#99002b,#99002a)"></div><div style="position:absolute;left:0;top:312px;width:906px;height:4px;background:linear-gradient(90deg,#004c99,#004a99,#004799,#004499,#004199,#003e99,#003b99,#003899,#003599,#003299,#002f99,#002c99,#032899,#0f2599,#1c2299,#291e99,#351b99,#431799,#501499,#5d1099,#6b0d99,#790999,#870599,#950299,#99008f,#990083,#990079,#990070,#990069,#990062,#99005c,#990056,#990051,#99004d,#990049,#990045,#990042,#99003f,#99003c,#990039,#990036,#990034,#990032,#990030,#99002e,#99002c,#99002b)"></div><div style="position:absolute;left:0;top:316px;width:906px;height:4px;background:linear-gradient(90deg,#004b99,#004899,#004599,#004299,#003f99,#003c99,#003a99,#003799,#003499,#003099,#002d99,#002a99,#022799,#0f2499,#1b2099,#281d99,#341a99,#411699,#4e1399,#5b0f99,#690c99,#760899,#840599,#920199,#990092,#990086,#99007b,#990072,#99006b,#990064,#99005d,#990058,#990053,#99004e,#99004a,#990046,#990043,#990040,#99003d,#99003a,#990038,#990035,#990033,#990031,#99002f,#99002d,#99002b)"></div><div style="position:absolute;left:0;top:320px;width:906px;height:4px;background:linear-gradient(90deg,#004999,#004699,#004399,#004199,#003e99,#003b99,#003899,#003599,#003299,#002f99,#002c99,#002999,#022699,#0e2399,#1a1f99,#271c99,#331999,#401599,#4d1299,#5a0e99,#670b99,#740799,#820499,#900099,#990095,#990088,#99007e,#990075,#99006d,#990065,#99005f,#990059,#990054,#990050,#99004c,#990048,#990044,#990041,#99003e,#99003b,#990039,#990036,#990034,#990032,#990030,#99002e,#99002c)"></div><div style="position:absolute;left:0;top:324px;width:906px;height:4px;background:linear-gradient(90deg,#004799,#004599,#004299,#003f99,#003c99,#003999,#003799,#003499,#003199,#002e99,#002b99,#002899,#022599,#0d2199,#191e99,#261b99,#321899,#3e1499,#4b1199,#580d99,#650a99,#720699,#7f0399,#8d0099,#990097,#99008b,#990080,#990077,#99006f,#990067,#990061,#99005b,#990056,#990051,#99004d,#990049,#990046,#990042,#99003f,#99003c,#99003a,#990037,#990035,#990033,#990031,#99002f,#99002d)"></div><div style="position:absolute;left:0;top:328px;width:906px;height:4px;background:linear-gradient(90deg,#004699,#004399,#004099,#003e99,#003b99,#003899,#003599,#003299,#002f99,#002c99,#002999,#002699,#012399,#0d2099,#191d99,#251a99,#311799,#3d1399,#491099,#560d99,#630999,#700699,#7d0299,#8a0099,#980099,#99008d,#990082,#990079,#990071,#990069,#990063,#99005d,#990058,#990053,#99004e,#99004a,#990047,#990043,#990040,#99003e,#99003b,#990038,#990036,#990034,#990032,#990030,#99002e)"></div><div style="position:absolute;left:0;top:332px;width:906px;height:4px;background:linear-gradient(90deg,#004499,#004299,#003f99,#003c99,#003999,#003799,#003499,#003199,#002e99,#002b99,#002899,#002599,#012299,#0c1f99,#181c99,#241999,#301699,#3c1299,#480f99,#540c99,#610899,#6e0599,#7b0199,#880099,#950099,#990090,#990085,#99007b,#990073,#99006b,#990064,#99005f,#990059,#990054,#990050,#99004c,#990048,#990045,#990042,#99003f,#99003c,#990039,#990037,#990035,#990033,#990031,#99002f)"></div><div style="position:absolute;left:0;top:336px;width:906px;height:4px;background:linear-gradient(90deg,#004399,#004099,#003e99,#003b99,#003899,#003599,#003399,#003099,#002d99,#002a99,#002799,#002499,#002199,#0c1e99,#171b99,#231899,#2f1599,#3a1199,#470e99,#530b99,#5f0899,#6c0499,#780199,#850099,#920099,#990093,#990087,#99007d,#990075,#99006d,#990066,#990060,#99005b,#990056,#990051,#99004d,#990049,#990046,#990043,#990040,#99003d,#99003a,#990038,#990036,#990034,#990032,#990030)"></div><div style="position:absolute;left:0;top:340px;width:906px;height:4px;background:linear-gradient(90deg,#004199,#003f99,#003c99,#003999,#003799,#003499,#003199,#002e99,#002c99,#002999,#002699,#002399,#002099,#0b1d99,#171a99,#221799,#2e1499,#391199,#450d99,#510a99,#5d0799,#6a0399,#760099,#830099,#900099,#990095,#99008a,#990080,#990077,#99006f,#990068,#990062,#99005c,#990057,#990053,#99004f,#99004b,#990047,#990044,#990041,#99003e,#99003c,#990039,#990037,#990035,#990033,#990031)"></div><div style="position:absolute;left:0;top:344px;width:906px;height:4px;background:linear-gradient(90deg,#004099,#003d99,#003b99,#003899,#003599,#003399,#003099,#002d99,#002a99,#002899,#002599,#002299,#001f99,#0b1c99,#161999,#211699,#2d1399,#381099,#440c99,#500999,#5c0699,#680399,#740099,#810099,#8d0099,#990098,#99008c,#990082,#990079,#990071,#99006a,#990064,#99005e,#990059,#990054,#990050,#99004c,#990048,#990045,#990042,#99003f,#99003d,#99003a,#990038,#990036,#990034,#990032)"></div><div style="position:absolute;left:0;top:348px;width:906px;height:4px;background:linear-gradient(90deg,#003f99,#003c99,#003999,#003799,#003499,#003299,#002f99,#002c99,#002999,#002699,#002499,#002199,#001e99,#0a1b99,#151899,#201599,#2c1299,#370f99,#420c99,#4e0899,#5a0599,#660299,#720099,#7e0099,#8b0099,#980099,#99008e,#990084,#99007b,#990073,#99006c,#990065,#990060,#99005a,#990056,#990051,#99004d,#99004a,#990046,#990043,#990040,#99003e,#99003b,#990039,#990037,#990035,#990033)"></div><div style="position:absolute;left:0;top:352px;width:906px;height:4px;background:linear-gradient(90deg,#003d99,#003b99,#003899,#003699,#003399,#003099,#002e99,#002b99,#002899,#002599,#002399,#002099,#001d99,#0a1a99,#151799,#201499,#2b1199,#360e99,#410b99,#4d0899,#580599,#640199,#700099,#7c0099,#890099,#950099,#990091,#990086,#99007d,#990075,#99006e,#990067,#990061,#99005c,#990057,#990053,#99004f,#99004b,#990048,#990044,#990041,#99003f,#99003c,#99003a,#990038,#990036,#990034)"></div><div style="position:absolute;left:0;top:356px;width:906px;height:4px;background:linear-gradient(90deg,#003c99,#003999,#003799,#003499,#003299,#002f99,#002c99,#002a99,#002799,#002499,#002299,#001f99,#001c99,#091999,#141699,#1f1399,#2a1099,#350d99,#400a99,#4b0799,#570499,#620199,#6e0099,#7a0099,#860099,#930099,#990093,#990088,#99007f,#990077,#99006f,#990069,#990063,#99005d,#990059,#990054,#990050,#99004c,#990049,#990046,#990043,#990040,#99003d,#99003b,#990039,#990036,#990034)"></div><div style="position:absolute;left:0;top:360px;width:906px;height:4px;background:linear-gradient(90deg,#003b99,#003899,#003699,#003399,#003199,#002e99,#002b99,#002999,#002699,#002399,#002199,#001e99,#001b99,#091899,#131599,#1e1299,#290f99,#340c99,#3f0999,#4a0699,#550399,#610099,#6c0099,#780099,#840099,#900099,#990096,#99008b,#990081,#990079,#990071,#99006a,#990064,#99005f,#99005a,#990055,#990051,#99004e,#99004a,#990047,#990044,#990041,#99003e,#99003c,#99003a,#990037,#990035)"></div><div style="position:absolute;left:0;top:364px;width:906px;height:4px;background:linear-gradient(90deg,#003999,#003799,#003499,#003299,#002f99,#002d99,#002a99,#002899,#002599,#002299,#002099,#001d99,#001a99,#081799,#131499,#1d1199,#280f99,#330c99,#3e0999,#490699,#540399,#5f0099,#6b0099,#760099,#820099,#8e0099,#990098,#99008d,#990083,#99007b,#990073,#99006c,#990066,#990060,#99005b,#990057,#990053,#99004f,#99004b,#990048,#990045,#990042,#99003f,#99003d,#99003b,#990038,#990036)"></div><div style="position:absolute;left:0;top:368px;width:906px;height:4px;background:linear-gradient(90deg,#003899,#003699,#003399,#003199,#002e99,#002c99,#002999,#002799,#002499,#002199,#001f99,#001c99,#001999,#081699,#121399,#1d1199,#270e99,#320b99,#3c0899,#470599,#520299,#5e0099,#690099,#740099,#800099,#8c0099,#970099,#99008f,#990085,#99007d,#990075,#99006e,#990068,#990062,#99005d,#990058,#990054,#990050,#99004c,#990049,#990046,#990043,#990040,#99003e,#99003b,#990039,#990037)"></div><div style="position:absolute;left:0;top:372px;width:906px;height:4px;background:linear-gradient(90deg,#003799,#003599,#003299,#003099,#002d99,#002b99,#002899,#002699,#002399,#002099,#001e99,#001b99,#001899,#071599,#121399,#1c1099,#260d99,#310a99,#3b0799,#460499,#510199,#5c0099,#670099,#720099,#7e0099,#890099,#950099,#990092,#990087,#99007f,#990077,#990070,#990069,#990064,#99005e,#99005a,#990055,#990051,#99004e,#99004a,#990047,#990044,#990041,#99003f,#99003c,#99003a,#990038)"></div><div style="position:absolute;left:0;top:376px;width:906px;height:4px;background:linear-gradient(90deg,#003699,#003399,#003199,#002f99,#002c99,#002a99,#002799,#002599,#002299,#001f99,#001d99,#001a99,#001799,#071599,#111299,#1b0f99,#250c99,#300999,#3a0799,#450499,#500199,#5a0099,#650099,#710099,#7c0099,#870099,#930099,#990094,#99008a,#990081,#990079,#990071,#99006b,#990065,#990060,#99005b,#990057,#990053,#99004f,#99004b,#990048,#990045,#990042,#990040,#99003d,#99003b,#990039)"></div><div style="position:absolute;left:0;top:380px;width:906px;height:4px;background:linear-gradient(90deg,#003599,#003299,#003099,#002e99,#002b99,#002999,#002699,#002499,#002199,#001e99,#001c99,#001999,#001799,#071499,#111199,#1b0e99,#250c99,#2f0999,#390699,#440399,#4e0099,#590099,#640099,#6f0099,#7a0099,#850099,#900099,#990096,#99008c,#990083,#99007a,#990073,#99006d,#990067,#990061,#99005c,#990058,#990054,#990050,#99004d,#990049,#990046,#990044,#990041,#99003e,#99003c,#99003a)"></div><div style="position:absolute;left:0;top:384px;width:906px;height:4px;background:linear-gradient(90deg,#003499,#003199,#002f99,#002c99,#002a99,#002899,#002599,#002399,#002099,#001e99,#001b99,#001899,#001699,#061399,#101099,#1a0e99,#240b99,#2e0899,#380599,#420299,#4d0099,#570099,#620099,#6d0099,#780099,#830099,#8e0099,#990098,#99008e,#990085,#99007c,#990075,#99006e,#990068,#990063,#99005e,#990059,#990055,#990051,#99004e,#99004b,#990047,#990045,#990042,#99003f,#99003d,#99003b)"></div><div style="position:absolute;left:0;top:388px;width:906px;height:4px;background:linear-gradient(90deg,#003399,#003099,#002e99,#002b99,#002999,#002799,#002499,#002299,#001f99,#001d99,#001a99,#001799,#001599,#061299,#101099,#190d99,#230a99,#2d0799,#370599,#410299,#4c0099,#560099,#610099,#6b0099,#760099,#810099,#8c0099,#970099,#990090,#990087,#99007e,#990077,#990070,#99006a,#990064,#99005f,#99005b,#990056,#990053,#99004f,#99004c,#990049,#990046,#990043,#990040,#99003e,#99003c)"></div><div style="position:absolute;left:0;top:392px;width:906px;height:4px;background:linear-gradient(90deg,#003199,#002f99,#002d99,#002a99,#002899,#002699,#002399,#002199,#001e99,#001c99,#001999,#001799,#001499,#051199,#0f0f99,#190c99,#220999,#2c0799,#360499,#400199,#4a0099,#550099,#5f0099,#6a0099,#740099,#7f0099,#8a0099,#950099,#990092,#990089,#990080,#990078,#990072,#99006b,#990066,#990061,#99005c,#990058,#990054,#990050,#99004d,#99004a,#990047,#990044,#990041,#99003f,#99003d)"></div><div style="position:absolute;left:0;top:396px;width:906px;height:4px;background:linear-gradient(90deg,#003099,#002e99,#002c99,#002999,#002799,#002599,#002299,#002099,#001d99,#001b99,#001899,#001699,#001399,#051199,#0f0e99,#180b99,#220999,#2b0699,#350399,#3f0199,#490099,#530099,#5e0099,#680099,#730099,#7d0099,#880099,#930099,#990094,#99008b,#990082,#99007a,#990073,#99006d,#990067,#990062,#99005d,#990059,#990055,#990051,#99004e,#99004b,#990048,#990045,#990042,#990040,#99003e)"></div><div style="position:absolute;left:0;top:400px;width:906px;height:4px;background:linear-gradient(90deg,#002f99,#002d99,#002b99,#002999,#002699,#002499,#002199,#001f99,#001d99,#001a99,#001899,#001599,#001399,#051099,#0e0d99,#170b99,#210899,#2b0599,#340399,#3e0099,#480099,#520099,#5c0099,#660099,#710099,#7b0099,#860099,#910099,#990097,#99008d,#990084,#99007c,#990075,#99006f,#990069,#990064,#99005f,#99005a,#990056,#990053,#99004f,#99004c,#990049,#990046,#990043,#990041,#99003f)"></div><div style="position:absolute;left:0;top:404px;width:906px;height:4px;background:linear-gradient(90deg,#002e99,#002c99,#002a99,#002899,#002599,#002399,#002199,#001e99,#001c99,#001999,#001799,#001499,#001299,#040f99,#0e0d99,#170a99,#200899,#2a0599,#330299,#3d0099,#470099,#510099,#5b0099,#650099,#6f0099,#790099,#840099,#8f0099,#990099,#99008f,#990086,#99007e,#990077,#990070,#99006a,#990065,#990060,#99005c,#990058,#990054,#990050,#99004d,#99004a,#990047,#990044,#990042,#99003f)"></div><div style="position:absolute;left:0;top:408px;width:906px;height:4px;background:linear-gradient(90deg,#002d99,#002b99,#002999,#002799,#002499,#002299,#002099,#001d99,#001b99,#001999,#001699,#001499,#001199,#040f99,#0d0c99,#160a99,#200799,#290499,#320299,#3c0099,#460099,#500099,#590099,#630099,#6e0099,#780099,#820099,#8d0099,#970099,#990091,#990088,#990080,#990078,#990072,#99006c,#990066,#990062,#99005d,#990059,#990055,#990051,#99004e,#99004b,#990048,#990045,#990043,#990040)"></div><div style="position:absolute;left:0;top:412px;width:906px;height:4px;background:linear-gradient(90deg,#002c99,#002a99,#002899,#002699,#002399,#002199,#001f99,#001d99,#001a99,#001899,#001599,#001399,#001099,#040e99,#0d0b99,#160999,#1f0699,#280499,#320199,#3b0099,#450099,#4e0099,#580099,#620099,#6c0099,#760099,#800099,#8b0099,#950099,#990093,#99008a,#990081,#99007a,#990073,#99006d,#990068,#990063,#99005e,#99005a,#990056,#990053,#99004f,#99004c,#990049,#990046,#990044,#990041)"></div><div style="position:absolute;left:0;top:416px;width:906px;height:4px;background:linear-gradient(90deg,#002c99,#002999,#002799,#002599,#002399,#002099,#001e99,#001c99,#001999,#001799,#001599,#001299,#001099,#030d99,#0c0b99,#150899,#1e0699,#270399,#310199,#3a0099,#440099,#4d0099,#570099,#610099,#6a0099,#740099,#7e0099,#890099,#930099,#990095,#99008c,#990083,#99007c,#990075,#99006f,#990069,#990064,#990060,#99005b,#990057,#990054,#990050,#99004d,#99004a,#990047,#990045,#990042)"></div><div style="position:absolute;left:0;top:420px;width:906px;height:4px;background:linear-gradient(90deg,#002b99,#002899,#002699,#002499,#002299,#002099,#001d99,#001b99,#001999,#001699,#001499,#001199,#000f99,#030d99,#0c0a99,#150899,#1e0599,#270399,#300099,#390099,#420099,#4c0099,#550099,#5f0099,#690099,#730099,#7d0099,#870099,#910099,#990097,#99008d,#990085,#99007d,#990077,#990070,#99006b,#990066,#990061,#99005d,#990059,#990055,#990051,#99004e,#99004b,#990048,#990046,#990043)"></div><div style="position:absolute;left:0;top:424px;width:906px;height:4px;background:linear-gradient(90deg,#002a99,#002899,#002599,#002399,#002199,#001f99,#001c99,#001a99,#001899,#001699,#001399,#001199,#000e99,#030c99,#0b0a99,#140799,#1d0599,#260299,#2f0099,#380099,#410099,#4b0099,#540099,#5e0099,#670099,#710099,#7b0099,#850099,#8f0099,#990099,#99008f,#990087,#99007f,#990078,#990072,#99006c,#990067,#990062,#99005e,#99005a,#990056,#990053,#99004f,#99004c,#990049,#990047,#990044)"></div><div style="position:absolute;left:0;top:428px;width:906px;height:4px;background:linear-gradient(90deg,#002999,#002799,#002599,#002299,#002099,#001e99,#001c99,#001999,#001799,#001599,#001399,#001099,#000e99,#020b99,#0b0999,#140799,#1c0499,#250299,#2e0099,#370099,#400099,#4a0099,#530099,#5c0099,#660099,#700099,#790099,#830099,#8d0099,#970099,#990091,#990089,#990081,#99007a,#990074,#99006e,#990068,#990064,#99005f,#99005b,#990057,#990054,#990050,#99004d,#99004a,#990048,#990045)"></div><div style="position:absolute;left:0;top:432px;width:906px;height:4px;background:linear-gradient(90deg,#002899,#002699,#002499,#002299,#001f99,#001d99,#001b99,#001999,#001699,#001499,#001299,#001099,#000d99,#020b99,#0b0899,#130699,#1c0499,#250199,#2e0099,#360099,#3f0099,#490099,#520099,#5b0099,#640099,#6e0099,#780099,#810099,#8b0099,#950099,#990093,#99008b,#990083,#99007c,#990075,#99006f,#99006a,#990065,#990060,#99005c,#990058,#990055,#990051,#99004e,#99004b,#990049,#990046)"></div><div style="position:absolute;left:0;top:436px;width:906px;height:4px;background:linear-gradient(90deg,#002799,#002599,#002399,#002199,#001f99,#001c99,#001a99,#001899,#001699,#001399,#001199,#000f99,#000d99,#020a99,#0a0899,#130599,#1b0399,#240199,#2d0099,#360099,#3e0099,#480099,#510099,#5a0099,#630099,#6c0099,#760099,#800099,#890099,#930099,#990095,#99008c,#990084,#99007d,#990077,#990071,#99006b,#990066,#990062,#99005d,#99005a,#990056,#990052,#99004f,#99004c,#99004a,#990047)"></div><div style="position:absolute;left:0;top:440px;width:906px;height:4px;background:linear-gradient(90deg,#002699,#002499,#002299,#002099,#001e99,#001c99,#001999,#001799,#001599,#001399,#001199,#000e99,#000c99,#020a99,#0a0799,#120599,#1b0299,#230099,#2c0099,#350099,#3e0099,#460099,#4f0099,#590099,#620099,#6b0099,#740099,#7e0099,#870099,#910099,#990097,#99008e,#990086,#99007f,#990078,#990072,#99006d,#990068,#990063,#99005f,#99005b,#990057,#990054,#990050,#99004d,#99004b,#990048)"></div><div style="position:absolute;left:0;top:444px;width:906px;height:4px;background:linear-gradient(90deg,#002699,#002399,#002199,#001f99,#001d99,#001b99,#001999,#001799,#001499,#001299,#001099,#000e99,#000b99,#010999,#090799,#120499,#1a0299,#230099,#2b0099,#340099,#3d0099,#450099,#4e0099,#570099,#600099,#6a0099,#730099,#7c0099,#860099,#8f0099,#990099,#990090,#990088,#990080,#99007a,#990074,#99006e,#990069,#990064,#990060,#99005c,#990058,#990055,#990051,#99004e,#99004c,#990049)"></div><div style="position:absolute;left:0;top:448px;width:906px;height:4px;background:linear-gradient(90deg,#002599,#002399,#002199,#001e99,#001c99,#001a99,#001899,#001699,#001499,#001299,#000f99,#000d99,#000b99,#010899,#090699,#110499,#1a0199,#220099,#2b0099,#330099,#3c0099,#440099,#4d0099,#560099,#5f0099,#680099,#710099,#7b0099,#840099,#8d0099,#970099,#990092,#99008a,#990082,#99007b,#990075,#99006f,#99006a,#990066,#990061,#99005d,#990059,#990056,#990052,#99004f,#99004d,#99004a)"></div><div style="position:absolute;left:0;top:452px;width:906px;height:4px;background:linear-gradient(90deg,#002499,#002299,#002099,#001e99,#001c99,#001a99,#001799,#001599,#001399,#001199,#000f99,#000c99,#000a99,#010899,#090699,#110399,#190199,#210099,#2a0099,#320099,#3b0099,#430099,#4c0099,#550099,#5e0099,#670099,#700099,#790099,#820099,#8b0099,#950099,#990094,#99008b,#990084,#99007d,#990077,#990071,#99006c,#990067,#990062,#99005e,#99005a,#990057,#990054,#990050,#99004d,#99004b)"></div><div style="position:absolute;left:0;top:456px;width:906px;height:4px;background:linear-gradient(90deg,#002399,#002199,#001f99,#001d99,#001b99,#001999,#001799,#001599,#001299,#001099,#000e99,#000c99,#000a99,#000799,#080599,#100399,#190199,#210099,#290099,#320099,#3a0099,#420099,#4b0099,#540099,#5d0099,#650099,#6e0099,#770099,#810099,#8a0099,#930099,#990096,#99008d,#990085,#99007e,#990078,#990072,#99006d,#990068,#990064,#99005f,#99005c,#990058,#990055,#990051,#99004e,#99004c)"></div><div style="position:absolute;left:0;top:460px;width:906px;height:4px;background:linear-gradient(90deg,#002299,#002099,#001e99,#001c99,#001a99,#001899,#001699,#001499,#001299,#001099,#000d99,#000b99,#000999,#000799,#080599,#100299,#180099,#200099,#280099,#310099,#390099,#420099,#4a0099,#530099,#5b0099,#640099,#6d0099,#760099,#7f0099,#880099,#910099,#990098,#99008f,#990087,#990080,#99007a,#990074,#99006e,#990069,#990065,#990061,#99005d,#990059,#990056,#990052,#99004f,#99004d)"></div><div style="position:absolute;left:0;top:464px;width:906px;height:4px;background:linear-gradient(90deg,#002299,#002099,#001e99,#001c99,#001a99,#001899,#001599,#001399,#001199,#000f99,#000d99,#000b99,#000999,#000699,#080499,#100299,#180099,#200099,#280099,#300099,#380099,#410099,#490099,#520099,#5a0099,#630099,#6c0099,#740099,#7d0099,#860099,#8f0099,#990099,#990091,#990089,#990082,#99007b,#990075,#990070,#99006b,#990066,#990062,#99005e,#99005a,#990057,#990053,#990050,#99004e)"></div><div style="position:absolute;left:0;top:468px;width:906px;height:4px;background:linear-gradient(90deg,#002199,#001f99,#001d99,#001b99,#001999,#001799,#001599,#001399,#001199,#000f99,#000c99,#000a99,#000899,#000699,#070499,#0f0199,#170099,#1f0099,#270099,#2f0099,#370099,#400099,#480099,#500099,#590099,#620099,#6a0099,#730099,#7c0099,#850099,#8e0099,#970099,#990092,#99008a,#990083,#99007d,#990077,#990071,#99006c,#990067,#990063,#99005f,#99005b,#990058,#990055,#990051,#99004f)"></div><div style="position:absolute;left:0;top:472px;width:906px;height:4px;background:linear-gradient(90deg,#002099,#001e99,#001c99,#001a99,#001899,#001699,#001499,#001299,#001099,#000e99,#000c99,#000a99,#000899,#000599,#070399,#0f0199,#170099,#1f0099,#270099,#2f0099,#370099,#3f0099,#470099,#4f0099,#580099,#600099,#690099,#710099,#7a0099,#830099,#8c0099,#950099,#990094,#99008c,#990085,#99007e,#990078,#990072,#99006d,#990069,#990064,#990060,#99005c,#990059,#990056,#990052,#990050)"></div><div style="position:absolute;left:0;top:476px;width:906px;height:4px;background:linear-gradient(90deg,#002099,#001e99,#001c99,#001a99,#001899,#001699,#001499,#001299,#000f99,#000d99,#000b99,#000999,#000799,#000599,#070399,#0e0099,#160099,#1e0099,#260099,#2e0099,#360099,#3e0099,#460099,#4e0099,#570099,#5f0099,#680099,#700099,#790099,#810099,#8a0099,#930099,#990096,#99008e,#990086,#990080,#990079,#990074,#99006f,#99006a,#990065,#990061,#99005d,#99005a,#990057,#990053,#990050)"></div><div style="position:absolute;left:0;top:480px;width:906px;height:4px;background:linear-gradient(90deg,#001f99,#001d99,#001b99,#001999,#001799,#001599,#001399,#001199,#000f99,#000d99,#000b99,#000999,#000799,#000499,#060299,#0e0099,#160099,#1d0099,#250099,#2d0099,#350099,#3d0099,#450099,#4d0099,#560099,#5e0099,#660099,#6f0099,#770099,#800099,#890099,#910099,#990098,#990090,#990088,#990081,#99007b,#990075,#990070,#99006b,#990067,#990062,#99005f,#99005b,#990058,#990054,#990051)"></div><div style="position:absolute;left:0;top:484px;width:906px;height:4px;background:linear-gradient(90deg,#001e99,#001c99,#001a99,#001899,#001699,#001499,#001299,#001099,#000e99,#000c99,#000a99,#000899,#000699,#000499,#060299,#0e0099,#150099,#1d0099,#250099,#2c0099,#340099,#3c0099,#440099,#4c0099,#540099,#5d0099,#650099,#6d0099,#760099,#7e0099,#870099,#900099,#980099,#990091,#99008a,#990083,#99007c,#990077,#990071,#99006c,#990068,#990064,#990060,#99005c,#990059,#990055,#990052)"></div><div style="position:absolute;left:0;top:488px;width:906px;height:4px;background:linear-gradient(90deg,#001d99,#001c99,#001a99,#001899,#001699,#001499,#001299,#001099,#000e99,#000c99,#000a99,#000899,#000699,#000399,#060199,#0d0099,#150099,#1c0099,#240099,#2c0099,#340099,#3b0099,#430099,#4b0099,#530099,#5c0099,#640099,#6c0099,#740099,#7d0099,#850099,#8e0099,#970099,#990093,#99008b,#990084,#99007e,#990078,#990073,#99006e,#990069,#990065,#990061,#99005d,#99005a,#990056,#990053)"></div><div style="position:absolute;left:0;top:492px;width:906px;height:4px;background:linear-gradient(90deg,#001d99,#001b99,#001999,#001799,#001599,#001399,#001199,#000f99,#000d99,#000b99,#000999,#000799,#000599,#000399,#060199,#0d0099,#140099,#1c0099,#230099,#2b0099,#330099,#3b0099,#420099,#4a0099,#520099,#5a0099,#630099,#6b0099,#730099,#7b0099,#840099,#8c0099,#950099,#990095,#99008d,#990086,#99007f,#990079,#990074,#99006f,#99006a,#990066,#990062,#99005e,#99005b,#990057,#990054)"></div><div style="position:absolute;left:0;top:496px;width:906px;height:4px;background:linear-gradient(90deg,#001c99,#001a99,#001899,#001799,#001599,#001399,#001199,#000f99,#000d99,#000b99,#000999,#000799,#000599,#000399,#050099,#0d0099,#140099,#1b0099,#230099,#2b0099,#320099,#3a0099,#420099,#490099,#510099,#590099,#610099,#690099,#720099,#7a0099,#820099,#8b0099,#930099,#990096,#99008e,#990087,#990081,#99007b,#990075,#990070,#99006b,#990067,#990063,#99005f,#99005c,#990058,#990055)"></div><div style="position:absolute;left:0;top:500px;width:906px;height:4px;background:linear-gradient(90deg,#001c99,#001a99,#001899,#001699,#001499,#001299,#001099,#000e99,#000c99,#000a99,#000899,#000699,#000499,#000299,#050099,#0c0099,#140099,#1b0099,#220099,#2a0099,#310099,#390099,#410099,#490099,#500099,#580099,#600099,#680099,#700099,#790099,#810099,#890099,#910099,#990098,#990090,#990089,#990082,#99007c,#990077,#990071,#99006d,#990068,#990064,#990060,#99005d,#990059,#990056)"></div><div style="position:absolute;left:0;top:504px;width:906px;height:4px;background:linear-gradient(90deg,#001b99,#001999,#001799,#001599,#001399,#001299,#001099,#000e99,#000c99,#000a99,#000899,#000699,#000499,#000299,#050099,#0c0099,#130099,#1a0099,#220099,#290099,#310099,#380099,#400099,#480099,#4f0099,#570099,#5f0099,#670099,#6f0099,#770099,#7f0099,#880099,#900099,#980099,#990092,#99008a,#990084,#99007e,#990078,#990073,#99006e,#990069,#990065,#990061,#99005e,#99005a,#990057)"></div><div style="position:absolute;left:0;top:508px;width:906px;height:4px;background:linear-gradient(90deg,#001a99,#001999,#001799,#001599,#001399,#001199,#000f99,#000d99,#000b99,#000999,#000799,#000599,#000399,#000199,#040099,#0c0099,#130099,#1a0099,#210099,#290099,#300099,#380099,#3f0099,#470099,#4e0099,#560099,#5e0099,#660099,#6e0099,#760099,#7e0099,#860099,#8e0099,#970099,#990093,#99008c,#990085,#99007f,#990079,#990074,#99006f,#99006b,#990066,#990063,#99005f,#99005b,#990058)"></div><div style="position:absolute;left:0;top:512px;width:906px;height:4px;background:linear-gradient(90deg,#001a99,#001899,#001699,#001499,#001299,#001099,#000f99,#000d99,#000b99,#000999,#000799,#000599,#000399,#000199,#040099,#0b0099,#120099,#1a0099,#210099,#280099,#2f0099,#370099,#3e0099,#460099,#4d0099,#550099,#5d0099,#650099,#6d0099,#740099,#7c0099,#840099,#8d0099,#950099,#990095,#99008d,#990087,#990080,#99007b,#990075,#990070,#99006c,#990068,#990064,#990060,#99005c,#990059)"></div><div style="position:absolute;left:0;top:516px;width:906px;height:4px;background:linear-gradient(90deg,#001999,#001799,#001699,#001499,#001299,#001099,#000e99,#000c99,#000a99,#000899,#000699,#000499,#000299,#000099,#040099,#0b0099,#120099,#190099,#200099,#270099,#2f0099,#360099,#3e0099,#450099,#4d0099,#540099,#5c0099,#630099,#6b0099,#730099,#7b0099,#830099,#8b0099,#930099,#990097,#99008f,#990088,#990082,#99007c,#990077,#990072,#99006d,#990069,#990065,#990061,#99005d,#99005a)"></div><div style="position:absolute;left:0;top:520px;width:906px;height:4px;background:linear-gradient(90deg,#001999,#001799,#001599,#001399,#001199,#000f99,#000e99,#000c99,#000a99,#000899,#000699,#000499,#000299,#000099,#040099,#0b0099,#120099,#190099,#200099,#270099,#2e0099,#350099,#3d0099,#440099,#4c0099,#530099,#5b0099,#620099,#6a0099,#720099,#7a0099,#820099,#8a0099,#920099,#990098,#990091,#99008a,#990083,#99007d,#990078,#990073,#99006e,#99006a,#990066,#990062,#99005f,#99005b)"></div><div style="position:absolute;left:0;top:524px;width:906px;height:4px;background:linear-gradient(90deg,#001899,#001699,#001499,#001399,#001199,#000f99,#000d99,#000b99,#000999,#000799,#000599,#000499,#000299,#000099,#030099,#0a0099,#110099,#180099,#1f0099,#260099,#2d0099,#350099,#3c0099,#430099,#4b0099,#520099,#5a0099,#610099,#690099,#710099,#780099,#800099,#880099,#900099,#980099,#990092,#99008b,#990085,#99007f,#990079,#990074,#99006f,#99006b,#990067,#990063,#990060,#99005c)"></div><div style="position:absolute;left:0;top:528px;width:906px;height:4px;background:linear-gradient(90deg,#001799,#001699,#001499,#001299,#001099,#000e99,#000d99,#000b99,#000999,#000799,#000599,#000399,#000199,#000099,#030099,#0a0099,#110099,#180099,#1f0099,#260099,#2d0099,#340099,#3b0099,#420099,#4a0099,#510099,#590099,#600099,#680099,#6f0099,#770099,#7f0099,#870099,#8e0099,#960099,#990094,#99008d,#990086,#990080,#99007a,#990075,#990071,#99006c,#990068,#990064,#990061,#99005d)"></div><div style="position:absolute;left:0;top:532px;width:906px;height:4px;background:linear-gradient(90deg,#001799,#001599,#001399,#001299,#001099,#000e99,#000c99,#000a99,#000899,#000799,#000599,#000399,#000199,#000099,#030099,#0a0099,#100099,#170099,#1e0099,#250099,#2c0099,#330099,#3a0099,#420099,#490099,#500099,#580099,#5f0099,#670099,#6e0099,#760099,#7d0099,#850099,#8d0099,#950099,#990095,#99008e,#990087,#990081,#99007c,#990077,#990072,#99006d,#990069,#990065,#990062,#99005e)"></div><div style="position:absolute;left:0;top:536px;width:906px;height:4px;background:linear-gradient(90deg,#001699,#001599,#001399,#001199,#000f99,#000d99,#000c99,#000a99,#000899,#000699,#000499,#000299,#000099,#000099,#030099,#090099,#100099,#170099,#1e0099,#250099,#2c0099,#330099,#3a0099,#410099,#480099,#4f0099,#570099,#5e0099,#650099,#6d0099,#740099,#7c0099,#840099,#8b0099,#930099,#990097,#990090,#990089,#990083,#99007d,#990078,#990073,#99006e,#99006a,#990066,#990063,#99005f)"></div><div style="position:absolute;left:0;top:540px;width:906px;height:4px;background:linear-gradient(90deg,#001699,#001499,#001299,#001199,#000f99,#000d99,#000b99,#000999,#000899,#000699,#000499,#000299,#000099,#000099,#020099,#090099,#100099,#160099,#1d0099,#240099,#2b0099,#320099,#390099,#400099,#470099,#4e0099,#560099,#5d0099,#640099,#6c0099,#730099,#7b0099,#820099,#8a0099,#920099,#990099,#990091,#99008a,#990084,#99007e,#990079,#990074,#990070,#99006b,#990067,#990064,#990060)"></div><div style="position:absolute;left:0;top:544px;width:906px;height:4px;background:linear-gradient(90deg,#001599,#001499,#001299,#001099,#000e99,#000d99,#000b99,#000999,#000799,#000599,#000399,#000299,#000099,#000099,#020099,#090099,#0f0099,#160099,#1d0099,#240099,#2a0099,#310099,#380099,#3f0099,#460099,#4e0099,#550099,#5c0099,#630099,#6b0099,#720099,#790099,#810099,#890099,#900099,#980099,#990093,#99008c,#990085,#990080,#99007a,#990075,#990071,#99006c,#990068,#990065,#990061)"></div><div style="position:absolute;left:0;top:548px;width:906px;height:4px;background:linear-gradient(90deg,#001599,#001399,#001199,#001099,#000e99,#000c99,#000a99,#000899,#000799,#000599,#000399,#000199,#000099,#000099,#020099,#080099,#0f0099,#160099,#1c0099,#230099,#2a0099,#310099,#380099,#3f0099,#460099,#4d0099,#540099,#5b0099,#620099,#690099,#710099,#780099,#800099,#870099,#8f0099,#960099,#990094,#99008d,#990087,#990081,#99007c,#990077,#990072,#99006e,#990069,#990066,#990062)"></div><div style="position:absolute;left:0;top:552px;width:906px;height:4px;background:linear-gradient(90deg,#001499,#001399,#001199,#000f99,#000d99,#000c99,#000a99,#000899,#000699,#000499,#000399,#000199,#000099,#000099,#020099,#080099,#0f0099,#150099,#1c0099,#230099,#290099,#300099,#370099,#3e0099,#450099,#4c0099,#530099,#5a0099,#610099,#680099,#700099,#770099,#7e0099,#860099,#8d0099,#950099,#990096,#99008f,#990088,#990082,#99007d,#990078,#990073,#99006f,#99006b,#990067,#990063)"></div><div style="position:absolute;left:0;top:556px;width:906px;height:4px;background:linear-gradient(90deg,#001499,#001299,#001099,#000f99,#000d99,#000b99,#000999,#000899,#000699,#000499,#000299,#000099,#000099,#000099,#010099,#080099,#0e0099,#150099,#1b0099,#220099,#290099,#300099,#360099,#3d0099,#440099,#4b0099,#520099,#590099,#600099,#670099,#6e0099,#760099,#7d0099,#840099,#8c0099,#930099,#990097,#990090,#99008a,#990084,#99007e,#990079,#990074,#990070,#99006c,#990068,#990064)"></div><div style="position:absolute;left:0;top:560px;width:906px;height:4px;background:linear-gradient(90deg,#001399,#001299,#001099,#000e99,#000c99,#000b99,#000999,#000799,#000599,#000499,#000299,#000099,#000099,#000099,#010099,#080099,#0e0099,#150099,#1b0099,#220099,#280099,#2f0099,#360099,#3c0099,#430099,#4a0099,#510099,#580099,#5f0099,#660099,#6d0099,#740099,#7c0099,#830099,#8a0099,#920099,#990099,#990092,#99008b,#990085,#99007f,#99007a,#990075,#990071,#99006d,#990069,#990065)"></div><div style="position:absolute;left:0;top:564px;width:906px;height:4px;background:linear-gradient(90deg,#001399,#001199,#000f99,#000e99,#000c99,#000a99,#000999,#000799,#000599,#000399,#000199,#000099,#000099,#000099,#010099,#070099,#0e0099,#140099,#1b0099,#210099,#280099,#2e0099,#350099,#3c0099,#420099,#490099,#500099,#570099,#5e0099,#650099,#6c0099,#730099,#7a0099,#820099,#890099,#900099,#980099,#990093,#99008c,#990086,#990081,#99007b,#990077,#990072,#99006e,#99006a,#990066)"></div><div style="position:absolute;left:0;top:568px;width:906px;height:4px;background:linear-gradient(90deg,#001299,#001199,#000f99,#000d99,#000c99,#000a99,#000899,#000699,#000599,#000399,#000199,#000099,#000099,#000099,#010099,#070099,#0d0099,#140099,#1a0099,#210099,#270099,#2e0099,#340099,#3b0099,#420099,#480099,#4f0099,#560099,#5d0099,#640099,#6b0099,#720099,#790099,#800099,#880099,#8f0099,#960099,#990094,#99008e,#990088,#990082,#99007d,#990078,#990073,#99006f,#99006b,#990067)"></div><div style="position:absolute;left:0;top:572px;width:906px;height:4px;background:linear-gradient(90deg,#001299,#001099,#000e99,#000d99,#000b99,#000999,#000899,#000699,#000499,#000399,#000199,#000099,#000099,#000099,#010099,#070099,#0d0099,#130099,#1a0099,#200099,#270099,#2d0099,#340099,#3a0099,#410099,#480099,#4e0099,#550099,#5c0099,#630099,#6a0099,#710099,#780099,#7f0099,#860099,#8e0099,#950099,#990096,#99008f,#990089,#990083,#99007e,#990079,#990074,#990070,#99006c,#990068)"></div><div style="position:absolute;left:0;top:576px;width:906px;height:4px;background:linear-gradient(90deg,#001199,#001099,#000e99,#000c99,#000b99,#000999,#000799,#000699,#000499,#000299,#000099,#000099,#000099,#000099,#000099,#070099,#0d0099,#130099,#190099,#200099,#260099,#2d0099,#330099,#3a0099,#400099,#470099,#4e0099,#540099,#5b0099,#620099,#690099,#700099,#770099,#7e0099,#850099,#8c0099,#930099,#990097,#990091,#99008a,#990084,#99007f,#99007a,#990075,#990071,#99006d,#990069)"></div><div style="position:absolute;left:0;top:580px;width:906px;height:4px;background:linear-gradient(90deg,#001199,#000f99,#000e99,#000c99,#000a99,#000999,#000799,#000599,#000499,#000299,#000099,#000099,#000099,#000099,#000099,#060099,#0c0099,#130099,#190099,#1f0099,#260099,#2c0099,#330099,#390099,#400099,#460099,#4d0099,#530099,#5a0099,#610099,#680099,#6f0099,#760099,#7d0099,#840099,#8b0099,#920099,#990099,#990092,#99008c,#990086,#990080,#99007b,#990077,#990072,#99006e,#99006a)"></div><div style="position:absolute;left:0;top:584px;width:906px;height:4px;background:linear-gradient(90deg,#001099,#000f99,#000d99,#000c99,#000a99,#000899,#000799,#000599,#000399,#000199,#000099,#000099,#000099,#000099,#000099,#060099,#0c0099,#120099,#190099,#1f0099,#250099,#2c0099,#320099,#380099,#3f0099,#450099,#4c0099,#530099,#590099,#600099,#670099,#6e0099,#740099,#7b0099,#820099,#890099,#910099,#980099,#990093,#99008d,#990087,#990082,#99007c,#990078,#990073,#99006f,#99006b)"></div><div style="position:absolute;left:0;top:588px;width:906px;height:4px;background:linear-gradient(90deg,#001099,#000e99,#000d99,#000b99,#000999,#000899,#000699,#000499,#000399,#000199,#000099,#000099,#000099,#000099,#000099,#060099,#0c0099,#120099,#180099,#1e0099,#250099,#2b0099,#310099,#380099,#3e0099,#450099,#4b0099,#520099,#580099,#5f0099,#660099,#6d0099,#730099,#7a0099,#810099,#880099,#8f0099,#960099,#990095,#99008e,#990088,#990083,#99007e,#990079,#990074,#990070,#99006c)"></div><div style="position:absolute;left:0;top:592px;width:906px;height:4px;background:linear-gradient(90deg,#001099,#000e99,#000c99,#000b99,#000999,#000799,#000699,#000499,#000299,#000199,#000099,#000099,#000099,#000099,#000099,#060099,#0c0099,#120099,#180099,#1e0099,#240099,#2a0099,#310099,#370099,#3d0099,#440099,#4a0099,#510099,#570099,#5e0099,#650099,#6b0099,#720099,#790099,#800099,#870099,#8e0099,#950099,#990096,#990090,#99008a,#990084,#99007f,#99007a,#990075,#990071,#99006d)"></div><div style="position:absolute;left:0;top:596px;width:906px;height:4px;background:linear-gradient(90deg,#000f99,#000d99,#000c99,#000a99,#000999,#000799,#000599,#000499,#000299,#000099,#000099,#000099,#000099,#000099,#000099,#050099,#0b0099,#110099,#170099,#1e0099,#240099,#2a0099,#300099,#360099,#3d0099,#430099,#4a0099,#500099,#570099,#5d0099,#640099,#6a0099,#710099,#780099,#7f0099,#860099,#8c0099,#930099,#990098,#990091,#99008b,#990085,#990080,#99007b,#990077,#990072,#99006e)"></div><div style="position:absolute;left:0;top:600px;width:906px;height:4px;background:linear-gradient(90deg,#000f99,#000d99,#000b99,#000a99,#000899,#000799,#000599,#000399,#000299,#000099,#000099,#000099,#000099,#000099,#000099,#050099,#0b0099,#110099,#170099,#1d0099,#230099,#290099,#300099,#360099,#3c0099,#420099,#490099,#4f0099,#560099,#5c0099,#630099,#690099,#700099,#770099,#7d0099,#840099,#8b0099,#920099,#990099,#990092,#99008c,#990086,#990081,#99007c,#990078,#990073,#99006f)"></div><div style="position:absolute;left:0;top:604px;width:906px;height:4px;background:linear-gradient(90deg,#000e99,#000d99,#000b99,#000999,#000899,#000699,#000599,#000399,#000199,#000099,#000099,#000099,#000099,#000099,#000099,#050099,#0b0099,#110099,#170099,#1d0099,#230099,#290099,#2f0099,#350099,#3c0099,#420099,#480099,#4e0099,#550099,#5b0099,#620099,#680099,#6f0099,#760099,#7c0099,#830099,#8a0099,#910099,#980099,#990094,#99008d,#990088,#990082,#99007d,#990079,#990074,#990070)"></div><div style="position:absolute;left:0;top:608px;width:906px;height:4px;background:linear-gradient(90deg,#000e99,#000c99,#000b99,#000999,#000899,#000699,#000499,#000399,#000199,#000099,#000099,#000099,#000099,#000099,#000099,#050099,#0b0099,#100099,#160099,#1c0099,#220099,#280099,#2f0099,#350099,#3b0099,#410099,#470099,#4e0099,#540099,#5a0099,#610099,#670099,#6e0099,#750099,#7b0099,#820099,#890099,#8f0099,#960099,#990095,#99008f,#990089,#990084,#99007f,#99007a,#990075,#990071)"></div><div style="position:absolute;left:0;top:612px;width:906px;height:4px;background:linear-gradient(90deg,#000d99,#000c99,#000a99,#000999,#000799,#000699,#000499,#000299,#000199,#000099,#000099,#000099,#000099,#000099,#000099,#040099,#0a0099,#100099,#160099,#1c0099,#220099,#280099,#2e0099,#340099,#3a0099,#400099,#470099,#4d0099,#530099,#5a0099,#600099,#660099,#6d0099,#730099,#7a0099,#810099,#870099,#8e0099,#950099,#990096,#990090,#99008a,#990085,#990080,#99007b,#990077,#990072)"></div><div style="position:absolute;left:0;top:616px;width:906px;height:4px;background:linear-gradient(90deg,#000d99,#000b99,#000a99,#000899,#000799,#000599,#000499,#000299,#000099,#000099,#000099,#000099,#000099,#000099,#000099,#040099,#0a0099,#100099,#160099,#1c0099,#210099,#270099,#2d0099,#340099,#3a0099,#400099,#460099,#4c0099,#520099,#590099,#5f0099,#650099,#6c0099,#720099,#790099,#7f0099,#860099,#8d0099,#930099,#990098,#990091,#99008b,#990086,#990081,#99007c,#990078,#990073)"></div><div style="position:absolute;left:0;top:620px;width:906px;height:4px;background:linear-gradient(90deg,#000d99,#000b99,#000a99,#000899,#000699,#000599,#000399,#000299,#000099,#000099,#000099,#000099,#000099,#000099,#000099,#040099,#0a0099,#0f0099,#150099,#1b0099,#210099,#270099,#2d0099,#330099,#390099,#3f0099,#450099,#4b0099,#520099,#580099,#5e0099,#640099,#6b0099,#710099,#780099,#7e0099,#850099,#8b0099,#920099,#990099,#990093,#99008d,#990087,#990082,#99007d,#990079,#990074)"></div><div style="position:absolute;left:0;top:624px;width:906px;height:4px;background:linear-gradient(90deg,#000c99,#000b99,#000999,#000899,#000699,#000499,#000399,#000199,#000099,#000099,#000099,#000099,#000099,#000099,#000099,#040099,#090099,#0f0099,#150099,#1b0099,#210099,#270099,#2c0099,#320099,#380099,#3e0099,#450099,#4b0099,#510099,#570099,#5d0099,#640099,#6a0099,#700099,#770099,#7d0099,#840099,#8a0099,#910099,#970099,#990094,#99008e,#990088,#990083,#99007e,#99007a,#990075)"></div><div style="position:absolute;left:0;top:628px;width:906px;height:4px;background:linear-gradient(90deg,#000c99,#000a99,#000999,#000799,#000699,#000499,#000399,#000199,#000099,#000099,#000099,#000099,#000099,#000099,#000099,#040099,#090099,#0f0099,#150099,#1a0099,#200099,#260099,#2c0099,#320099,#380099,#3e0099,#440099,#4a0099,#500099,#560099,#5c0099,#630099,#690099,#6f0099,#760099,#7c0099,#820099,#890099,#8f0099,#960099,#990095,#99008f,#99008a,#990084,#99007f,#99007b,#990077)"></div><div style="position:absolute;left:0;top:632px;width:906px;height:4px;background:linear-gradient(90deg,#000b99,#000a99,#000899,#000799,#000599,#000499,#000299,#000199,#000099,#000099,#000099,#000099,#000099,#000099,#000099,#030099,#090099,#0f0099,#140099,#1a0099,#200099,#260099,#2b0099,#310099,#370099,#3d0099,#430099,#490099,#4f0099,#550099,#5c0099,#620099,#680099,#6e0099,#750099,#7b0099,#810099,#880099,#8e0099,#950099,#990097,#990091,#99008b,#990085,#990081,#99007c,#990078)"></div><div style="position:absolute;left:0;top:636px;width:906px;height:4px;background:linear-gradient(90deg,#000b99,#000a99,#000899,#000799,#000599,#000399,#000299,#000099,#000099,#000099,#000099,#000099,#000099,#000099,#000099,#030099,#090099,#0e0099,#140099,#1a0099,#1f0099,#250099,#2b0099,#310099,#370099,#3d0099,#420099,#480099,#4e0099,#550099,#5b0099,#610099,#670099,#6d0099,#730099,#7a0099,#800099,#870099,#8d0099,#930099,#990098,#990092,#99008c,#990087,#990082,#99007d,#990079)"></div><div style="position:absolute;left:0;top:640px;width:906px;height:4px;background:linear-gradient(90deg,#000b99,#000999,#000899,#000699,#000599,#000399,#000299,#000099,#000099,#000099,#000099,#000099,#000099,#000099,#000099,#030099,#080099,#0e0099,#140099,#190099,#1f0099,#250099,#2a0099,#300099,#360099,#3c0099,#420099,#480099,#4e0099,#540099,#5a0099,#600099,#660099,#6c0099,#720099,#790099,#7f0099,#850099,#8c0099,#920099,#990099,#990093,#99008d,#990088,#990083,#99007e,#99007a)"></div><div style="position:absolute;left:0;top:644px;width:906px;height:4px;background:linear-gradient(90deg,#000a99,#000999,#000799,#000699,#000499,#000399,#000199,#000099,#000099,#000099,#000099,#000099,#000099,#000099,#000099,#030099,#080099,#0e0099,#130099,#190099,#1f0099,#240099,#2a0099,#300099,#350099,#3b0099,#410099,#470099,#4d0099,#530099,#590099,#5f0099,#650099,#6b0099,#710099,#780099,#7e0099,#840099,#8b0099,#910099,#970099,#990094,#99008e,#990089,#990084,#99007f,#99007b)"></div><div style="position:absolute;left:0;top:648px;width:906px;height:4px;background:linear-gradient(90deg,#000a99,#000899,#000799,#000599,#000499,#000299,#000199,#000099,#000099,#000099,#000099,#000099,#000099,#000099,#000099,#030099,#080099,#0d0099,#130099,#190099,#1e0099,#240099,#290099,#2f0099,#350099,#3b0099,#410099,#460099,#4c0099,#520099,#580099,#5e0099,#640099,#6a0099,#700099,#770099,#7d0099,#830099,#890099,#900099,#960099,#990096,#990090,#99008a,#990085,#990080,#99007c)"></div><div style="position:absolute;left:0;top:652px;width:906px;height:4px;background:linear-gradient(90deg,#000a99,#000899,#000799,#000599,#000499,#000299,#000199,#000099,#000099,#000099,#000099,#000099,#000099,#000099,#000099,#020099,#080099,#0d0099,#130099,#180099,#1e0099,#230099,#290099,#2f0099,#340099,#3a0099,#400099,#460099,#4c0099,#510099,#570099,#5d0099,#630099,#690099,#6f0099,#760099,#7c0099,#820099,#880099,#8e0099,#950099,#990097,#990091,#99008b,#990086,#990081,#99007d)"></div><div style="position:absolute;left:0;top:656px;width:906px;height:4px;background:linear-gradient(90deg,#000999,#000899,#000699,#000599,#000399,#000299,#000099,#000099,#000099,#000099,#000099,#000099,#000099,#000099,#000099,#020099,#080099,#0d0099,#120099,#180099,#1d0099,#230099,#290099,#2e0099,#340099,#3a0099,#3f0099,#450099,#4b0099,#510099,#570099,#5c0099,#620099,#680099,#6e0099,#750099,#7b0099,#810099,#870099,#8d0099,#930099,#990098,#990092,#99008d,#990087,#990082,#99007e)"></div><div style="position:absolute;left:0;top:660px;width:906px;height:4px;background:linear-gradient(90deg,#000999,#000799,#000699,#000499,#000399,#000299,#000099,#000099,#000099,#000099,#000099,#000099,#000099,#000099,#000099,#020099,#070099,#0d0099,#120099,#180099,#1d0099,#230099,#280099,#2e0099,#330099,#390099,#3f0099,#440099,#4a0099,#500099,#560099,#5c0099,#620099,#680099,#6e0099,#740099,#7a0099,#800099,#860099,#8c0099,#920099,#990099,#990093,#99008e,#990088,#990084,#99007f)"></div><div style="position:absolute;left:0;top:664px;width:906px;height:4px;background:linear-gradient(90deg,#000999,#000799,#000699,#000499,#000399,#000199,#000099,#000099,#000099,#000099,#000099,#000099,#000099,#000099,#000099,#020099,#070099,#0c0099,#120099,#170099,#1d0099,#220099,#280099,#2d0099,#330099,#380099,#3e0099,#440099,#490099,#4f0099,#550099,#5b0099,#610099,#670099,#6d0099,#730099,#790099,#7f0099,#850099,#8b0099,#910099,#970099,#990095,#99008f,#99008a,#990085,#990080)"></div><div style="position:absolute;left:0;top:668px;width:906px;height:4px;background:linear-gradient(90deg,#000899,#000799,#000599,#000499,#000299,#000199,#000099,#000099,#000099,#000099,#000099,#000099,#000099,#000099,#000099,#020099,#070099,#0c0099,#120099,#170099,#1c0099,#220099,#270099,#2d0099,#320099,#380099,#3d0099,#430099,#490099,#4f0099,#540099,#5a0099,#600099,#660099,#6c0099,#720099,#780099,#7e0099,#840099,#8a0099,#900099,#960099,#990096,#990090,#99008b,#990086,#990081)"></div><div style="position:absolute;left:0;top:672px;width:906px;height:4px;background:linear-gradient(90deg,#000899,#000699,#000599,#000499,#000299,#000199,#000099,#000099,#000099,#000099,#000099,#000099,#000099,#000099,#000099,#010099,#070099,#0c0099,#110099,#170099,#1c0099,#210099,#270099,#2c0099,#320099,#370099,#3d0099,#420099,#480099,#4e0099,#540099,#590099,#5f0099,#650099,#6b0099,#710099,#770099,#7c0099,#820099,#890099,#8f0099,#950099,#990097,#990091,#99008c,#990087,#990082)"></div><div style="position:absolute;left:0;top:676px;width:906px;height:4px;background:linear-gradient(90deg,#000899,#000699,#000599,#000399,#000299,#000099,#000099,#000099,#000099,#000099,#000099,#000099,#000099,#000099,#000099,#010099,#060099,#0c0099,#110099,#160099,#1c0099,#210099,#260099,#2c0099,#310099,#370099,#3c0099,#420099,#470099,#4d0099,#530099,#580099,#5e0099,#640099,#6a0099,#700099,#760099,#7b0099,#810099,#870099,#8d0099,#940099,#990098,#990092,#99008d,#990088,#990083)"></div><div style="position:absolute;left:0;top:680px;width:906px;height:4px;background:linear-gradient(90deg,#000799,#000699,#000499,#000399,#000199,#000099,#000099,#000099,#000099,#000099,#000099,#000099,#000099,#000099,#000099,#010099,#060099,#0b0099,#110099,#160099,#1b0099,#210099,#260099,#2b0099,#310099,#360099,#3c0099,#410099,#470099,#4c0099,#520099,#580099,#5d0099,#630099,#690099,#6f0099,#750099,#7a0099,#800099,#860099,#8c0099,#920099,#980099,#990094,#99008e,#990089,#990084)"></div><div style="position:absolute;left:0;top:684px;width:906px;height:4px;background:linear-gradient(90deg,#000799,#000599,#000499,#000399,#000199,#000099,#000099,#000099,#000099,#000099,#000099,#000099,#000099,#000099,#000099,#010099,#060099,#0b0099,#100099,#160099,#1b0099,#200099,#260099,#2b0099,#300099,#360099,#3b0099,#410099,#460099,#4c0099,#510099,#570099,#5d0099,#620099,#680099,#6e0099,#740099,#790099,#7f0099,#850099,#8b0099,#910099,#970099,#990095,#99008f,#99008a,#990085)"></div><div style="position:absolute;left:0;top:688px;width:906px;height:4px;background:linear-gradient(90deg,#000799,#000599,#000499,#000299,#000199,#000099,#000099,#000099,#000099,#000099,#000099,#000099,#000099,#000099,#000099,#010099,#060099,#0b0099,#100099,#150099,#1b0099,#200099,#250099,#2a0099,#300099,#350099,#3b0099,#400099,#460099,#4b0099,#510099,#560099,#5c0099,#610099,#670099,#6d0099,#730099,#780099,#7e0099,#840099,#8a0099,#900099,#960099,#990096,#990090,#99008b,#990086)"></div><div style="position:absolute;left:0;top:692px;width:906px;height:4px;background:linear-gradient(90deg,#000699,#000599,#000399,#000299,#000199,#000099,#000099,#000099,#000099,#000099,#000099,#000099,#000099,#000099,#000099,#010099,#060099,#0b0099,#100099,#150099,#1a0099,#1f0099,#250099,#2a0099,#2f0099,#350099,#3a0099,#3f0099,#450099,#4a0099,#500099,#550099,#5b0099,#610099,#660099,#6c0099,#720099,#770099,#7d0099,#830099,#890099,#8f0099,#950099,#990097,#990092,#99008c,#990087)"></div><div style="position:absolute;left:0;top:696px;width:906px;height:4px;background:linear-gradient(90deg,#000699,#000599,#000399,#000299,#000099,#000099,#000099,#000099,#000099,#000099,#000099,#000099,#000099,#000099,#000099,#000099,#050099,#0a0099,#100099,#150099,#1a0099,#1f0099,#240099,#2a0099,#2f0099,#340099,#390099,#3f0099,#440099,#4a0099,#4f0099,#550099,#5a0099,#600099,#650099,#6b0099,#710099,#760099,#7c0099,#820099,#880099,#8e0099,#940099,#990099,#990093,#99008d,#990088)"></div>
</div>
<div style="position:absolute;left:1825px;top:316.5px;width:496px;height:474px;overflow:hidden;clip-path:path('M494.0 48.7 L3.0 2.9 L79.0 471.2 Z')">
<div style="position:absolute;left:0;top:0px;width:496px;height:3px;background:linear-gradient(90deg,#00ff00,#14ff00,#2aff00,#3eff00,#52ff00,#65ff00,#79ff00,#8dff00,#a1ff00,#b5ff00,#caff00,#e0ff00,#f6ff00,#fff200,#ffdf00,#ffce00,#ffbf00,#ffb100,#ffa500,#ff9a00,#ff9000,#ff8700,#ff7f00,#ff7700,#ff7000,#ff6900,#ff6300,#ff5d00,#ff5700,#ff5200,#ff4d00,#ff4800,#ff4400,#ff4000,#ff3c00,#ff3800,#ff3400,#ff3100,#ff2d00,#ff2a00,#ff2700,#ff2400,#ff2100,#ff1e00,#ff1c00,#ff1900,#ff1600,#ff1400,#ff1100,#ff0f00,#ff0c00)"></div><div style="position:absolute;left:0;top:3px;width:496px;height:3px;background:linear-gradient(90deg,#00ff06,#13ff04,#29ff00,#3dff00,#51ff00,#65ff00,#79ff00,#8dff00,#a1ff00,#b6ff00,#cbff00,#e0ff00,#f6ff00,#fff200,#ffde00,#ffcd00,#ffbe00,#ffb100,#ffa400,#ff9900,#ff8f00,#ff8600,#ff7e00,#ff7600,#ff6f00,#ff6800,#ff6200,#ff5c00,#ff5600,#ff5100,#ff4c00,#ff4800,#ff4300,#ff3f00,#ff3b00,#ff3700,#ff3400,#ff3000,#ff2d00,#ff2a00,#ff2600,#ff2300,#ff2000,#ff1e00,#ff1b00,#ff1800,#ff1600,#ff1300,#ff1100,#ff0e00,#ff0c00)"></div><div style="position:absolute;left:0;top:6px;width:496px;height:3px;background:linear-gradient(90deg,#00ff0e,#12ff0c,#28ff0a,#3dff07,#51ff05,#65ff01,#79ff00,#8dff00,#a1ff00,#b6ff00,#cbff00,#e1ff00,#f7ff00,#fff100,#ffde00,#ffcc00,#ffbd00,#ffb000,#ffa400,#ff9900,#ff8f00,#ff8600,#ff7d00,#ff7500,#ff6e00,#ff6700,#ff6100,#ff5b00,#ff5600,#ff5100,#ff4c00,#ff4700,#ff4300,#ff3e00,#ff3a00,#ff3700,#ff3300,#ff2f00,#ff2c00,#ff2900,#ff2600,#ff2300,#ff2000,#ff1d00,#ff1a00,#ff1800,#ff1500,#ff1200,#ff1000,#ff0d00,#ff0b00)"></div><div style="position:absolute;left:0;top:9px;width:496px;height:3px;background:linear-gradient(90deg,#00ff14,#11ff13,#27ff11,#3cff0f,#50ff0d,#64ff0b,#78ff08,#8dff06,#a1ff02,#b6ff00,#cbff00,#e1ff00,#f7ff00,#fff000,#ffdd00,#ffcc00,#ffbd00,#ffaf00,#ffa300,#ff9800,#ff8e00,#ff8500,#ff7c00,#ff7500,#ff6d00,#ff6700,#ff6000,#ff5b00,#ff5500,#ff5000,#ff4b00,#ff4600,#ff4200,#ff3e00,#ff3a00,#ff3600,#ff3200,#ff2f00,#ff2b00,#ff2800,#ff2500,#ff2200,#ff1f00,#ff1c00,#ff1a00,#ff1700,#ff1400,#ff1200,#ff0f00,#ff0d00,#ff0a00)"></div><div style="position:absolute;left:0;top:12px;width:496px;height:3px;background:linear-gradient(90deg,#00ff1b,#10ff19,#26ff18,#3bff16,#50ff14,#64ff12,#78ff10,#8cff0e,#a1ff0c,#b6ff09,#cbff07,#e1ff03,#f8ff00,#fff000,#ffdc00,#ffcb00,#ffbc00,#ffae00,#ffa200,#ff9700,#ff8d00,#ff8400,#ff7c00,#ff7400,#ff6d00,#ff6600,#ff6000,#ff5a00,#ff5400,#ff4f00,#ff4a00,#ff4600,#ff4100,#ff3d00,#ff3900,#ff3500,#ff3200,#ff2e00,#ff2b00,#ff2800,#ff2500,#ff2200,#ff1f00,#ff1c00,#ff1900,#ff1600,#ff1400,#ff1100,#ff0f00,#ff0c00,#ff0900)"></div><div style="position:absolute;left:0;top:15px;width:496px;height:3px;background:linear-gradient(90deg,#00ff21,#0eff20,#26ff1e,#3bff1d,#4fff1b,#64ff1a,#78ff18,#8cff16,#a1ff14,#b6ff12,#ccff10,#e2ff0d,#f9ff0b,#ffef07,#ffdb04,#ffca00,#ffbb00,#ffae00,#ffa100,#ff9600,#ff8c00,#ff8300,#ff7b00,#ff7300,#ff6c00,#ff6500,#ff5f00,#ff5900,#ff5400,#ff4e00,#ff4a00,#ff4500,#ff4100,#ff3c00,#ff3800,#ff3500,#ff3100,#ff2e00,#ff2a00,#ff2700,#ff2400,#ff2100,#ff1e00,#ff1b00,#ff1800,#ff1600,#ff1300,#ff1000,#ff0e00,#ff0b00,#ff0900)"></div><div style="position:absolute;left:0;top:18px;width:496px;height:3px;background:linear-gradient(90deg,#00ff27,#0dff26,#25ff24,#3aff23,#4fff22,#63ff20,#78ff1f,#8cff1d,#a1ff1c,#b6ff1a,#ccff18,#e2ff16,#f9ff14,#ffee10,#ffdb0d,#ffc90a,#ffba07,#ffad04,#ffa101,#ff9600,#ff8c00,#ff8300,#ff7a00,#ff7200,#ff6b00,#ff6500,#ff5e00,#ff5800,#ff5300,#ff4e00,#ff4900,#ff4400,#ff4000,#ff3c00,#ff3800,#ff3400,#ff3000,#ff2d00,#ff2a00,#ff2600,#ff2300,#ff2000,#ff1d00,#ff1a00,#ff1800,#ff1500,#ff1200,#ff1000,#ff0d00,#ff0b00,#ff0800)"></div><div style="position:absolute;left:0;top:21px;width:496px;height:3px;background:linear-gradient(90deg,#00ff2d,#0cff2c,#24ff2b,#39ff29,#4eff28,#63ff27,#77ff26,#8cff24,#a1ff23,#b6ff21,#ccff20,#e3ff1e,#faff1c,#ffed18,#ffda15,#ffc911,#ffba0e,#ffac0b,#ffa009,#ff9506,#ff8b04,#ff8202,#ff7900,#ff7200,#ff6a00,#ff6400,#ff5e00,#ff5800,#ff5200,#ff4d00,#ff4800,#ff4400,#ff3f00,#ff3b00,#ff3700,#ff3300,#ff3000,#ff2c00,#ff2900,#ff2600,#ff2300,#ff2000,#ff1d00,#ff1a00,#ff1700,#ff1400,#ff1200,#ff0f00,#ff0d00,#ff0a00,#ff0700)"></div><div style="position:absolute;left:0;top:24px;width:496px;height:3px;background:linear-gradient(90deg,#00ff33,#0bff32,#23ff31,#39ff30,#4eff2f,#62ff2e,#77ff2c,#8cff2b,#a1ff2a,#b7ff29,#cdff27,#e3ff26,#fbff24,#ffed20,#ffd91c,#ffc818,#ffb915,#ffab12,#ff9f0f,#ff940d,#ff8a0a,#ff8108,#ff7906,#ff7104,#ff6a02,#ff6300,#ff5d00,#ff5700,#ff5200,#ff4c00,#ff4800,#ff4300,#ff3f00,#ff3a00,#ff3600,#ff3300,#ff2f00,#ff2c00,#ff2800,#ff2500,#ff2200,#ff1f00,#ff1c00,#ff1900,#ff1600,#ff1400,#ff1100,#ff0e00,#ff0c00,#ff0900,#ff0700)"></div><div style="position:absolute;left:0;top:27px;width:496px;height:3px;background:linear-gradient(90deg,#00ff38,#09ff37,#22ff37,#38ff36,#4dff35,#62ff34,#77ff33,#8cff32,#a1ff31,#b7ff30,#cdff2f,#e4ff2d,#fbff2c,#ffec27,#ffd823,#ffc71f,#ffb81b,#ffaa18,#ff9e15,#ff9312,#ff8910,#ff800e,#ff780c,#ff700a,#ff6908,#ff6206,#ff5c04,#ff5602,#ff5100,#ff4c00,#ff4700,#ff4200,#ff3e00,#ff3a00,#ff3600,#ff3200,#ff2e00,#ff2b00,#ff2800,#ff2400,#ff2100,#ff1e00,#ff1b00,#ff1900,#ff1600,#ff1300,#ff1000,#ff0e00,#ff0b00,#ff0800,#ff0600)"></div><div style="position:absolute;left:0;top:30px;width:496px;height:3px;background:linear-gradient(90deg,#00ff3e,#08ff3d,#21ff3d,#37ff3c,#4dff3b,#62ff3a,#76ff39,#8cff39,#a1ff38,#b7ff37,#cdff36,#e4ff35,#fcff34,#ffeb2f,#ffd82a,#ffc625,#ffb721,#ffaa1e,#ff9e1b,#ff9318,#ff8915,#ff7f13,#ff7711,#ff6f0f,#ff680d,#ff620b,#ff5b09,#ff5607,#ff5006,#ff4b04,#ff4602,#ff4201,#ff3d00,#ff3900,#ff3500,#ff3100,#ff2e00,#ff2a00,#ff2700,#ff2400,#ff2100,#ff1e00,#ff1b00,#ff1800,#ff1500,#ff1200,#ff1000,#ff0d00,#ff0a00,#ff0800,#ff0500)"></div><div style="position:absolute;left:0;top:33px;width:496px;height:3px;background:linear-gradient(90deg,#00ff44,#07ff43,#20ff42,#37ff42,#4cff41,#61ff41,#76ff40,#8bff3f,#a1ff3e,#b7ff3e,#ceff3d,#e5ff3c,#fdff3b,#ffeb35,#ffd730,#ffc62b,#ffb627,#ffa924,#ff9d20,#ff921d,#ff881a,#ff7f18,#ff7615,#ff6f13,#ff6711,#ff610f,#ff5b0d,#ff550c,#ff4f0a,#ff4a09,#ff4507,#ff4106,#ff3c04,#ff3803,#ff3401,#ff3100,#ff2d00,#ff2a00,#ff2600,#ff2300,#ff2000,#ff1d00,#ff1a00,#ff1700,#ff1400,#ff1200,#ff0f00,#ff0c00,#ff0a00,#ff0700,#ff0400)"></div><div style="position:absolute;left:0;top:36px;width:496px;height:3px;background:linear-gradient(90deg,#00ff49,#05ff49,#1fff48,#36ff48,#4bff47,#61ff47,#76ff46,#8bff46,#a1ff45,#b7ff45,#ceff44,#e5ff43,#fdff43,#ffea3c,#ffd637,#ffc532,#ffb62d,#ffa829,#ff9c25,#ff9122,#ff871f,#ff7e1d,#ff761a,#ff6e18,#ff6716,#ff6014,#ff5a12,#ff5410,#ff4f0e,#ff4a0d,#ff450b,#ff400a,#ff3c08,#ff3807,#ff3405,#ff3004,#ff2c03,#ff2901,#ff2600,#ff2200,#ff1f00,#ff1c00,#ff1900,#ff1600,#ff1400,#ff1100,#ff0e00,#ff0c00,#ff0900,#ff0600,#ff0300)"></div><div style="position:absolute;left:0;top:39px;width:496px;height:3px;background:linear-gradient(90deg,#00ff4f,#04ff4e,#1eff4e,#35ff4e,#4bff4d,#60ff4d,#76ff4d,#8bff4c,#a1ff4c,#b7ff4b,#ceff4b,#e6ff4a,#feff4a,#ffe943,#ffd53d,#ffc437,#ffb533,#ffa72e,#ff9b2b,#ff9027,#ff8624,#ff7d21,#ff751f,#ff6d1c,#ff661a,#ff5f18,#ff5916,#ff5314,#ff4e12,#ff4910,#ff440f,#ff3f0d,#ff3b0c,#ff370a,#ff3309,#ff2f08,#ff2c07,#ff2805,#ff2504,#ff2203,#ff1f02,#ff1c00,#ff1900,#ff1600,#ff1300,#ff1000,#ff0e00,#ff0b00,#ff0800,#ff0500,#ff0200)"></div><div style="position:absolute;left:0;top:42px;width:496px;height:3px;background:linear-gradient(90deg,#00ff54,#02ff54,#1dff54,#34ff54,#4aff53,#60ff53,#75ff53,#8bff53,#a1ff52,#b8ff52,#cfff52,#e6ff52,#ffff51,#ffe84a,#ffd543,#ffc33d,#ffb438,#ffa634,#ff9a30,#ff8f2c,#ff8529,#ff7c26,#ff7423,#ff6c20,#ff651e,#ff5f1c,#ff581a,#ff5318,#ff4d16,#ff4814,#ff4312,#ff3f11,#ff3a0f,#ff360e,#ff320d,#ff2f0b,#ff2b0a,#ff2809,#ff2408,#ff2106,#ff1e05,#ff1b04,#ff1803,#ff1502,#ff1200,#ff1000,#ff0d00,#ff0a00,#ff0700,#ff0500,#ff0100)"></div><div style="position:absolute;left:0;top:45px;width:496px;height:3px;background:linear-gradient(90deg,#00ff5a,#00ff5a,#1cff5a,#33ff5a,#4aff5a,#5fff59,#75ff59,#8bff59,#a1ff59,#b8ff59,#cfff59,#e7ff59,#ffff58,#ffe850,#ffd449,#ffc243,#ffb33e,#ffa639,#ff9a35,#ff8f31,#ff852d,#ff7c2a,#ff7327,#ff6b24,#ff6422,#ff5e20,#ff581d,#ff521b,#ff4c19,#ff4718,#ff4316,#ff3e14,#ff3a13,#ff3611,#ff3210,#ff2e0e,#ff2a0d,#ff270c,#ff230b,#ff200a,#ff1d08,#ff1a07,#ff1706,#ff1405,#ff1204,#ff0f03,#ff0c02,#ff0901,#ff0700,#ff0400,#ff0000)"></div><div style="position:absolute;left:0;top:48px;width:496px;height:3px;background:linear-gradient(90deg,#00ff5f,#00ff5f,#1bff60,#33ff60,#49ff60,#5fff60,#75ff60,#8bff60,#a1ff60,#b8ff60,#cfff60,#e7ff60,#fffe60,#ffe757,#ffd34f,#ffc249,#ffb243,#ffa53e,#ff993a,#ff8e36,#ff8432,#ff7b2e,#ff722b,#ff6b28,#ff6426,#ff5d23,#ff5721,#ff511f,#ff4c1d,#ff471b,#ff4219,#ff3d17,#ff3916,#ff3514,#ff3113,#ff2d12,#ff2a10,#ff260f,#ff230e,#ff200c,#ff1d0b,#ff190a,#ff1709,#ff1408,#ff1107,#ff0e06,#ff0b05,#ff0904,#ff0603,#ff0302,#ff0001)"></div><div style="position:absolute;left:0;top:51px;width:496px;height:3px;background:linear-gradient(90deg,#00ff65,#00ff65,#1aff65,#32ff65,#48ff66,#5eff66,#74ff66,#8bff66,#a1ff66,#b8ff67,#d0ff67,#e8ff67,#fffd67,#ffe65d,#ffd256,#ffc14f,#ffb249,#ffa443,#ff983f,#ff8d3a,#ff8336,#ff7a33,#ff722f,#ff6a2c,#ff632a,#ff5c27,#ff5625,#ff5022,#ff4b20,#ff461e,#ff411c,#ff3d1b,#ff3819,#ff3417,#ff3016,#ff2c15,#ff2913,#ff2512,#ff2211,#ff1f0f,#ff1c0e,#ff190d,#ff160c,#ff130b,#ff100a,#ff0d09,#ff0b08,#ff0807,#ff0506,#ff0205,#ff0004)"></div><div style="position:absolute;left:0;top:54px;width:496px;height:3px;background:linear-gradient(90deg,#00ff6b,#00ff6b,#19ff6b,#31ff6b,#48ff6c,#5eff6c,#74ff6c,#8aff6d,#a1ff6d,#b8ff6d,#d0ff6e,#e8ff6e,#fffd6d,#ffe564,#ffd15c,#ffc054,#ffb14e,#ffa348,#ff9743,#ff8c3f,#ff823b,#ff7937,#ff7134,#ff6930,#ff622d,#ff5b2b,#ff5528,#ff5026,#ff4a24,#ff4522,#ff4020,#ff3c1e,#ff371c,#ff331a,#ff2f19,#ff2c17,#ff2816,#ff2515,#ff2113,#ff1e12,#ff1b11,#ff1810,#ff150f,#ff120e,#ff0f0c,#ff0d0b,#ff0a0a,#ff0709,#ff0409,#ff0108,#ff0007)"></div><div style="position:absolute;left:0;top:57px;width:496px;height:3px;background:linear-gradient(90deg,#00ff70,#00ff71,#18ff71,#30ff71,#47ff72,#5dff72,#74ff73,#8aff73,#a1ff74,#b8ff74,#d0ff75,#e9ff75,#fffc74,#ffe56a,#ffd162,#ffbf5a,#ffb053,#ffa24d,#ff9648,#ff8b43,#ff813f,#ff783b,#ff7038,#ff6834,#ff6131,#ff5b2e,#ff552c,#ff4f29,#ff4927,#ff4425,#ff4023,#ff3b21,#ff371f,#ff331d,#ff2f1c,#ff2b1a,#ff2719,#ff2417,#ff2116,#ff1d15,#ff1a14,#ff1712,#ff1411,#ff1210,#ff0f0f,#ff0c0e,#ff090d,#ff060c,#ff030b,#ff000a,#ff0009)"></div><div style="position:absolute;left:0;top:60px;width:496px;height:3px;background:linear-gradient(90deg,#00ff76,#00ff76,#17ff77,#2fff77,#46ff78,#5dff78,#73ff79,#8aff7a,#a1ff7a,#b9ff7b,#d1ff7c,#e9ff7d,#fffb7b,#ffe471,#ffd068,#ffbe60,#ffaf59,#ffa252,#ff954d,#ff8a48,#ff8043,#ff773f,#ff6f3c,#ff6838,#ff6035,#ff5a32,#ff542f,#ff4e2d,#ff492a,#ff4428,#ff3f26,#ff3a24,#ff3622,#ff3220,#ff2e1f,#ff2a1d,#ff271c,#ff231a,#ff2019,#ff1d17,#ff1a16,#ff1715,#ff1414,#ff1113,#ff0e11,#ff0b10,#ff080f,#ff050e,#ff020d,#ff000c,#ff000c)"></div><div style="position:absolute;left:0;top:63px;width:496px;height:3px;background:linear-gradient(90deg,#00ff7b,#00ff7c,#16ff7d,#2eff7d,#46ff7e,#5cff7f,#73ff7f,#8aff80,#a1ff81,#b9ff82,#d1ff83,#eaff84,#fffa82,#ffe377,#ffcf6e,#ffbe65,#ffae5e,#ffa157,#ff9552,#ff8a4c,#ff8048,#ff7743,#ff6e40,#ff673c,#ff6039,#ff5936,#ff5333,#ff4d30,#ff482e,#ff432b,#ff3e29,#ff3a27,#ff3525,#ff3123,#ff2d21,#ff2a20,#ff261e,#ff231d,#ff1f1b,#ff1c1a,#ff1919,#ff1617,#ff1316,#ff1015,#ff0d14,#ff0a13,#ff0712,#ff0511,#ff0110,#ff000f,#ff000e)"></div><div style="position:absolute;left:0;top:66px;width:496px;height:3px;background:linear-gradient(90deg,#00ff81,#00ff82,#15ff82,#2eff83,#45ff84,#5cff85,#73ff86,#8aff87,#a1ff88,#b9ff89,#d1ff8a,#ebff8b,#fffa89,#ffe27d,#ffce73,#ffbd6b,#ffad63,#ffa05c,#ff9456,#ff8951,#ff7f4c,#ff7648,#ff6e43,#ff6640,#ff5f3c,#ff5839,#ff5236,#ff4c33,#ff4731,#ff422e,#ff3d2c,#ff392a,#ff3528,#ff3026,#ff2d24,#ff2923,#ff2521,#ff221f,#ff1f1e,#ff1b1c,#ff181b,#ff151a,#ff1219,#ff0f17,#ff0c16,#ff0a15,#ff0714,#ff0413,#ff0012,#ff0011,#ff0010)"></div><div style="position:absolute;left:0;top:69px;width:496px;height:3px;background:linear-gradient(90deg,#00ff87,#00ff87,#13ff88,#2dff89,#44ff8a,#5bff8b,#72ff8c,#8aff8d,#a1ff8e,#b9ff90,#d2ff91,#ebff92,#fff990,#ffe184,#ffcd79,#ffbc70,#ffad68,#ff9f61,#ff935b,#ff8855,#ff7e50,#ff754c,#ff6d47,#ff6544,#ff5e40,#ff573d,#ff513a,#ff4c37,#ff4634,#ff4132,#ff3d2f,#ff382d,#ff342b,#ff3029,#ff2c27,#ff2825,#ff2524,#ff2122,#ff1e20,#ff1b1f,#ff181e,#ff141c,#ff121b,#ff0f1a,#ff0c18,#ff0917,#ff0616,#ff0315,#ff0014,#ff0013,#ff0012)"></div><div style="position:absolute;left:0;top:72px;width:496px;height:3px;background:linear-gradient(90deg,#00ff8c,#00ff8d,#12ff8e,#2cff8f,#44ff90,#5bff92,#72ff93,#89ff94,#a1ff95,#b9ff97,#d2ff98,#ecff9a,#fff897,#ffe18a,#ffcc7f,#ffbb76,#ffac6e,#ff9e66,#ff9260,#ff875a,#ff7d54,#ff7450,#ff6c4b,#ff6447,#ff5d44,#ff5740,#ff513d,#ff4b3a,#ff4637,#ff4135,#ff3c32,#ff3730,#ff332e,#ff2f2c,#ff2b2a,#ff2728,#ff2426,#ff2024,#ff1d23,#ff1a21,#ff1720,#ff141f,#ff111d,#ff0e1c,#ff0b1b,#ff081a,#ff0518,#ff0217,#ff0016,#ff0015,#ff0014)"></div><div style="position:absolute;left:0;top:75px;width:496px;height:3px;background:linear-gradient(90deg,#00ff92,#00ff93,#11ff94,#2bff95,#43ff97,#5aff98,#72ff99,#89ff9b,#a1ff9c,#baff9e,#d3ff9f,#ecffa1,#fff79e,#ffe091,#ffcc85,#ffba7b,#ffab73,#ff9d6b,#ff9164,#ff865e,#ff7c59,#ff7354,#ff6b4f,#ff634b,#ff5c47,#ff5644,#ff5040,#ff4a3d,#ff453a,#ff4038,#ff3b35,#ff3733,#ff3231,#ff2e2e,#ff2a2c,#ff272b,#ff2329,#ff2027,#ff1c25,#ff1924,#ff1622,#ff1321,#ff1020,#ff0d1e,#ff0a1d,#ff071c,#ff041b,#ff0019,#ff0018,#ff0017,#ff0016)"></div><div style="position:absolute;left:0;top:78px;width:496px;height:3px;background:linear-gradient(90deg,#00ff98,#00ff99,#0fff9a,#2aff9b,#42ff9d,#5aff9e,#71ffa0,#89ffa1,#a1ffa3,#baffa5,#d3ffa7,#edffa8,#fff6a5,#ffdf97,#ffcb8b,#ffb981,#ffaa78,#ff9c70,#ff9069,#ff8563,#ff7b5d,#ff7258,#ff6a53,#ff634f,#ff5c4b,#ff5547,#ff4f44,#ff4940,#ff443d,#ff3f3b,#ff3a38,#ff3636,#ff3233,#ff2d31,#ff2a2f,#ff262d,#ff222b,#ff1f29,#ff1c28,#ff1826,#ff1525,#ff1223,#ff0f22,#ff0c20,#ff091f,#ff061e,#ff031d,#ff001c,#ff001a,#ff0019,#ff0018)"></div><div style="position:absolute;left:0;top:81px;width:496px;height:3px;background:linear-gradient(90deg,#00ff9d,#00ff9f,#0effa0,#29ffa2,#42ffa3,#59ffa5,#71ffa6,#89ffa8,#a1ffaa,#baffac,#d3ffae,#eeffb0,#fff6ac,#ffde9d,#ffca91,#ffb886,#ffa97d,#ff9b75,#ff8f6e,#ff8467,#ff7b61,#ff725c,#ff6957,#ff6252,#ff5b4e,#ff544a,#ff4e47,#ff4944,#ff4341,#ff3e3e,#ff393b,#ff3538,#ff3136,#ff2d34,#ff2932,#ff2530,#ff222e,#ff1e2c,#ff1b2a,#ff1829,#ff1527,#ff1125,#ff0e24,#ff0b23,#ff0821,#ff0520,#ff021f,#ff001e,#ff001c,#ff001b,#ff001a)"></div><div style="position:absolute;left:0;top:84px;width:496px;height:3px;background:linear-gradient(90deg,#00ffa3,#00ffa5,#0dffa6,#28ffa8,#41ffa9,#59ffab,#71ffad,#89ffaf,#a1ffb1,#baffb3,#d4ffb5,#eeffb8,#fff5b3,#ffdda4,#ffc997,#ffb78c,#ffa882,#ff9b7a,#ff8e72,#ff846b,#ff7a65,#ff7160,#ff685b,#ff6156,#ff5a52,#ff534e,#ff4d4a,#ff4847,#ff4244,#ff3d41,#ff393e,#ff343b,#ff3039,#ff2c37,#ff2834,#ff2432,#ff2130,#ff1d2e,#ff1a2d,#ff172b,#ff1429,#ff1128,#ff0e26,#ff0b25,#ff0823,#ff0422,#ff0121,#ff0020,#ff001e,#ff001d,#ff001c)"></div><div style="position:absolute;left:0;top:87px;width:496px;height:3px;background:linear-gradient(90deg,#00ffa9,#00ffab,#0bffac,#27ffae,#40ffb0,#58ffb2,#70ffb4,#89ffb6,#a1ffb8,#baffba,#d4ffbd,#efffbf,#fff4ba,#ffdcaa,#ffc89d,#ffb791,#ffa787,#ff9a7f,#ff8e77,#ff8370,#ff7969,#ff7064,#ff685e,#ff605a,#ff5955,#ff5351,#ff4d4d,#ff474a,#ff4247,#ff3d44,#ff3841,#ff333e,#ff2f3c,#ff2b39,#ff2737,#ff2435,#ff2033,#ff1d31,#ff192f,#ff162d,#ff132c,#ff102a,#ff0d28,#ff0a27,#ff0726,#ff0324,#ff0023,#ff0022,#ff0020,#ff001f,#ff001e)"></div><div style="position:absolute;left:0;top:90px;width:496px;height:3px;background:linear-gradient(90deg,#00ffaf,#00ffb1,#0affb2,#26ffb4,#3fffb6,#58ffb8,#70ffba,#88ffbd,#a1ffbf,#bbffc2,#d5ffc4,#f0ffc7,#fff3c0,#ffdbb0,#ffc7a3,#ffb697,#ffa68c,#ff9983,#ff8d7b,#ff8274,#ff786e,#ff6f68,#ff6762,#ff5f5d,#ff5859,#ff5255,#ff4c51,#ff464d,#ff414a,#ff3c47,#ff3744,#ff3341,#ff2e3e,#ff2a3c,#ff273a,#ff2337,#ff1f35,#ff1c33,#ff1931,#ff1530,#ff122e,#ff0f2c,#ff0c2b,#ff0929,#ff0628,#ff0226,#ff0025,#ff0024,#ff0022,#ff0021,#ff0020)"></div><div style="position:absolute;left:0;top:93px;width:496px;height:3px;background:linear-gradient(90deg,#00ffb5,#00ffb7,#08ffb9,#25ffbb,#3effbd,#57ffbf,#70ffc1,#88ffc4,#a1ffc6,#bbffc9,#d5ffcc,#f0ffcf,#fff2c7,#ffdbb7,#ffc6a9,#ffb59c,#ffa592,#ff9888,#ff8c80,#ff8178,#ff7772,#ff6e6c,#ff6666,#ff5e61,#ff575c,#ff5158,#ff4b54,#ff4550,#ff404d,#ff3b4a,#ff3647,#ff3244,#ff2e41,#ff2a3e,#ff263c,#ff223a,#ff1f38,#ff1b36,#ff1834,#ff1532,#ff1130,#ff0e2e,#ff0b2d,#ff082b,#ff052a,#ff0128,#ff0027,#ff0026,#ff0024,#ff0023,#ff0022)"></div><div style="position:absolute;left:0;top:96px;width:496px;height:3px;background:linear-gradient(90deg,#00ffbb,#00ffbd,#07ffbf,#24ffc1,#3effc3,#57ffc6,#6fffc8,#88ffcb,#a1ffcd,#bbffd0,#d5ffd3,#f1ffd7,#fff2ce,#ffdabd,#ffc5ae,#ffb4a2,#ffa497,#ff978d,#ff8b84,#ff807d,#ff7676,#ff6d6f,#ff656a,#ff5d65,#ff5660,#ff505b,#ff4a57,#ff4453,#ff3f50,#ff3a4c,#ff3549,#ff3146,#ff2d44,#ff2941,#ff253f,#ff213c,#ff1e3a,#ff1a38,#ff1736,#ff1434,#ff1132,#ff0d31,#ff0a2f,#ff072d,#ff042c,#ff002a,#ff0029,#ff0028,#ff0026,#ff0025,#ff0024)"></div><div style="position:absolute;left:0;top:99px;width:496px;height:3px;background:linear-gradient(90deg,#00ffc1,#00ffc3,#05ffc5,#23ffc7,#3dffca,#56ffcc,#6fffcf,#88ffd2,#a1ffd5,#bbffd8,#d6ffdb,#f2ffde,#fff1d5,#ffd9c4,#ffc4b4,#ffb3a7,#ffa49c,#ff9692,#ff8a89,#ff7f81,#ff757a,#ff6c73,#ff646e,#ff5d68,#ff5663,#ff4f5f,#ff495a,#ff4456,#ff3e53,#ff394f,#ff354c,#ff3049,#ff2c46,#ff2844,#ff2441,#ff203f,#ff1d3d,#ff1a3a,#ff1638,#ff1336,#ff1035,#ff0d33,#ff0a31,#ff062f,#ff032e,#ff002c,#ff002b,#ff002a,#ff0028,#ff0027,#ff0026)"></div><div style="position:absolute;left:0;top:102px;width:496px;height:3px;background:linear-gradient(90deg,#00ffc7,#00ffc9,#03ffcb,#22ffce,#3cffd0,#55ffd3,#6effd6,#88ffd9,#a1ffdc,#bbffdf,#d6ffe3,#f2ffe6,#fff0dc,#ffd8ca,#ffc4ba,#ffb2ad,#ffa3a1,#ff9597,#ff898e,#ff7e85,#ff747e,#ff6b77,#ff6371,#ff5c6c,#ff5567,#ff4e62,#ff485e,#ff435a,#ff3d56,#ff3952,#ff344f,#ff2f4c,#ff2b49,#ff2746,#ff2344,#ff2041,#ff1c3f,#ff193d,#ff153b,#ff1239,#ff0f37,#ff0c35,#ff0933,#ff0532,#ff0230,#ff002e,#ff002d,#ff002b,#ff002a,#ff0029,#ff0028)"></div><div style="position:absolute;left:0;top:105px;width:496px;height:3px;background:linear-gradient(90deg,#00ffcd,#00ffcf,#00ffd2,#21ffd4,#3bffd7,#55ffda,#6effdd,#87ffe0,#a1ffe3,#bcffe7,#d7ffeb,#f3ffef,#ffefe4,#ffd7d0,#ffc3c0,#ffb1b2,#ffa2a6,#ff949c,#ff8892,#ff7d8a,#ff7382,#ff6a7b,#ff6275,#ff5b6f,#ff546a,#ff4d65,#ff4761,#ff425d,#ff3d59,#ff3855,#ff3352,#ff2f4f,#ff2a4c,#ff2649,#ff2346,#ff1f44,#ff1b41,#ff183f,#ff153d,#ff113b,#ff0e39,#ff0b37,#ff0835,#ff0434,#ff0132,#ff0030,#ff002f,#ff002d,#ff002c,#ff002b,#ff0029)"></div><div style="position:absolute;left:0;top:108px;width:496px;height:3px;background:linear-gradient(90deg,#00ffd3,#00ffd5,#00ffd8,#20ffdb,#3affde,#54ffe1,#6effe4,#87ffe7,#a1ffeb,#bcffef,#d7fff3,#f4fff7,#ffeeeb,#ffd6d7,#ffc2c6,#ffb0b8,#ffa1ab,#ff93a0,#ff8797,#ff7c8e,#ff7286,#ff6a7f,#ff6179,#ff5a73,#ff536e,#ff4d69,#ff4764,#ff4160,#ff3c5c,#ff3758,#ff3255,#ff2e51,#ff2a4e,#ff264b,#ff2249,#ff1e46,#ff1b44,#ff1741,#ff143f,#ff103d,#ff0d3b,#ff0a39,#ff0737,#ff0336,#ff0034,#ff0032,#ff0031,#ff002f,#ff002e,#ff002d,#ff002b)"></div><div style="position:absolute;left:0;top:111px;width:496px;height:3px;background:linear-gradient(90deg,#00ffd9,#00ffdc,#00ffde,#1effe1,#3affe4,#53ffe8,#6dffeb,#87ffef,#a1fff2,#bcfff6,#d8fffb,#f4ffff,#ffedf2,#ffd5dd,#ffc1cc,#ffafbd,#ffa0b0,#ff92a5,#ff869b,#ff7b92,#ff718a,#ff6983,#ff607c,#ff5976,#ff5271,#ff4c6c,#ff4667,#ff4063,#ff3b5f,#ff365b,#ff3157,#ff2d54,#ff2951,#ff254e,#ff214b,#ff1d49,#ff1a46,#ff1644,#ff1341,#ff103f,#ff0c3d,#ff093b,#ff0639,#ff0238,#ff0036,#ff0034,#ff0033,#ff0031,#ff0030,#ff002e,#ff002d)"></div><div style="position:absolute;left:0;top:114px;width:496px;height:3px;background:linear-gradient(90deg,#00ffdf,#00ffe2,#00ffe5,#1dffe8,#39ffeb,#53ffef,#6dfff2,#87fff6,#a1fffa,#bcfffe,#d5fbff,#edf7ff,#ffecf9,#ffd4e4,#ffc0d2,#ffaec3,#ff9fb6,#ff91aa,#ff85a0,#ff7a97,#ff718e,#ff6887,#ff6080,#ff587a,#ff5174,#ff4b6f,#ff456a,#ff3f66,#ff3a62,#ff355e,#ff315a,#ff2c57,#ff2854,#ff2451,#ff204e,#ff1c4b,#ff1948,#ff1546,#ff1244,#ff0f42,#ff0c3f,#ff083d,#ff053c,#ff013a,#ff0038,#ff0036,#ff0035,#ff0033,#ff0032,#ff0030,#ff002f)"></div><div style="position:absolute;left:0;top:117px;width:496px;height:3px;background:linear-gradient(90deg,#00ffe5,#00ffe8,#00ffec,#1cffef,#38fff2,#52fff6,#6cfffa,#87fffe,#9ffcff,#b7f8ff,#cff4ff,#e7efff,#feebff,#ffd3ea,#ffbfd8,#ffadc8,#ff9ebb,#ff90af,#ff84a4,#ff799b,#ff7092,#ff678b,#ff5f84,#ff577e,#ff5078,#ff4a72,#ff446e,#ff3e69,#ff3965,#ff3461,#ff305d,#ff2b59,#ff2756,#ff2353,#ff1f50,#ff1c4d,#ff184b,#ff1548,#ff1146,#ff0e44,#ff0b42,#ff0740,#ff043e,#ff003c,#ff003a,#ff0038,#ff0037,#ff0035,#ff0034,#ff0032,#ff0031)"></div><div style="position:absolute;left:0;top:120px;width:496px;height:3px;background:linear-gradient(90deg,#00ffec,#00ffef,#00fff2,#1bfff6,#37fff9,#52fffd,#6bfdff,#83f9ff,#9bf5ff,#b2f1ff,#c9ecff,#e0e8ff,#f7e3ff,#ffd2f1,#ffbede,#ffacce,#ff9dc0,#ff8fb4,#ff83a9,#ff789f,#ff6f97,#ff668f,#ff5e88,#ff5681,#ff4f7b,#ff4976,#ff4371,#ff3e6c,#ff3868,#ff3364,#ff2f60,#ff2a5c,#ff2659,#ff2256,#ff1e53,#ff1b50,#ff174d,#ff144b,#ff1048,#ff0d46,#ff0a44,#ff0642,#ff0340,#ff003e,#ff003c,#ff003a,#ff0039,#ff0037,#ff0035,#ff0034,#ff0032)"></div><div style="position:absolute;left:0;top:123px;width:496px;height:3px;background:linear-gradient(90deg,#00fff2,#00fff5,#00fff9,#19fffc,#36feff,#4ffaff,#68f6ff,#7ff2ff,#96eeff,#ade9ff,#c4e5ff,#dae1ff,#f1dcff,#ffd1f7,#ffbde4,#ffabd4,#ff9cc5,#ff8eb9,#ff82ad,#ff77a4,#ff6e9b,#ff6593,#ff5d8b,#ff5585,#ff4f7f,#ff4879,#ff4274,#ff3d6f,#ff386b,#ff3366,#ff2e63,#ff2a5f,#ff255b,#ff2158,#ff1e55,#ff1a52,#ff1650,#ff134d,#ff104a,#ff0c48,#ff0946,#ff0544,#ff0242,#ff0040,#ff003e,#ff003c,#ff003a,#ff0039,#ff0037,#ff0036,#ff0034)"></div><div style="position:absolute;left:0;top:126px;width:496px;height:3px;background:linear-gradient(90deg,#00fff8,#00fffc,#00feff,#18fbff,#33f7ff,#4cf3ff,#64efff,#7bebff,#92e7ff,#a8e3ff,#bedfff,#d4daff,#ead6ff,#ffd0fe,#ffbcea,#ffaad9,#ff9bca,#ff8dbd,#ff81b2,#ff76a8,#ff6d9f,#ff6497,#ff5c8f,#ff5488,#ff4e82,#ff477c,#ff4177,#ff3c72,#ff376e,#ff3269,#ff2d65,#ff2962,#ff255e,#ff215b,#ff1d58,#ff1955,#ff1652,#ff124f,#ff0f4d,#ff0b4a,#ff0848,#ff0446,#ff0044,#ff0042,#ff0040,#ff003e,#ff003c,#ff003b,#ff0039,#ff0037,#ff0036)"></div><div style="position:absolute;left:0;top:129px;width:496px;height:3px;background:linear-gradient(90deg,#00ffff,#00fcff,#00f8ff,#16f4ff,#31f0ff,#4aedff,#61e9ff,#78e5ff,#8ee1ff,#a4dcff,#b9d8ff,#cfd4ff,#e4cfff,#f9cbff,#ffbbf0,#ffa9df,#ff9ad0,#ff8cc2,#ff80b7,#ff75ac,#ff6ca3,#ff639a,#ff5b93,#ff538c,#ff4d85,#ff4680,#ff407a,#ff3b75,#ff3670,#ff316c,#ff2c68,#ff2864,#ff2461,#ff205d,#ff1c5a,#ff1857,#ff1554,#ff1151,#ff0e4f,#ff0a4c,#ff074a,#ff0348,#ff0046,#ff0044,#ff0042,#ff0040,#ff003e,#ff003c,#ff003b,#ff0039,#ff0038)"></div><div style="position:absolute;left:0;top:132px;width:496px;height:3px;background:linear-gradient(90deg,#00f9ff,#00f5ff,#00f2ff,#14eeff,#2feaff,#47e6ff,#5ee2ff,#74deff,#8adaff,#a0d6ff,#b5d2ff,#caceff,#dfc9ff,#f3c5ff,#ffbaf6,#ffa8e4,#ff99d5,#ff8bc7,#ff7fbb,#ff74b1,#ff6ba7,#ff629e,#ff5a97,#ff538f,#ff4c89,#ff4583,#ff407d,#ff3a78,#ff3573,#ff306f,#ff2b6b,#ff2767,#ff2363,#ff1f60,#ff1b5d,#ff1759,#ff1457,#ff1054,#ff0d51,#ff094f,#ff064c,#ff024a,#ff0048,#ff0046,#ff0044,#ff0042,#ff0040,#ff003e,#ff003d,#ff003b,#ff0039)"></div><div style="position:absolute;left:0;top:135px;width:496px;height:3px;background:linear-gradient(90deg,#00f3ff,#00efff,#00ebff,#12e8ff,#2de4ff,#45e0ff,#5bdcff,#71d8ff,#86d4ff,#9bd0ff,#b0ccff,#c5c8ff,#d9c4ff,#edbfff,#ffb9fc,#ffa7ea,#ff98da,#ff8acc,#ff7ec0,#ff73b5,#ff6aab,#ff61a2,#ff599a,#ff5293,#ff4b8c,#ff4486,#ff3f80,#ff397b,#ff3476,#ff2f72,#ff2b6e,#ff266a,#ff2266,#ff1e62,#ff1a5f,#ff165c,#ff1359,#ff0f56,#ff0c53,#ff0851,#ff054e,#ff014c,#ff004a,#ff0048,#ff0046,#ff0044,#ff0042,#ff0040,#ff003e,#ff003d,#ff003b)"></div><div style="position:absolute;left:0;top:138px;width:496px;height:3px;background:linear-gradient(90deg,#00edff,#00e9ff,#00e6ff,#10e2ff,#2bdeff,#42dbff,#58d7ff,#6ed3ff,#83cfff,#97cbff,#acc7ff,#c0c2ff,#d4beff,#e8baff,#fcb5ff,#ffa6f0,#ff97df,#ff89d1,#ff7dc4,#ff72b9,#ff69af,#ff60a6,#ff589e,#ff5197,#ff4a90,#ff4489,#ff3e84,#ff387e,#ff3379,#ff2e75,#ff2a70,#ff256c,#ff2168,#ff1d65,#ff1961,#ff165e,#ff125b,#ff0e58,#ff0b56,#ff0753,#ff0450,#ff004e,#ff004c,#ff004a,#ff0048,#ff0046,#ff0044,#ff0042,#ff0040,#ff003f,#ff003d)"></div><div style="position:absolute;left:0;top:141px;width:496px;height:3px;background:linear-gradient(90deg,#00e7ff,#00e4ff,#00e0ff,#0fdcff,#29d9ff,#40d5ff,#56d1ff,#6bcdff,#7fc9ff,#94c5ff,#a7c1ff,#bbbdff,#cfb9ff,#e2b4ff,#f6b0ff,#ffa5f5,#ff96e5,#ff88d6,#ff7cc9,#ff71be,#ff68b3,#ff5faa,#ff57a2,#ff509a,#ff4993,#ff438d,#ff3d87,#ff3781,#ff327c,#ff2d77,#ff2973,#ff246f,#ff206b,#ff1c67,#ff1864,#ff1561,#ff115d,#ff0e5b,#ff0a58,#ff0655,#ff0353,#ff0050,#ff004e,#ff004c,#ff004a,#ff0048,#ff0046,#ff0044,#ff0042,#ff0040,#ff003f)"></div><div style="position:absolute;left:0;top:144px;width:496px;height:3px;background:linear-gradient(90deg,#00e2ff,#00deff,#00dbff,#0dd7ff,#27d3ff,#3ed0ff,#53ccff,#68c8ff,#7cc4ff,#90c0ff,#a3bcff,#b7b8ff,#cab4ff,#ddafff,#f0abff,#ffa4fb,#ff95ea,#ff87db,#ff7bce,#ff70c2,#ff67b7,#ff5eae,#ff56a5,#ff4f9e,#ff4896,#ff4290,#ff3c8a,#ff3684,#ff317f,#ff2c7a,#ff2876,#ff2371,#ff1f6e,#ff1b6a,#ff1866,#ff1463,#ff1060,#ff0d5d,#ff095a,#ff0557,#ff0155,#ff0052,#ff0050,#ff004e,#ff004c,#ff0049,#ff0048,#ff0046,#ff0044,#ff0042,#ff0040)"></div><div style="position:absolute;left:0;top:147px;width:496px;height:3px;background:linear-gradient(90deg,#00dcff,#00d9ff,#00d5ff,#0bd2ff,#25ceff,#3ccbff,#51c7ff,#65c3ff,#79bfff,#8cbbff,#a0b7ff,#b3b3ff,#c5afff,#d8abff,#eba6ff,#fda2ff,#ff93ef,#ff86e0,#ff7ad2,#ff6fc6,#ff66bc,#ff5db2,#ff55a9,#ff4ea1,#ff479a,#ff4193,#ff3b8d,#ff3587,#ff3082,#ff2c7d,#ff2778,#ff2374,#ff1e70,#ff1a6c,#ff1769,#ff1365,#ff0f62,#ff0c5f,#ff085c,#ff0459,#ff0057,#ff0054,#ff0052,#ff0050,#ff004d,#ff004b,#ff0049,#ff0047,#ff0046,#ff0044,#ff0042)"></div><div style="position:absolute;left:0;top:150px;width:496px;height:3px;background:linear-gradient(90deg,#00d7ff,#00d4ff,#00d0ff,#0acdff,#23c9ff,#39c6ff,#4ec2ff,#62beff,#76baff,#89b6ff,#9cb2ff,#aeaeff,#c1aaff,#d3a6ff,#e6a2ff,#f89dff,#ff92f4,#ff85e5,#ff79d7,#ff6ecb,#ff65c0,#ff5cb6,#ff54ad,#ff4da5,#ff469d,#ff4096,#ff3a90,#ff358a,#ff2f85,#ff2b80,#ff267b,#ff2277,#ff1e73,#ff1a6f,#ff166b,#ff1268,#ff0e64,#ff0b61,#ff075e,#ff035c,#ff0059,#ff0056,#ff0054,#ff0052,#ff004f,#ff004d,#ff004b,#ff0049,#ff0047,#ff0046,#ff0044)"></div><div style="position:absolute;left:0;top:153px;width:496px;height:3px;background:linear-gradient(90deg,#00d2ff,#00cfff,#00ccff,#08c8ff,#22c5ff,#37c1ff,#4cbdff,#60b9ff,#73b6ff,#86b2ff,#98aeff,#aaaaff,#bda6ff,#cfa1ff,#e19dff,#f399ff,#ff91fa,#ff84ea,#ff78dc,#ff6dcf,#ff64c4,#ff5bba,#ff53b1,#ff4ca8,#ff45a1,#ff3f9a,#ff3993,#ff348d,#ff2e88,#ff2a83,#ff257e,#ff2179,#ff1d75,#ff1971,#ff156e,#ff116a,#ff0d67,#ff0a63,#ff0660,#ff025e,#ff005b,#ff0058,#ff0056,#ff0054,#ff0051,#ff004f,#ff004d,#ff004b,#ff0049,#ff0047,#ff0046)"></div><div style="position:absolute;left:0;top:156px;width:496px;height:3px;background:linear-gradient(90deg,#00ceff,#00caff,#00c7ff,#06c3ff,#20c0ff,#36bcff,#4ab9ff,#5db5ff,#70b1ff,#83adff,#95a9ff,#a7a5ff,#b9a1ff,#ca9dff,#dc99ff,#ed95ff,#ff90ff,#ff83ef,#ff77e0,#ff6cd3,#ff63c8,#ff5abe,#ff52b4,#ff4bac,#ff44a4,#ff3e9d,#ff3896,#ff3390,#ff2e8b,#ff2986,#ff2481,#ff207c,#ff1c78,#ff1874,#ff1470,#ff106c,#ff0c69,#ff0966,#ff0563,#ff0060,#ff005d,#ff005a,#ff0058,#ff0055,#ff0053,#ff0051,#ff004f,#ff004d,#ff004b,#ff0049,#ff0047)"></div><div style="position:absolute;left:0;top:159px;width:496px;height:3px;background:linear-gradient(90deg,#00c9ff,#00c6ff,#00c2ff,#05bfff,#1ebbff,#34b8ff,#48b4ff,#5bb1ff,#6dadff,#80a9ff,#91a5ff,#a3a1ff,#b59dff,#c699ff,#d795ff,#e990ff,#fa8cff,#ff82f4,#ff76e5,#ff6bd8,#ff62cc,#ff59c2,#ff51b8,#ff4aaf,#ff43a8,#ff3da0,#ff379a,#ff3293,#ff2d8e,#ff2888,#ff2383,#ff1f7f,#ff1b7a,#ff1776,#ff1372,#ff0f6f,#ff0b6b,#ff0868,#ff0465,#ff0062,#ff005f,#ff005c,#ff005a,#ff0057,#ff0055,#ff0053,#ff0051,#ff004f,#ff004d,#ff004b,#ff0049)"></div><div style="position:absolute;left:0;top:162px;width:496px;height:3px;background:linear-gradient(90deg,#00c5ff,#00c1ff,#00beff,#03bbff,#1db7ff,#32b4ff,#46b0ff,#58acff,#6ba9ff,#7da5ff,#8ea1ff,#a09dff,#b199ff,#c295ff,#d391ff,#e48dff,#f588ff,#ff81f9,#ff75ea,#ff6adc,#ff61d0,#ff58c6,#ff50bc,#ff49b3,#ff42ab,#ff3ca4,#ff369d,#ff3196,#ff2c91,#ff278b,#ff2286,#ff1e81,#ff1a7d,#ff1679,#ff1275,#ff0e71,#ff0a6e,#ff066a,#ff0267,#ff0064,#ff0061,#ff005e,#ff005c,#ff0059,#ff0057,#ff0055,#ff0053,#ff0050,#ff004e,#ff004c,#ff004b)"></div><div style="position:absolute;left:0;top:165px;width:496px;height:3px;background:linear-gradient(90deg,#00c1ff,#00bdff,#00baff,#01b6ff,#1bb3ff,#30afff,#44acff,#56a8ff,#68a5ff,#7aa1ff,#8b9dff,#9c99ff,#ad95ff,#be91ff,#cf8dff,#df89ff,#f084ff,#ff7ffe,#ff74ee,#ff69e1,#ff5fd4,#ff57c9,#ff4fc0,#ff48b7,#ff41ae,#ff3ba7,#ff35a0,#ff3099,#ff2b93,#ff268e,#ff2189,#ff1d84,#ff197f,#ff157b,#ff1177,#ff0d73,#ff0970,#ff056c,#ff0169,#ff0066,#ff0063,#ff0060,#ff005e,#ff005b,#ff0059,#ff0057,#ff0054,#ff0052,#ff0050,#ff004e,#ff004c)"></div><div style="position:absolute;left:0;top:168px;width:496px;height:3px;background:linear-gradient(90deg,#00bcff,#00b9ff,#00b6ff,#00b2ff,#1aafff,#2eabff,#42a8ff,#54a4ff,#66a1ff,#779dff,#8899ff,#9995ff,#aa91ff,#ba8dff,#ca89ff,#db85ff,#eb81ff,#fb7dff,#ff72f3,#ff68e5,#ff5ed9,#ff56cd,#ff4ec3,#ff47ba,#ff40b2,#ff3aaa,#ff34a3,#ff2f9c,#ff2a96,#ff2591,#ff208c,#ff1c87,#ff1882,#ff147e,#ff107a,#ff0c76,#ff0872,#ff046f,#ff006b,#ff0068,#ff0065,#ff0062,#ff0060,#ff005d,#ff005b,#ff0058,#ff0056,#ff0054,#ff0052,#ff0050,#ff004e)"></div><div style="position:absolute;left:0;top:171px;width:496px;height:3px;background:linear-gradient(90deg,#00b8ff,#00b5ff,#00b2ff,#00aeff,#18abff,#2da8ff,#40a4ff,#52a0ff,#639dff,#7499ff,#8595ff,#9692ff,#a68eff,#b68aff,#c786ff,#d781ff,#e77dff,#f779ff,#ff71f8,#ff67e9,#ff5ddd,#ff55d1,#ff4dc7,#ff46be,#ff3fb5,#ff39ad,#ff33a6,#ff2e9f,#ff2999,#ff2494,#ff1f8e,#ff1b89,#ff1785,#ff1380,#ff0f7c,#ff0b78,#ff0774,#ff0371,#ff006e,#ff006a,#ff0067,#ff0064,#ff0062,#ff005f,#ff005d,#ff005a,#ff0058,#ff0056,#ff0054,#ff0052,#ff0050)"></div><div style="position:absolute;left:0;top:174px;width:496px;height:3px;background:linear-gradient(90deg,#00b5ff,#00b1ff,#00aeff,#00abff,#17a7ff,#2ba4ff,#3ea0ff,#509dff,#6199ff,#7295ff,#8292ff,#938eff,#a38aff,#b386ff,#c382ff,#d27eff,#e27aff,#f276ff,#ff70fc,#ff66ee,#ff5ce1,#ff54d5,#ff4ccb,#ff45c1,#ff3eb9,#ff38b1,#ff32a9,#ff2da3,#ff289c,#ff2396,#ff1e91,#ff1a8c,#ff1687,#ff1283,#ff0e7e,#ff0a7a,#ff0677,#ff0273,#ff0070,#ff006c,#ff0069,#ff0066,#ff0064,#ff0061,#ff005f,#ff005c,#ff005a,#ff0058,#ff0055,#ff0053,#ff0051)"></div><div style="position:absolute;left:0;top:177px;width:496px;height:3px;background:linear-gradient(90deg,#00b1ff,#00aeff,#00aaff,#00a7ff,#15a4ff,#2aa0ff,#3c9dff,#4e99ff,#5f96ff,#6f92ff,#808eff,#908aff,#a087ff,#af83ff,#bf7fff,#cf7bff,#de77ff,#ed72ff,#fd6eff,#ff65f2,#ff5be5,#ff53d9,#ff4bcf,#ff44c5,#ff3dbc,#ff37b4,#ff31ac,#ff2ca6,#ff279f,#ff2299,#ff1d94,#ff198e,#ff158a,#ff1185,#ff0d81,#ff097d,#ff0579,#ff0075,#ff0072,#ff006f,#ff006b,#ff0069,#ff0066,#ff0063,#ff0060,#ff005e,#ff005c,#ff0059,#ff0057,#ff0055,#ff0053)"></div><div style="position:absolute;left:0;top:180px;width:496px;height:3px;background:linear-gradient(90deg,#00adff,#00aaff,#00a7ff,#00a3ff,#14a0ff,#289dff,#3a99ff,#4c96ff,#5d92ff,#6d8fff,#7d8bff,#8d87ff,#9c83ff,#ac7fff,#bb7cff,#cb78ff,#da73ff,#e96fff,#f86bff,#ff63f7,#ff5ae9,#ff51dd,#ff4ad2,#ff42c8,#ff3cbf,#ff36b7,#ff30b0,#ff2ba9,#ff26a2,#ff219c,#ff1c96,#ff1891,#ff148c,#ff1088,#ff0c83,#ff087f,#ff037b,#ff0077,#ff0074,#ff0071,#ff006e,#ff006b,#ff0068,#ff0065,#ff0062,#ff0060,#ff005d,#ff005b,#ff0059,#ff0057,#ff0055)"></div><div style="position:absolute;left:0;top:183px;width:496px;height:3px;background:linear-gradient(90deg,#00aaff,#00a6ff,#00a3ff,#00a0ff,#139dff,#2799ff,#3996ff,#4a92ff,#5a8fff,#6b8bff,#7a88ff,#8a84ff,#9980ff,#a97cff,#b878ff,#c774ff,#d670ff,#e56cff,#f468ff,#ff62fb,#ff59ee,#ff50e1,#ff49d6,#ff41cc,#ff3bc3,#ff35ba,#ff2fb3,#ff2aac,#ff25a5,#ff209f,#ff1b99,#ff1794,#ff138f,#ff0f8a,#ff0b86,#ff0781,#ff027d,#ff007a,#ff0076,#ff0073,#ff0070,#ff006d,#ff006a,#ff0067,#ff0064,#ff0062,#ff005f,#ff005d,#ff005b,#ff0058,#ff0056)"></div><div style="position:absolute;left:0;top:186px;width:496px;height:3px;background:linear-gradient(90deg,#00a6ff,#00a3ff,#00a0ff,#009dff,#1199ff,#2596ff,#3793ff,#488fff,#588cff,#6888ff,#7884ff,#8781ff,#977dff,#a679ff,#b575ff,#c371ff,#d26dff,#e169ff,#f065ff,#fe61ff,#ff58f2,#ff4fe5,#ff47da,#ff40d0,#ff3ac6,#ff34be,#ff2eb6,#ff29af,#ff24a8,#ff1fa2,#ff1a9c,#ff1696,#ff1291,#ff0e8c,#ff0a88,#ff0584,#ff0180,#ff007c,#ff0078,#ff0075,#ff0072,#ff006f,#ff006c,#ff0069,#ff0066,#ff0063,#ff0061,#ff005f,#ff005c,#ff005a,#ff0058)"></div><div style="position:absolute;left:0;top:189px;width:496px;height:3px;background:linear-gradient(90deg,#00a3ff,#00a0ff,#009dff,#0099ff,#1096ff,#2493ff,#358fff,#468cff,#5688ff,#6685ff,#7681ff,#857eff,#947aff,#a376ff,#b172ff,#c06eff,#ce6aff,#dd66ff,#eb62ff,#fa5eff,#ff57f6,#ff4ee9,#ff46de,#ff3fd3,#ff39ca,#ff33c1,#ff2db9,#ff28b2,#ff23ab,#ff1ea4,#ff199f,#ff1599,#ff1194,#ff0d8f,#ff088a,#ff0486,#ff0082,#ff007e,#ff007a,#ff0077,#ff0074,#ff0071,#ff006e,#ff006b,#ff0068,#ff0065,#ff0063,#ff0060,#ff005e,#ff005c,#ff005a)"></div><div style="position:absolute;left:0;top:192px;width:496px;height:3px;background:linear-gradient(90deg,#00a0ff,#009dff,#0099ff,#0096ff,#0f93ff,#2290ff,#348cff,#4589ff,#5485ff,#6482ff,#737eff,#827bff,#9177ff,#a073ff,#ae6fff,#bd6cff,#cb68ff,#d964ff,#e75fff,#f65bff,#ff55fa,#ff4ded,#ff45e2,#ff3ed7,#ff38cd,#ff32c4,#ff2cbc,#ff27b5,#ff22ae,#ff1da7,#ff18a1,#ff149c,#ff1096,#ff0b91,#ff078d,#ff0388,#ff0084,#ff0080,#ff007d,#ff0079,#ff0076,#ff0073,#ff006f,#ff006d,#ff006a,#ff0067,#ff0065,#ff0062,#ff0060,#ff005e,#ff005b)"></div><div style="position:absolute;left:0;top:195px;width:496px;height:3px;background:linear-gradient(90deg,#009cff,#0099ff,#0096ff,#0093ff,#0e90ff,#218dff,#3289ff,#4386ff,#5382ff,#627fff,#717bff,#8078ff,#8e74ff,#9d70ff,#ab6dff,#b969ff,#c765ff,#d561ff,#e45dff,#f259ff,#ff54fe,#ff4cf1,#ff44e5,#ff3ddb,#ff37d1,#ff30c8,#ff2bbf,#ff25b8,#ff20b1,#ff1caa,#ff17a4,#ff139e,#ff0f99,#ff0a94,#ff068f,#ff018b,#ff0086,#ff0083,#ff007f,#ff007b,#ff0078,#ff0075,#ff0071,#ff006e,#ff006c,#ff0069,#ff0066,#ff0064,#ff0062,#ff005f,#ff005d)"></div><div style="position:absolute;left:0;top:198px;width:496px;height:3px;background:linear-gradient(90deg,#0099ff,#0096ff,#0093ff,#0090ff,#0c8dff,#208aff,#3186ff,#4183ff,#517fff,#607cff,#6f78ff,#7d75ff,#8c71ff,#9a6eff,#a86aff,#b666ff,#c462ff,#d25eff,#e05aff,#ee56ff,#fb52ff,#ff4bf5,#ff43e9,#ff3cde,#ff35d4,#ff2fcb,#ff2ac3,#ff24bb,#ff1fb4,#ff1bad,#ff16a7,#ff12a1,#ff0d9b,#ff0996,#ff0592,#ff008d,#ff0089,#ff0085,#ff0081,#ff007d,#ff007a,#ff0076,#ff0073,#ff0070,#ff006e,#ff006b,#ff0068,#ff0066,#ff0063,#ff0061,#ff005f)"></div><div style="position:absolute;left:0;top:201px;width:496px;height:3px;background:linear-gradient(90deg,#0096ff,#0093ff,#0090ff,#008dff,#0b8aff,#1e87ff,#3083ff,#4080ff,#4f7dff,#5e79ff,#6d76ff,#7b72ff,#896fff,#976bff,#a567ff,#b363ff,#c160ff,#ce5cff,#dc58ff,#ea54ff,#f74fff,#ff49f9,#ff42ed,#ff3be2,#ff34d8,#ff2ece,#ff29c6,#ff23be,#ff1eb7,#ff1ab0,#ff15a9,#ff11a4,#ff0c9e,#ff0899,#ff0394,#ff008f,#ff008b,#ff0087,#ff0083,#ff007f,#ff007c,#ff0078,#ff0075,#ff0072,#ff006f,#ff006d,#ff006a,#ff0067,#ff0065,#ff0063,#ff0060)"></div><div style="position:absolute;left:0;top:204px;width:496px;height:3px;background:linear-gradient(90deg,#0093ff,#0090ff,#008dff,#008aff,#0a87ff,#1d84ff,#2e81ff,#3e7dff,#4d7aff,#5c77ff,#6a73ff,#7970ff,#876cff,#9568ff,#a265ff,#b061ff,#be5dff,#cb59ff,#d855ff,#e651ff,#f34dff,#ff48fd,#ff41f1,#ff3ae5,#ff33db,#ff2dd2,#ff28c9,#ff22c1,#ff1db9,#ff18b3,#ff14ac,#ff0fa6,#ff0ba1,#ff079b,#ff0296,#ff0092,#ff008d,#ff0089,#ff0085,#ff0081,#ff007e,#ff007a,#ff0077,#ff0074,#ff0071,#ff006e,#ff006c,#ff0069,#ff0067,#ff0064,#ff0062)"></div><div style="position:absolute;left:0;top:207px;width:496px;height:3px;background:linear-gradient(90deg,#0091ff,#008eff,#008bff,#0087ff,#0984ff,#1c81ff,#2d7eff,#3c7bff,#4c77ff,#5a74ff,#6870ff,#766dff,#8469ff,#9266ff,#a062ff,#ad5eff,#ba5bff,#c857ff,#d553ff,#e24fff,#ef4bff,#fd46ff,#ff3ff5,#ff38e9,#ff32df,#ff2cd5,#ff26cc,#ff21c4,#ff1cbc,#ff17b5,#ff13af,#ff0ea9,#ff0aa3,#ff059e,#ff0099,#ff0094,#ff0090,#ff008b,#ff0087,#ff0084,#ff0080,#ff007c,#ff0079,#ff0076,#ff0073,#ff0070,#ff006e,#ff006b,#ff0068,#ff0066,#ff0064)"></div><div style="position:absolute;left:0;top:210px;width:496px;height:3px;background:linear-gradient(90deg,#008eff,#008bff,#0088ff,#0085ff,#0882ff,#1b7eff,#2b7bff,#3b78ff,#4a75ff,#5871ff,#666eff,#746aff,#8267ff,#9063ff,#9d60ff,#aa5cff,#b758ff,#c554ff,#d250ff,#df4cff,#ec48ff,#f944ff,#ff3ef8,#ff37ed,#ff31e2,#ff2bd8,#ff25cf,#ff20c7,#ff1bbf,#ff16b8,#ff12b2,#ff0dab,#ff09a6,#ff04a0,#ff009b,#ff0096,#ff0092,#ff008e,#ff0089,#ff0086,#ff0082,#ff007e,#ff007b,#ff0078,#ff0075,#ff0072,#ff006f,#ff006d,#ff006a,#ff0068,#ff0065)"></div><div style="position:absolute;left:0;top:213px;width:496px;height:3px;background:linear-gradient(90deg,#008bff,#0088ff,#0085ff,#0082ff,#067fff,#1a7cff,#2a79ff,#3a75ff,#4872ff,#576fff,#656bff,#7268ff,#8064ff,#8d61ff,#9a5dff,#a75aff,#b456ff,#c152ff,#ce4eff,#db4aff,#e846ff,#f542ff,#ff3dfc,#ff36f0,#ff30e5,#ff2adc,#ff24d2,#ff1fca,#ff1ac2,#ff15bb,#ff10b4,#ff0cae,#ff07a8,#ff02a3,#ff009e,#ff0099,#ff0094,#ff0090,#ff008c,#ff0088,#ff0084,#ff0080,#ff007d,#ff007a,#ff0077,#ff0074,#ff0071,#ff006e,#ff006c,#ff0069,#ff0067)"></div><div style="position:absolute;left:0;top:216px;width:496px;height:3px;background:linear-gradient(90deg,#0089ff,#0086ff,#0083ff,#007fff,#057cff,#1879ff,#2976ff,#3873ff,#4770ff,#556cff,#6369ff,#7066ff,#7e62ff,#8b5fff,#985bff,#a557ff,#b254ff,#be50ff,#cb4cff,#d848ff,#e544ff,#f140ff,#fe3cff,#ff35f4,#ff2fe9,#ff29df,#ff23d6,#ff1ecd,#ff19c5,#ff14be,#ff0fb7,#ff0bb1,#ff06ab,#ff01a5,#ff00a0,#ff009b,#ff0096,#ff0092,#ff008e,#ff008a,#ff0086,#ff0082,#ff007f,#ff007c,#ff0079,#ff0076,#ff0073,#ff0070,#ff006e,#ff006b,#ff0069)"></div><div style="position:absolute;left:0;top:219px;width:496px;height:3px;background:linear-gradient(90deg,#0086ff,#0083ff,#0080ff,#007dff,#047aff,#1777ff,#2874ff,#3770ff,#456dff,#536aff,#6167ff,#6e63ff,#7b60ff,#885cff,#9559ff,#a255ff,#af51ff,#bb4eff,#c84aff,#d546ff,#e142ff,#ee3eff,#fa3aff,#ff34f8,#ff2dec,#ff27e2,#ff22d9,#ff1dd0,#ff18c8,#ff13c1,#ff0eba,#ff09b3,#ff05ad,#ff00a8,#ff00a2,#ff009d,#ff0099,#ff0094,#ff0090,#ff008c,#ff0088,#ff0084,#ff0081,#ff007e,#ff007b,#ff0078,#ff0075,#ff0072,#ff006f,#ff006d,#ff006a)"></div><div style="position:absolute;left:0;top:222px;width:496px;height:3px;background:linear-gradient(90deg,#0083ff,#0080ff,#007eff,#007bff,#0377ff,#1674ff,#2671ff,#356eff,#446bff,#5268ff,#5f64ff,#6c61ff,#795dff,#865aff,#9356ff,#a053ff,#ac4fff,#b94bff,#c548ff,#d144ff,#de40ff,#ea3cff,#f638ff,#ff33fb,#ff2cf0,#ff26e6,#ff21dc,#ff1bd3,#ff16cb,#ff12c4,#ff0dbd,#ff08b6,#ff03b0,#ff00aa,#ff00a5,#ff00a0,#ff009b,#ff0096,#ff0092,#ff008e,#ff008a,#ff0086,#ff0083,#ff0080,#ff007c,#ff0079,#ff0076,#ff0074,#ff0071,#ff006e,#ff006c)"></div><div style="position:absolute;left:0;top:225px;width:496px;height:3px;background:linear-gradient(90deg,#0081ff,#007eff,#007bff,#0078ff,#0175ff,#1572ff,#256fff,#346cff,#4269ff,#5065ff,#5d62ff,#6a5fff,#775bff,#8458ff,#9154ff,#9d51ff,#a94dff,#b649ff,#c246ff,#ce42ff,#da3eff,#e73aff,#f336ff,#ff31ff,#ff2bf4,#ff25e9,#ff1fdf,#ff1ad6,#ff15ce,#ff10c6,#ff0cbf,#ff07b9,#ff01b2,#ff00ad,#ff00a7,#ff00a2,#ff009d,#ff0099,#ff0094,#ff0090,#ff008c,#ff0088,#ff0085,#ff0081,#ff007e,#ff007b,#ff0078,#ff0075,#ff0073,#ff0070,#ff006e)"></div><div style="position:absolute;left:0;top:228px;width:496px;height:3px;background:linear-gradient(90deg,#007fff,#007cff,#0079ff,#0076ff,#0073ff,#1470ff,#246dff,#3369ff,#4166ff,#4e63ff,#5c60ff,#695cff,#7559ff,#8256ff,#8e52ff,#9b4fff,#a74bff,#b347ff,#bf44ff,#cb40ff,#d73cff,#e338ff,#ef34ff,#fb2fff,#ff2af7,#ff24ec,#ff1ee2,#ff19d9,#ff14d1,#ff0fc9,#ff0ac2,#ff05bb,#ff00b5,#ff00af,#ff00aa,#ff00a4,#ff009f,#ff009b,#ff0096,#ff0092,#ff008e,#ff008a,#ff0087,#ff0083,#ff0080,#ff007d,#ff007a,#ff0077,#ff0074,#ff0072,#ff006f)"></div><div style="position:absolute;left:0;top:231px;width:496px;height:3px;background:linear-gradient(90deg,#007cff,#0079ff,#0076ff,#0073ff,#0070ff,#136dff,#236aff,#3267ff,#3f64ff,#4d61ff,#5a5eff,#675aff,#7357ff,#8054ff,#8c50ff,#984dff,#a449ff,#b045ff,#bc42ff,#c83eff,#d43aff,#e036ff,#ec32ff,#f82eff,#ff29fb,#ff23f0,#ff1de6,#ff18dc,#ff13d4,#ff0ecc,#ff09c5,#ff04be,#ff00b8,#ff00b2,#ff00ac,#ff00a7,#ff00a2,#ff009d,#ff0098,#ff0094,#ff0090,#ff008c,#ff0089,#ff0085,#ff0082,#ff007f,#ff007c,#ff0079,#ff0076,#ff0073,#ff0071)"></div><div style="position:absolute;left:0;top:234px;width:496px;height:3px;background:linear-gradient(90deg,#007aff,#0077ff,#0074ff,#0071ff,#006eff,#126bff,#2268ff,#3065ff,#3e62ff,#4b5fff,#585cff,#6558ff,#7155ff,#7e51ff,#8a4eff,#964bff,#a247ff,#ae43ff,#ba40ff,#c53cff,#d138ff,#dd34ff,#e930ff,#f42cff,#ff27fe,#ff21f3,#ff1ce9,#ff17e0,#ff11d7,#ff0ccf,#ff08c7,#ff02c1,#ff00ba,#ff00b4,#ff00ae,#ff00a9,#ff00a4,#ff009f,#ff009b,#ff0096,#ff0092,#ff008e,#ff008b,#ff0087,#ff0084,#ff0081,#ff007d,#ff007b,#ff0078,#ff0075,#ff0072)"></div><div style="position:absolute;left:0;top:237px;width:496px;height:3px;background:linear-gradient(90deg,#0078ff,#0075ff,#0072ff,#006fff,#006cff,#1169ff,#2166ff,#2f63ff,#3d60ff,#4a5dff,#5759ff,#6356ff,#7053ff,#7c4fff,#884cff,#9449ff,#a045ff,#ab41ff,#b73eff,#c33aff,#ce36ff,#da32ff,#e52eff,#f12aff,#fc26ff,#ff20f6,#ff1bec,#ff15e3,#ff10da,#ff0bd2,#ff06ca,#ff00c3,#ff00bd,#ff00b6,#ff00b1,#ff00ab,#ff00a6,#ff00a1,#ff009d,#ff0098,#ff0094,#ff0090,#ff008d,#ff0089,#ff0086,#ff0082,#ff007f,#ff007c,#ff0079,#ff0077,#ff0074)"></div><div style="position:absolute;left:0;top:240px;width:496px;height:3px;background:linear-gradient(90deg,#0075ff,#0073ff,#0070ff,#006dff,#006aff,#1067ff,#2064ff,#2e61ff,#3b5eff,#495bff,#5557ff,#6254ff,#6e51ff,#7a4eff,#864aff,#9247ff,#9d43ff,#a940ff,#b43cff,#c038ff,#cb34ff,#d730ff,#e22cff,#ee28ff,#f924ff,#ff1ffa,#ff19ef,#ff14e6,#ff0fdd,#ff0ad5,#ff05cd,#ff00c6,#ff00bf,#ff00b9,#ff00b3,#ff00ae,#ff00a8,#ff00a4,#ff009f,#ff009a,#ff0096,#ff0092,#ff008f,#ff008b,#ff0087,#ff0084,#ff0081,#ff007e,#ff007b,#ff0078,#ff0076)"></div><div style="position:absolute;left:0;top:243px;width:496px;height:3px;background:linear-gradient(90deg,#0073ff,#0070ff,#006eff,#006bff,#0068ff,#0f65ff,#1f62ff,#2d5fff,#3a5cff,#4759ff,#5455ff,#6052ff,#6c4fff,#784cff,#8448ff,#8f45ff,#9b41ff,#a63eff,#b23aff,#bd36ff,#c932ff,#d42fff,#df2bff,#ea26ff,#f622ff,#ff1efd,#ff18f3,#ff13e9,#ff0de0,#ff08d7,#ff03d0,#ff00c9,#ff00c2,#ff00bb,#ff00b6,#ff00b0,#ff00ab,#ff00a6,#ff00a1,#ff009d,#ff0098,#ff0094,#ff0090,#ff008d,#ff0089,#ff0086,#ff0083,#ff0080,#ff007d,#ff007a,#ff0077)"></div><div style="position:absolute;left:0;top:246px;width:496px;height:3px;background:linear-gradient(90deg,#0071ff,#006eff,#006cff,#0069ff,#0066ff,#0e63ff,#1e60ff,#2c5dff,#395aff,#4657ff,#5254ff,#5e50ff,#6a4dff,#764aff,#8246ff,#8d43ff,#993fff,#a43cff,#af38ff,#bb35ff,#c631ff,#d12dff,#dc29ff,#e725ff,#f220ff,#fd1cff,#ff17f6,#ff11ec,#ff0ce3,#ff07da,#ff01d2,#ff00cb,#ff00c4,#ff00be,#ff00b8,#ff00b2,#ff00ad,#ff00a8,#ff00a3,#ff009f,#ff009a,#ff0096,#ff0092,#ff008f,#ff008b,#ff0088,#ff0085,#ff0081,#ff007f,#ff007c,#ff0079)"></div><div style="position:absolute;left:0;top:249px;width:496px;height:3px;background:linear-gradient(90deg,#006fff,#006cff,#006aff,#0067ff,#0064ff,#0d61ff,#1d5eff,#2b5bff,#3858ff,#4455ff,#5152ff,#5d4eff,#694bff,#7448ff,#8045ff,#8b41ff,#973eff,#a23aff,#ad36ff,#b833ff,#c32fff,#ce2bff,#d927ff,#e423ff,#ef1fff,#fa1aff,#ff15f9,#ff10ef,#ff0be6,#ff05dd,#ff00d5,#ff00ce,#ff00c7,#ff00c0,#ff00ba,#ff00b5,#ff00af,#ff00aa,#ff00a5,#ff00a1,#ff009c,#ff0098,#ff0094,#ff0091,#ff008d,#ff008a,#ff0086,#ff0083,#ff0080,#ff007d,#ff007b)"></div><div style="position:absolute;left:0;top:252px;width:496px;height:3px;background:linear-gradient(90deg,#006dff,#006aff,#0068ff,#0065ff,#0062ff,#0c5fff,#1c5cff,#2959ff,#3756ff,#4353ff,#4f50ff,#5b4dff,#6749ff,#7346ff,#7e43ff,#893fff,#943cff,#a038ff,#ab35ff,#b631ff,#c12dff,#cb29ff,#d625ff,#e121ff,#ec1dff,#f719ff,#ff14fc,#ff0ff2,#ff09e9,#ff04e0,#ff00d8,#ff00d1,#ff00c9,#ff00c3,#ff00bd,#ff00b7,#ff00b1,#ff00ac,#ff00a7,#ff00a3,#ff009e,#ff009a,#ff0096,#ff0092,#ff008f,#ff008b,#ff0088,#ff0085,#ff0082,#ff007f,#ff007c)"></div><div style="position:absolute;left:0;top:255px;width:496px;height:3px;background:linear-gradient(90deg,#006bff,#0068ff,#0066ff,#0063ff,#0060ff,#0b5dff,#1b5aff,#2857ff,#3554ff,#4251ff,#4e4eff,#5a4bff,#6548ff,#7144ff,#7c41ff,#873eff,#923aff,#9d37ff,#a833ff,#b32fff,#be2cff,#c928ff,#d424ff,#de20ff,#e91cff,#f417ff,#fe13ff,#ff0df5,#ff08ec,#ff02e3,#ff00db,#ff00d3,#ff00cc,#ff00c5,#ff00bf,#ff00b9,#ff00b4,#ff00af,#ff00aa,#ff00a5,#ff00a0,#ff009c,#ff0098,#ff0094,#ff0091,#ff008d,#ff008a,#ff0087,#ff0084,#ff0081,#ff007e)"></div><div style="position:absolute;left:0;top:258px;width:496px;height:3px;background:linear-gradient(90deg,#0069ff,#0066ff,#0064ff,#0061ff,#005eff,#0a5bff,#1a58ff,#2755ff,#3452ff,#414fff,#4d4cff,#5849ff,#6446ff,#6f43ff,#7a3fff,#853cff,#9039ff,#9b35ff,#a631ff,#b12eff,#bc2aff,#c626ff,#d122ff,#db1eff,#e61aff,#f116ff,#fb11ff,#ff0cf8,#ff06ef,#ff00e6,#ff00de,#ff00d6,#ff00cf,#ff00c8,#ff00c2,#ff00bc,#ff00b6,#ff00b1,#ff00ac,#ff00a7,#ff00a2,#ff009e,#ff009a,#ff0096,#ff0093,#ff008f,#ff008c,#ff0088,#ff0085,#ff0082,#ff007f)"></div><div style="position:absolute;left:0;top:261px;width:496px;height:3px;background:linear-gradient(90deg,#0067ff,#0065ff,#0062ff,#005fff,#005cff,#0959ff,#1956ff,#2654ff,#3351ff,#3f4dff,#4b4aff,#5747ff,#6244ff,#6e41ff,#793eff,#843aff,#8e37ff,#9933ff,#a430ff,#af2cff,#b928ff,#c425ff,#ce21ff,#d91dff,#e318ff,#ee14ff,#f80fff,#ff0afc,#ff04f2,#ff00e9,#ff00e0,#ff00d9,#ff00d1,#ff00ca,#ff00c4,#ff00be,#ff00b8,#ff00b3,#ff00ae,#ff00a9,#ff00a5,#ff00a0,#ff009c,#ff0098,#ff0094,#ff0091,#ff008d,#ff008a,#ff0087,#ff0084,#ff0081)"></div><div style="position:absolute;left:0;top:264px;width:496px;height:3px;background:linear-gradient(90deg,#0065ff,#0063ff,#0060ff,#005dff,#005aff,#0858ff,#1855ff,#2552ff,#324fff,#3e4cff,#4a49ff,#5646ff,#6142ff,#6c3fff,#773cff,#8239ff,#8c35ff,#9732ff,#a22eff,#ac2bff,#b727ff,#c123ff,#cc1fff,#d61bff,#e017ff,#eb12ff,#f50eff,#ff09ff,#ff03f5,#ff00ec,#ff00e3,#ff00db,#ff00d4,#ff00cd,#ff00c6,#ff00c0,#ff00bb,#ff00b5,#ff00b0,#ff00ab,#ff00a7,#ff00a2,#ff009e,#ff009a,#ff0096,#ff0093,#ff008f,#ff008c,#ff0089,#ff0086,#ff0083)"></div><div style="position:absolute;left:0;top:267px;width:496px;height:3px;background:linear-gradient(90deg,#0064ff,#0061ff,#005eff,#005bff,#0059ff,#0756ff,#1753ff,#2450ff,#314dff,#3d4aff,#4947ff,#5444ff,#5f41ff,#6a3eff,#753aff,#8037ff,#8b34ff,#9530ff,#a02dff,#aa29ff,#b425ff,#bf22ff,#c91eff,#d31aff,#de15ff,#e811ff,#f20cff,#fc07ff,#ff00f8,#ff00ee,#ff00e6,#ff00de,#ff00d6,#ff00cf,#ff00c9,#ff00c3,#ff00bd,#ff00b7,#ff00b2,#ff00ad,#ff00a9,#ff00a4,#ff00a0,#ff009c,#ff0098,#ff0094,#ff0091,#ff008e,#ff008a,#ff0087,#ff0084)"></div><div style="position:absolute;left:0;top:270px;width:496px;height:3px;background:linear-gradient(90deg,#0062ff,#005fff,#005cff,#005aff,#0057ff,#0754ff,#1651ff,#234eff,#304bff,#3c48ff,#4745ff,#5342ff,#5e3fff,#693cff,#7439ff,#7e35ff,#8932ff,#932fff,#9e2bff,#a828ff,#b224ff,#bc20ff,#c71cff,#d118ff,#db14ff,#e50fff,#ef0bff,#f905ff,#ff00fb,#ff00f1,#ff00e9,#ff00e1,#ff00d9,#ff00d2,#ff00cb,#ff00c5,#ff00bf,#ff00ba,#ff00b4,#ff00af,#ff00ab,#ff00a6,#ff00a2,#ff009e,#ff009a,#ff0096,#ff0093,#ff008f,#ff008c,#ff0089,#ff0086)"></div><div style="position:absolute;left:0;top:273px;width:496px;height:3px;background:linear-gradient(90deg,#0060ff,#005dff,#005bff,#0058ff,#0055ff,#0652ff,#1550ff,#224dff,#2f4aff,#3b47ff,#4644ff,#5141ff,#5c3eff,#673aff,#7237ff,#7c34ff,#8731ff,#912dff,#9c2aff,#a626ff,#b022ff,#ba1fff,#c41bff,#ce17ff,#d812ff,#e20eff,#ec09ff,#f603ff,#ff00fe,#ff00f4,#ff00eb,#ff00e3,#ff00dc,#ff00d4,#ff00ce,#ff00c7,#ff00c1,#ff00bc,#ff00b6,#ff00b1,#ff00ad,#ff00a8,#ff00a4,#ff00a0,#ff009c,#ff0098,#ff0094,#ff0091,#ff008e,#ff008b,#ff0088)"></div><div style="position:absolute;left:0;top:276px;width:496px;height:3px;background:linear-gradient(90deg,#005eff,#005cff,#0059ff,#0056ff,#0053ff,#0551ff,#144eff,#214bff,#2e48ff,#3a45ff,#4542ff,#503fff,#5b3cff,#6639ff,#7036ff,#7b32ff,#852fff,#8f2cff,#9a28ff,#a425ff,#ae21ff,#b81dff,#c219ff,#cc15ff,#d611ff,#e00cff,#e907ff,#f301ff,#fd00ff,#ff00f7,#ff00ee,#ff00e6,#ff00de,#ff00d7,#ff00d0,#ff00ca,#ff00c4,#ff00be,#ff00b9,#ff00b4,#ff00af,#ff00aa,#ff00a6,#ff00a2,#ff009e,#ff009a,#ff0096,#ff0093,#ff008f,#ff008c,#ff0089)"></div><div style="position:absolute;left:0;top:279px;width:496px;height:3px;background:linear-gradient(90deg,#005dff,#005aff,#0057ff,#0055ff,#0052ff,#044fff,#134cff,#2149ff,#2d47ff,#3944ff,#4441ff,#4f3eff,#5a3aff,#6437ff,#6f34ff,#7931ff,#832eff,#8d2aff,#9827ff,#a223ff,#ac1fff,#b51cff,#bf18ff,#c914ff,#d30fff,#dd0bff,#e706ff,#f000ff,#fa00ff,#ff00fa,#ff00f1,#ff00e9,#ff00e1,#ff00d9,#ff00d3,#ff00cc,#ff00c6,#ff00c0,#ff00bb,#ff00b6,#ff00b1,#ff00ac,#ff00a8,#ff00a3,#ff009f,#ff009c,#ff0098,#ff0095,#ff0091,#ff008e,#ff008b)"></div><div style="position:absolute;left:0;top:282px;width:496px;height:3px;background:linear-gradient(90deg,#005bff,#0058ff,#0056ff,#0053ff,#0050ff,#034dff,#124bff,#2048ff,#2c45ff,#3742ff,#433fff,#4e3cff,#5839ff,#6336ff,#6d33ff,#772fff,#822cff,#8c29ff,#9625ff,#a022ff,#a91eff,#b31aff,#bd16ff,#c712ff,#d10eff,#da09ff,#e404ff,#ee00ff,#f700ff,#ff00fd,#ff00f4,#ff00eb,#ff00e3,#ff00dc,#ff00d5,#ff00ce,#ff00c8,#ff00c2,#ff00bd,#ff00b8,#ff00b3,#ff00ae,#ff00aa,#ff00a5,#ff00a1,#ff009d,#ff009a,#ff0096,#ff0093,#ff0090,#ff008c)"></div><div style="position:absolute;left:0;top:285px;width:496px;height:3px;background:linear-gradient(90deg,#0059ff,#0057ff,#0054ff,#0051ff,#004fff,#024cff,#1249ff,#1f46ff,#2b43ff,#3641ff,#423eff,#4c3bff,#5737ff,#6134ff,#6c31ff,#762eff,#802bff,#8a27ff,#9424ff,#9e20ff,#a71dff,#b119ff,#bb15ff,#c411ff,#ce0cff,#d808ff,#e102ff,#eb00ff,#f400ff,#fe00ff,#ff00f7,#ff00ee,#ff00e6,#ff00de,#ff00d7,#ff00d1,#ff00cb,#ff00c5,#ff00bf,#ff00ba,#ff00b5,#ff00b0,#ff00ac,#ff00a7,#ff00a3,#ff009f,#ff009c,#ff0098,#ff0095,#ff0091,#ff008e)"></div><div style="position:absolute;left:0;top:288px;width:496px;height:3px;background:linear-gradient(90deg,#0058ff,#0055ff,#0052ff,#0050ff,#004dff,#004aff,#1148ff,#1e45ff,#2a42ff,#353fff,#403cff,#4b39ff,#5636ff,#6033ff,#6a30ff,#742dff,#7e29ff,#8826ff,#9222ff,#9c1fff,#a51bff,#af17ff,#b913ff,#c20fff,#cc0bff,#d506ff,#df00ff,#e800ff,#f200ff,#fb00ff,#ff00f9,#ff00f1,#ff00e9,#ff00e1,#ff00da,#ff00d3,#ff00cd,#ff00c7,#ff00c1,#ff00bc,#ff00b7,#ff00b2,#ff00ae,#ff00a9,#ff00a5,#ff00a1,#ff009d,#ff009a,#ff0096,#ff0093,#ff0090)"></div><div style="position:absolute;left:0;top:291px;width:496px;height:3px;background:linear-gradient(90deg,#0056ff,#0053ff,#0051ff,#004eff,#004cff,#0049ff,#1046ff,#1d43ff,#2940ff,#343eff,#3f3bff,#4a38ff,#5435ff,#5f31ff,#692eff,#732bff,#7d28ff,#8624ff,#9021ff,#9a1dff,#a31aff,#ad16ff,#b612ff,#c00eff,#c909ff,#d304ff,#dc00ff,#e600ff,#ef00ff,#f800ff,#ff00fc,#ff00f3,#ff00eb,#ff00e4,#ff00dc,#ff00d5,#ff00cf,#ff00c9,#ff00c3,#ff00be,#ff00b9,#ff00b4,#ff00af,#ff00ab,#ff00a7,#ff00a3,#ff009f,#ff009b,#ff0098,#ff0095,#ff0091)"></div><div style="position:absolute;left:0;top:294px;width:496px;height:3px;background:linear-gradient(90deg,#0055ff,#0052ff,#004fff,#004dff,#004aff,#0047ff,#0f45ff,#1c42ff,#283fff,#333cff,#3e39ff,#4936ff,#5333ff,#5d30ff,#672dff,#712aff,#7b26ff,#8523ff,#8e20ff,#981cff,#a218ff,#ab15ff,#b411ff,#be0cff,#c708ff,#d003ff,#da00ff,#e300ff,#ec00ff,#f600ff,#ff00ff,#ff00f6,#ff00ee,#ff00e6,#ff00df,#ff00d8,#ff00d1,#ff00cb,#ff00c6,#ff00c0,#ff00bb,#ff00b6,#ff00b1,#ff00ad,#ff00a9,#ff00a5,#ff00a1,#ff009d,#ff009a,#ff0096,#ff0093)"></div><div style="position:absolute;left:0;top:297px;width:496px;height:3px;background:linear-gradient(90deg,#0053ff,#0050ff,#004eff,#004bff,#0049ff,#0046ff,#0e43ff,#1b40ff,#273eff,#323bff,#3d38ff,#4835ff,#5232ff,#5c2fff,#662cff,#7028ff,#7a25ff,#8322ff,#8d1eff,#961bff,#a017ff,#a913ff,#b20fff,#bc0bff,#c506ff,#ce01ff,#d700ff,#e100ff,#ea00ff,#f300ff,#fc00ff,#ff00f9,#ff00f0,#ff00e9,#ff00e1,#ff00da,#ff00d4,#ff00ce,#ff00c8,#ff00c2,#ff00bd,#ff00b8,#ff00b3,#ff00af,#ff00ab,#ff00a7,#ff00a3,#ff009f,#ff009b,#ff0098,#ff0095)"></div><div style="position:absolute;left:0;top:300px;width:496px;height:3px;background:linear-gradient(90deg,#0051ff,#004fff,#004cff,#004aff,#0047ff,#0044ff,#0e42ff,#1a3fff,#263cff,#3139ff,#3c36ff,#4733ff,#5130ff,#5b2dff,#652aff,#6e27ff,#7824ff,#8220ff,#8b1dff,#9419ff,#9e16ff,#a712ff,#b00eff,#b90aff,#c305ff,#cc00ff,#d500ff,#de00ff,#e700ff,#f000ff,#f900ff,#ff00fc,#ff00f3,#ff00eb,#ff00e4,#ff00dd,#ff00d6,#ff00d0,#ff00ca,#ff00c4,#ff00bf,#ff00ba,#ff00b5,#ff00b1,#ff00ac,#ff00a8,#ff00a4,#ff00a1,#ff009d,#ff009a,#ff0096)"></div><div style="position:absolute;left:0;top:303px;width:496px;height:3px;background:linear-gradient(90deg,#0050ff,#004dff,#004bff,#0048ff,#0046ff,#0043ff,#0d40ff,#1a3eff,#253bff,#3038ff,#3b35ff,#4632ff,#502fff,#5a2cff,#6329ff,#6d26ff,#7722ff,#801fff,#891cff,#9318ff,#9c14ff,#a511ff,#ae0dff,#b708ff,#c003ff,#ca00ff,#d300ff,#dc00ff,#e500ff,#ee00ff,#f700ff,#ff00fe,#ff00f6,#ff00ee,#ff00e6,#ff00df,#ff00d8,#ff00d2,#ff00cc,#ff00c6,#ff00c1,#ff00bc,#ff00b7,#ff00b3,#ff00ae,#ff00aa,#ff00a6,#ff00a2,#ff009f,#ff009b,#ff0098)"></div><div style="position:absolute;left:0;top:306px;width:496px;height:3px;background:linear-gradient(90deg,#004fff,#004cff,#0049ff,#0047ff,#0044ff,#0042ff,#0c3fff,#193cff,#2539ff,#3037ff,#3a34ff,#4431ff,#4e2eff,#582bff,#6228ff,#6c24ff,#7521ff,#7e1eff,#881aff,#9117ff,#9a13ff,#a30fff,#ac0bff,#b507ff,#be01ff,#c700ff,#d000ff,#d900ff,#e200ff,#eb00ff,#f400ff,#fd00ff,#ff00f8,#ff00f0,#ff00e9,#ff00e1,#ff00db,#ff00d4,#ff00ce,#ff00c9,#ff00c3,#ff00be,#ff00b9,#ff00b5,#ff00b0,#ff00ac,#ff00a8,#ff00a4,#ff00a0,#ff009d,#ff0099)"></div><div style="position:absolute;left:0;top:309px;width:496px;height:3px;background:linear-gradient(90deg,#004dff,#004bff,#0048ff,#0045ff,#0043ff,#0040ff,#0b3dff,#183bff,#2438ff,#2f35ff,#3932ff,#432fff,#4d2cff,#5729ff,#6126ff,#6a23ff,#7420ff,#7d1dff,#8619ff,#8f16ff,#9812ff,#a10eff,#aa0aff,#b305ff,#bc00ff,#c500ff,#ce00ff,#d700ff,#e000ff,#e900ff,#f100ff,#fa00ff,#ff00fb,#ff00f3,#ff00eb,#ff00e4,#ff00dd,#ff00d6,#ff00d0,#ff00cb,#ff00c5,#ff00c0,#ff00bb,#ff00b6,#ff00b2,#ff00ae,#ff00aa,#ff00a6,#ff00a2,#ff009f,#ff009b)"></div><div style="position:absolute;left:0;top:312px;width:496px;height:3px;background:linear-gradient(90deg,#004cff,#0049ff,#0047ff,#0044ff,#0041ff,#003fff,#0a3cff,#1739ff,#2337ff,#2e34ff,#3831ff,#422eff,#4c2bff,#5628ff,#5f25ff,#6922ff,#721fff,#7b1bff,#8518ff,#8e14ff,#9711ff,#a00dff,#a908ff,#b104ff,#ba00ff,#c300ff,#cc00ff,#d500ff,#dd00ff,#e600ff,#ef00ff,#f800ff,#ff00fe,#ff00f5,#ff00ed,#ff00e6,#ff00df,#ff00d9,#ff00d3,#ff00cd,#ff00c7,#ff00c2,#ff00bd,#ff00b8,#ff00b4,#ff00b0,#ff00ab,#ff00a8,#ff00a4,#ff00a0,#ff009d)"></div><div style="position:absolute;left:0;top:315px;width:496px;height:3px;background:linear-gradient(90deg,#004aff,#0048ff,#0045ff,#0043ff,#0040ff,#003dff,#0a3bff,#1638ff,#2235ff,#2d33ff,#3730ff,#412dff,#4b2aff,#5527ff,#5e24ff,#6821ff,#711dff,#7a1aff,#8317ff,#8c13ff,#950fff,#9e0bff,#a707ff,#af02ff,#b800ff,#c100ff,#ca00ff,#d200ff,#db00ff,#e400ff,#ec00ff,#f500ff,#fe00ff,#ff00f8,#ff00f0,#ff00e8,#ff00e2,#ff00db,#ff00d5,#ff00cf,#ff00c9,#ff00c4,#ff00bf,#ff00ba,#ff00b6,#ff00b1,#ff00ad,#ff00a9,#ff00a5,#ff00a2,#ff009e)"></div><div style="position:absolute;left:0;top:318px;width:496px;height:3px;background:linear-gradient(90deg,#0049ff,#0046ff,#0044ff,#0041ff,#003fff,#003cff,#093aff,#1637ff,#2134ff,#2c31ff,#362eff,#402cff,#4a29ff,#5426ff,#5d23ff,#661fff,#6f1cff,#7919ff,#8215ff,#8a12ff,#930eff,#9c0aff,#a506ff,#ae00ff,#b600ff,#bf00ff,#c800ff,#d000ff,#d900ff,#e100ff,#ea00ff,#f300ff,#fb00ff,#ff00fa,#ff00f2,#ff00eb,#ff00e4,#ff00dd,#ff00d7,#ff00d1,#ff00cb,#ff00c6,#ff00c1,#ff00bc,#ff00b8,#ff00b3,#ff00af,#ff00ab,#ff00a7,#ff00a3,#ff00a0)"></div><div style="position:absolute;left:0;top:321px;width:496px;height:3px;background:linear-gradient(90deg,#0048ff,#0045ff,#0043ff,#0040ff,#003dff,#003bff,#0838ff,#1536ff,#2033ff,#2b30ff,#352dff,#3f2aff,#4927ff,#5224ff,#5c21ff,#651eff,#6e1bff,#7718ff,#8014ff,#8911ff,#920dff,#9a09ff,#a304ff,#ac00ff,#b400ff,#bd00ff,#c600ff,#ce00ff,#d700ff,#df00ff,#e800ff,#f000ff,#f900ff,#ff00fd,#ff00f5,#ff00ed,#ff00e6,#ff00df,#ff00d9,#ff00d3,#ff00cd,#ff00c8,#ff00c3,#ff00be,#ff00b9,#ff00b5,#ff00b1,#ff00ad,#ff00a9,#ff00a5,#ff00a2)"></div><div style="position:absolute;left:0;top:324px;width:496px;height:3px;background:linear-gradient(90deg,#0046ff,#0044ff,#0041ff,#003fff,#003cff,#003aff,#0737ff,#1434ff,#2032ff,#2a2fff,#342cff,#3e29ff,#4826ff,#5123ff,#5b20ff,#641dff,#6d1aff,#7616ff,#7f13ff,#870fff,#900bff,#9907ff,#a103ff,#aa00ff,#b200ff,#bb00ff,#c300ff,#cc00ff,#d400ff,#dd00ff,#e500ff,#ee00ff,#f600ff,#fe00ff,#ff00f7,#ff00f0,#ff00e8,#ff00e2,#ff00db,#ff00d5,#ff00cf,#ff00ca,#ff00c5,#ff00c0,#ff00bb,#ff00b7,#ff00b3,#ff00ae,#ff00ab,#ff00a7,#ff00a3)"></div><div style="position:absolute;left:0;top:327px;width:496px;height:3px;background:linear-gradient(90deg,#0045ff,#0042ff,#0040ff,#003dff,#003bff,#0038ff,#0736ff,#1333ff,#1f30ff,#292eff,#342bff,#3d28ff,#4725ff,#5022ff,#591fff,#631cff,#6b19ff,#7415ff,#7d12ff,#860eff,#8e0aff,#9706ff,#a001ff,#a800ff,#b100ff,#b900ff,#c100ff,#ca00ff,#d200ff,#db00ff,#e300ff,#eb00ff,#f400ff,#fc00ff,#ff00fa,#ff00f2,#ff00eb,#ff00e4,#ff00dd,#ff00d7,#ff00d2,#ff00cc,#ff00c7,#ff00c2,#ff00bd,#ff00b9,#ff00b4,#ff00b0,#ff00ac,#ff00a8,#ff00a5)"></div><div style="position:absolute;left:0;top:330px;width:496px;height:3px;background:linear-gradient(90deg,#0044ff,#0041ff,#003fff,#003cff,#003aff,#0037ff,#0634ff,#1332ff,#1e2fff,#292cff,#332aff,#3c27ff,#4624ff,#4f21ff,#581eff,#611bff,#6a17ff,#7314ff,#7c10ff,#840dff,#8d09ff,#9505ff,#9e00ff,#a600ff,#af00ff,#b700ff,#bf00ff,#c800ff,#d000ff,#d800ff,#e100ff,#e900ff,#f100ff,#f900ff,#ff00fc,#ff00f4,#ff00ed,#ff00e6,#ff00e0,#ff00d9,#ff00d4,#ff00ce,#ff00c9,#ff00c4,#ff00bf,#ff00ba,#ff00b6,#ff00b2,#ff00ae,#ff00aa,#ff00a6)"></div><div style="position:absolute;left:0;top:333px;width:496px;height:3px;background:linear-gradient(90deg,#0042ff,#0040ff,#003dff,#003bff,#0038ff,#0036ff,#0533ff,#1231ff,#1d2eff,#282bff,#3228ff,#3b25ff,#4523ff,#4e20ff,#571dff,#6019ff,#6916ff,#7213ff,#7a0fff,#830cff,#8b08ff,#9403ff,#9c00ff,#a500ff,#ad00ff,#b500ff,#be00ff,#c600ff,#ce00ff,#d600ff,#de00ff,#e700ff,#ef00ff,#f700ff,#ff00ff,#ff00f7,#ff00ef,#ff00e8,#ff00e2,#ff00dc,#ff00d6,#ff00d0,#ff00cb,#ff00c6,#ff00c1,#ff00bc,#ff00b8,#ff00b4,#ff00b0,#ff00ac,#ff00a8)"></div><div style="position:absolute;left:0;top:336px;width:496px;height:3px;background:linear-gradient(90deg,#0041ff,#003fff,#003cff,#003aff,#0037ff,#0035ff,#0432ff,#112fff,#1d2dff,#272aff,#3127ff,#3b24ff,#4421ff,#4d1eff,#561bff,#5f18ff,#6815ff,#7012ff,#790eff,#810aff,#8a06ff,#9201ff,#9b00ff,#a300ff,#ab00ff,#b300ff,#bc00ff,#c400ff,#cc00ff,#d400ff,#dc00ff,#e400ff,#ed00ff,#f500ff,#fd00ff,#ff00f9,#ff00f2,#ff00eb,#ff00e4,#ff00de,#ff00d8,#ff00d2,#ff00cd,#ff00c8,#ff00c3,#ff00be,#ff00ba,#ff00b5,#ff00b1,#ff00ad,#ff00aa)"></div><div style="position:absolute;left:0;top:339px;width:496px;height:3px;background:linear-gradient(90deg,#0040ff,#003dff,#003bff,#0039ff,#0036ff,#0033ff,#0331ff,#112eff,#1c2cff,#2629ff,#3026ff,#3a23ff,#4320ff,#4c1dff,#551aff,#5e17ff,#6614ff,#6f10ff,#780dff,#8009ff,#8805ff,#9100ff,#9900ff,#a100ff,#a900ff,#b200ff,#ba00ff,#c200ff,#ca00ff,#d200ff,#da00ff,#e200ff,#ea00ff,#f200ff,#fa00ff,#ff00fc,#ff00f4,#ff00ed,#ff00e6,#ff00e0,#ff00da,#ff00d4,#ff00cf,#ff00ca,#ff00c5,#ff00c0,#ff00bb,#ff00b7,#ff00b3,#ff00af,#ff00ab)"></div><div style="position:absolute;left:0;top:342px;width:496px;height:3px;background:linear-gradient(90deg,#003fff,#003cff,#003aff,#0037ff,#0035ff,#0032ff,#0330ff,#102dff,#1b2aff,#2528ff,#2f25ff,#3922ff,#421fff,#4b1cff,#5419ff,#5d16ff,#6513ff,#6e0fff,#760cff,#7f08ff,#8704ff,#8f00ff,#9700ff,#a000ff,#a800ff,#b000ff,#b800ff,#c000ff,#c800ff,#d000ff,#d800ff,#e000ff,#e800ff,#f000ff,#f800ff,#ff00fe,#ff00f6,#ff00ef,#ff00e8,#ff00e2,#ff00dc,#ff00d6,#ff00d1,#ff00cb,#ff00c6,#ff00c2,#ff00bd,#ff00b9,#ff00b5,#ff00b1,#ff00ad)"></div><div style="position:absolute;left:0;top:345px;width:496px;height:3px;background:linear-gradient(90deg,#003dff,#003bff,#0039ff,#0036ff,#0034ff,#0031ff,#022fff,#0f2cff,#1a29ff,#2527ff,#2e24ff,#3821ff,#411eff,#4a1bff,#5318ff,#5c15ff,#6412ff,#6d0eff,#750aff,#7d07ff,#8602ff,#8e00ff,#9600ff,#9e00ff,#a600ff,#ae00ff,#b600ff,#be00ff,#c600ff,#ce00ff,#d600ff,#de00ff,#e600ff,#ee00ff,#f600ff,#fd00ff,#ff00f9,#ff00f1,#ff00eb,#ff00e4,#ff00de,#ff00d8,#ff00d3,#ff00cd,#ff00c8,#ff00c4,#ff00bf,#ff00bb,#ff00b6,#ff00b2,#ff00af)"></div><div style="position:absolute;left:0;top:348px;width:496px;height:3px;background:linear-gradient(90deg,#003cff,#003aff,#0037ff,#0035ff,#0032ff,#0030ff,#012dff,#0f2bff,#1a28ff,#2425ff,#2e23ff,#3720ff,#401dff,#491aff,#5217ff,#5a14ff,#6310ff,#6b0dff,#7409ff,#7c05ff,#8400ff,#8c00ff,#9400ff,#9c00ff,#a400ff,#ac00ff,#b400ff,#bc00ff,#c400ff,#cc00ff,#d400ff,#dc00ff,#e400ff,#eb00ff,#f300ff,#fb00ff,#ff00fb,#ff00f4,#ff00ed,#ff00e6,#ff00e0,#ff00da,#ff00d5,#ff00cf,#ff00ca,#ff00c5,#ff00c1,#ff00bc,#ff00b8,#ff00b4,#ff00b0)"></div><div style="position:absolute;left:0;top:351px;width:496px;height:3px;background:linear-gradient(90deg,#003bff,#0039ff,#0036ff,#0034ff,#0031ff,#002fff,#002cff,#0e2aff,#1927ff,#2324ff,#2d22ff,#361fff,#3f1cff,#4819ff,#5116ff,#5913ff,#620fff,#6a0cff,#7208ff,#7b04ff,#8300ff,#8b00ff,#9300ff,#9b00ff,#a300ff,#ab00ff,#b300ff,#ba00ff,#c200ff,#ca00ff,#d200ff,#da00ff,#e100ff,#e900ff,#f100ff,#f900ff,#ff00fd,#ff00f6,#ff00ef,#ff00e8,#ff00e2,#ff00dc,#ff00d7,#ff00d1,#ff00cc,#ff00c7,#ff00c3,#ff00be,#ff00ba,#ff00b6,#ff00b2)"></div><div style="position:absolute;left:0;top:354px;width:496px;height:3px;background:linear-gradient(90deg,#003aff,#0038ff,#0035ff,#0033ff,#0030ff,#002eff,#002bff,#0d29ff,#1826ff,#2223ff,#2c20ff,#351eff,#3e1bff,#4718ff,#5015ff,#5811ff,#610eff,#690bff,#7107ff,#7903ff,#8100ff,#8900ff,#9100ff,#9900ff,#a100ff,#a900ff,#b100ff,#b900ff,#c000ff,#c800ff,#d000ff,#d800ff,#df00ff,#e700ff,#ef00ff,#f600ff,#fe00ff,#ff00f8,#ff00f1,#ff00eb,#ff00e4,#ff00de,#ff00d8,#ff00d3,#ff00ce,#ff00c9,#ff00c4,#ff00c0,#ff00bc,#ff00b7,#ff00b3)"></div><div style="position:absolute;left:0;top:357px;width:496px;height:3px;background:linear-gradient(90deg,#0039ff,#0036ff,#0034ff,#0032ff,#002fff,#002dff,#002aff,#0c27ff,#1825ff,#2222ff,#2b1fff,#351dff,#3d1aff,#4617ff,#4f14ff,#5710ff,#600dff,#6809ff,#7006ff,#7801ff,#8000ff,#8800ff,#9000ff,#9800ff,#a000ff,#a700ff,#af00ff,#b700ff,#bf00ff,#c600ff,#ce00ff,#d600ff,#dd00ff,#e500ff,#ed00ff,#f400ff,#fc00ff,#ff00fb,#ff00f3,#ff00ed,#ff00e6,#ff00e0,#ff00da,#ff00d5,#ff00d0,#ff00cb,#ff00c6,#ff00c2,#ff00bd,#ff00b9,#ff00b5)"></div><div style="position:absolute;left:0;top:360px;width:496px;height:3px;background:linear-gradient(90deg,#0038ff,#0035ff,#0033ff,#0030ff,#002eff,#002cff,#0029ff,#0c26ff,#1724ff,#2121ff,#2b1eff,#341bff,#3d19ff,#4516ff,#4e12ff,#560fff,#5f0cff,#6708ff,#6f04ff,#7700ff,#7f00ff,#8700ff,#8e00ff,#9600ff,#9e00ff,#a600ff,#ae00ff,#b500ff,#bd00ff,#c400ff,#cc00ff,#d400ff,#db00ff,#e300ff,#ea00ff,#f200ff,#fa00ff,#ff00fd,#ff00f6,#ff00ef,#ff00e8,#ff00e2,#ff00dc,#ff00d7,#ff00d2,#ff00cd,#ff00c8,#ff00c3,#ff00bf,#ff00bb,#ff00b7)"></div><div style="position:absolute;left:0;top:363px;width:496px;height:3px;background:linear-gradient(90deg,#0037ff,#0034ff,#0032ff,#002fff,#002dff,#002aff,#0028ff,#0b25ff,#1623ff,#2020ff,#2a1dff,#331aff,#3c17ff,#4414ff,#4d11ff,#550eff,#5d0bff,#6607ff,#6e03ff,#7600ff,#7d00ff,#8500ff,#8d00ff,#9500ff,#9d00ff,#a400ff,#ac00ff,#b300ff,#bb00ff,#c300ff,#ca00ff,#d200ff,#d900ff,#e100ff,#e800ff,#f000ff,#f700ff,#ff00ff,#ff00f8,#ff00f1,#ff00ea,#ff00e4,#ff00de,#ff00d9,#ff00d4,#ff00ce,#ff00ca,#ff00c5,#ff00c1,#ff00bc,#ff00b8)"></div><div style="position:absolute;left:0;top:366px;width:496px;height:3px;background:linear-gradient(90deg,#0035ff,#0033ff,#0031ff,#002eff,#002cff,#0029ff,#0027ff,#0b24ff,#1622ff,#201fff,#291cff,#3219ff,#3b16ff,#4413ff,#4c10ff,#540dff,#5c0aff,#6406ff,#6c01ff,#7400ff,#7c00ff,#8400ff,#8c00ff,#9300ff,#9b00ff,#a300ff,#aa00ff,#b200ff,#b900ff,#c100ff,#c800ff,#d000ff,#d700ff,#df00ff,#e600ff,#ee00ff,#f500ff,#fd00ff,#ff00fa,#ff00f3,#ff00ed,#ff00e6,#ff00e0,#ff00db,#ff00d5,#ff00d0,#ff00cb,#ff00c7,#ff00c2,#ff00be,#ff00ba)"></div><div style="position:absolute;left:0;top:369px;width:496px;height:3px;background:linear-gradient(90deg,#0034ff,#0032ff,#0030ff,#002dff,#002bff,#0028ff,#0026ff,#0a23ff,#1521ff,#1f1eff,#281bff,#3118ff,#3a15ff,#4312ff,#4b0fff,#530cff,#5b08ff,#6305ff,#6b00ff,#7300ff,#7b00ff,#8300ff,#8a00ff,#9200ff,#9a00ff,#a100ff,#a900ff,#b000ff,#b800ff,#bf00ff,#c700ff,#ce00ff,#d500ff,#dd00ff,#e400ff,#ec00ff,#f300ff,#fa00ff,#ff00fc,#ff00f5,#ff00ef,#ff00e8,#ff00e2,#ff00dd,#ff00d7,#ff00d2,#ff00cd,#ff00c9,#ff00c4,#ff00c0,#ff00bc)"></div><div style="position:absolute;left:0;top:372px;width:496px;height:3px;background:linear-gradient(90deg,#0033ff,#0031ff,#002fff,#002cff,#002aff,#0027ff,#0025ff,#0922ff,#1420ff,#1e1dff,#281aff,#3117ff,#3914ff,#4211ff,#4a0eff,#520bff,#5a07ff,#6203ff,#6a00ff,#7200ff,#7a00ff,#8100ff,#8900ff,#9100ff,#9800ff,#a000ff,#a700ff,#af00ff,#b600ff,#bd00ff,#c500ff,#cc00ff,#d400ff,#db00ff,#e200ff,#ea00ff,#f100ff,#f800ff,#ff00ff,#ff00f7,#ff00f1,#ff00ea,#ff00e4,#ff00df,#ff00d9,#ff00d4,#ff00cf,#ff00ca,#ff00c6,#ff00c1,#ff00bd)"></div><div style="position:absolute;left:0;top:375px;width:496px;height:3px;background:linear-gradient(90deg,#0032ff,#0030ff,#002eff,#002bff,#0029ff,#0026ff,#0024ff,#0921ff,#141fff,#1e1cff,#2719ff,#3016ff,#3813ff,#4110ff,#490dff,#510aff,#5906ff,#6102ff,#6900ff,#7100ff,#7800ff,#8000ff,#8800ff,#8f00ff,#9700ff,#9e00ff,#a600ff,#ad00ff,#b400ff,#bc00ff,#c300ff,#ca00ff,#d200ff,#d900ff,#e000ff,#e700ff,#ef00ff,#f600ff,#fd00ff,#ff00fa,#ff00f3,#ff00ec,#ff00e6,#ff00e1,#ff00db,#ff00d6,#ff00d1,#ff00cc,#ff00c7,#ff00c3,#ff00bf)"></div><div style="position:absolute;left:0;top:378px;width:496px;height:3px;background:linear-gradient(90deg,#0031ff,#002fff,#002dff,#002aff,#0028ff,#0025ff,#0023ff,#0820ff,#131dff,#1d1bff,#2618ff,#2f15ff,#3812ff,#400fff,#480cff,#5009ff,#5805ff,#6000ff,#6800ff,#7000ff,#7700ff,#7f00ff,#8600ff,#8e00ff,#9500ff,#9d00ff,#a400ff,#ab00ff,#b300ff,#ba00ff,#c100ff,#c900ff,#d000ff,#d700ff,#de00ff,#e500ff,#ed00ff,#f400ff,#fb00ff,#ff00fc,#ff00f5,#ff00ee,#ff00e8,#ff00e2,#ff00dd,#ff00d8,#ff00d3,#ff00ce,#ff00c9,#ff00c5,#ff00c1)"></div><div style="position:absolute;left:0;top:381px;width:496px;height:3px;background:linear-gradient(90deg,#0030ff,#002eff,#002bff,#0029ff,#0027ff,#0024ff,#0022ff,#071fff,#121cff,#1c1aff,#2517ff,#2e14ff,#3711ff,#3f0eff,#470bff,#4f08ff,#5704ff,#5f00ff,#6700ff,#6f00ff,#7600ff,#7e00ff,#8500ff,#8c00ff,#9400ff,#9b00ff,#a300ff,#aa00ff,#b100ff,#b800ff,#c000ff,#c700ff,#ce00ff,#d500ff,#dc00ff,#e300ff,#eb00ff,#f200ff,#f900ff,#ff00fe,#ff00f7,#ff00f0,#ff00ea,#ff00e4,#ff00df,#ff00d9,#ff00d4,#ff00d0,#ff00cb,#ff00c6,#ff00c2)"></div><div style="position:absolute;left:0;top:384px;width:496px;height:3px;background:linear-gradient(90deg,#002fff,#002dff,#002aff,#0028ff,#0026ff,#0023ff,#0021ff,#071eff,#121bff,#1c19ff,#2516ff,#2e13ff,#3610ff,#3e0dff,#470aff,#4f06ff,#5602ff,#5e00ff,#6600ff,#6d00ff,#7500ff,#7c00ff,#8400ff,#8b00ff,#9300ff,#9a00ff,#a100ff,#a800ff,#b000ff,#b700ff,#be00ff,#c500ff,#cc00ff,#d300ff,#da00ff,#e200ff,#e900ff,#f000ff,#f700ff,#fe00ff,#ff00f9,#ff00f3,#ff00ec,#ff00e6,#ff00e1,#ff00db,#ff00d6,#ff00d1,#ff00cd,#ff00c8,#ff00c4)"></div><div style="position:absolute;left:0;top:387px;width:496px;height:3px;background:linear-gradient(90deg,#002eff,#002cff,#0029ff,#0027ff,#0025ff,#0022ff,#0020ff,#061dff,#111bff,#1b18ff,#2415ff,#2d12ff,#350fff,#3e0cff,#4609ff,#4e05ff,#5501ff,#5d00ff,#6500ff,#6c00ff,#7400ff,#7b00ff,#8300ff,#8a00ff,#9100ff,#9800ff,#a000ff,#a700ff,#ae00ff,#b500ff,#bc00ff,#c300ff,#ca00ff,#d200ff,#d900ff,#e000ff,#e700ff,#ee00ff,#f500ff,#fc00ff,#ff00fb,#ff00f5,#ff00ee,#ff00e8,#ff00e3,#ff00dd,#ff00d8,#ff00d3,#ff00ce,#ff00ca,#ff00c5)"></div><div style="position:absolute;left:0;top:390px;width:496px;height:3px;background:linear-gradient(90deg,#002dff,#002bff,#0028ff,#0026ff,#0024ff,#0021ff,#001fff,#051cff,#101aff,#1a17ff,#2314ff,#2c11ff,#350eff,#3d0bff,#4508ff,#4d04ff,#5400ff,#5c00ff,#6400ff,#6b00ff,#7300ff,#7a00ff,#8100ff,#8900ff,#9000ff,#9700ff,#9e00ff,#a500ff,#ac00ff,#b400ff,#bb00ff,#c200ff,#c900ff,#d000ff,#d700ff,#de00ff,#e500ff,#ec00ff,#f300ff,#fa00ff,#ff00fd,#ff00f7,#ff00f0,#ff00ea,#ff00e4,#ff00df,#ff00da,#ff00d5,#ff00d0,#ff00cb,#ff00c7)"></div><div style="position:absolute;left:0;top:393px;width:496px;height:3px;background:linear-gradient(90deg,#002cff,#002aff,#0028ff,#0025ff,#0023ff,#0020ff,#001eff,#051bff,#1019ff,#1a16ff,#2313ff,#2b10ff,#340dff,#3c0aff,#4407ff,#4c03ff,#5400ff,#5b00ff,#6300ff,#6a00ff,#7200ff,#7900ff,#8000ff,#8700ff,#8f00ff,#9600ff,#9d00ff,#a400ff,#ab00ff,#b200ff,#b900ff,#c000ff,#c700ff,#ce00ff,#d500ff,#dc00ff,#e300ff,#ea00ff,#f100ff,#f800ff,#ff00ff,#ff00f9,#ff00f2,#ff00ec,#ff00e6,#ff00e1,#ff00dc,#ff00d7,#ff00d2,#ff00cd,#ff00c9)"></div><div style="position:absolute;left:0;top:396px;width:496px;height:3px;background:linear-gradient(90deg,#002bff,#0029ff,#0027ff,#0024ff,#0022ff,#001fff,#001dff,#041aff,#0f18ff,#1915ff,#2212ff,#2b0fff,#330cff,#3b09ff,#4306ff,#4b02ff,#5300ff,#5a00ff,#6200ff,#6900ff,#7000ff,#7800ff,#7f00ff,#8600ff,#8d00ff,#9400ff,#9b00ff,#a200ff,#a900ff,#b000ff,#b700ff,#be00ff,#c500ff,#cc00ff,#d300ff,#da00ff,#e100ff,#e800ff,#ef00ff,#f600ff,#fc00ff,#ff00fb,#ff00f4,#ff00ee,#ff00e8,#ff00e3,#ff00dd,#ff00d8,#ff00d3,#ff00cf,#ff00ca)"></div><div style="position:absolute;left:0;top:399px;width:496px;height:3px;background:linear-gradient(90deg,#002aff,#0028ff,#0026ff,#0023ff,#0021ff,#001eff,#001cff,#0319ff,#0f17ff,#1814ff,#2111ff,#2a0eff,#320bff,#3a08ff,#4204ff,#4a00ff,#5200ff,#5900ff,#6100ff,#6800ff,#6f00ff,#7700ff,#7e00ff,#8500ff,#8c00ff,#9300ff,#9a00ff,#a100ff,#a800ff,#af00ff,#b600ff,#bd00ff,#c400ff,#cb00ff,#d100ff,#d800ff,#df00ff,#e600ff,#ed00ff,#f400ff,#fa00ff,#ff00fd,#ff00f6,#ff00f0,#ff00ea,#ff00e5,#ff00df,#ff00da,#ff00d5,#ff00d1,#ff00cc)"></div><div style="position:absolute;left:0;top:402px;width:496px;height:3px;background:linear-gradient(90deg,#0029ff,#0027ff,#0025ff,#0022ff,#0020ff,#001dff,#001bff,#0218ff,#0e16ff,#1813ff,#2110ff,#290dff,#320aff,#3a07ff,#4203ff,#4900ff,#5100ff,#5800ff,#6000ff,#6700ff,#6e00ff,#7500ff,#7d00ff,#8400ff,#8b00ff,#9200ff,#9900ff,#a000ff,#a700ff,#ad00ff,#b400ff,#bb00ff,#c200ff,#c900ff,#d000ff,#d600ff,#dd00ff,#e400ff,#eb00ff,#f200ff,#f800ff,#ff00ff,#ff00f8,#ff00f2,#ff00ec,#ff00e6,#ff00e1,#ff00dc,#ff00d7,#ff00d2,#ff00ce)"></div><div style="position:absolute;left:0;top:405px;width:496px;height:3px;background:linear-gradient(90deg,#0028ff,#0026ff,#0024ff,#0021ff,#001fff,#001cff,#001aff,#0217ff,#0d15ff,#1712ff,#200fff,#290cff,#3109ff,#3906ff,#4102ff,#4800ff,#5000ff,#5700ff,#5f00ff,#6600ff,#6d00ff,#7400ff,#7b00ff,#8200ff,#8900ff,#9000ff,#9700ff,#9e00ff,#a500ff,#ac00ff,#b300ff,#ba00ff,#c000ff,#c700ff,#ce00ff,#d500ff,#db00ff,#e200ff,#e900ff,#f000ff,#f600ff,#fd00ff,#ff00fa,#ff00f4,#ff00ee,#ff00e8,#ff00e3,#ff00de,#ff00d9,#ff00d4,#ff00cf)"></div><div style="position:absolute;left:0;top:408px;width:496px;height:3px;background:linear-gradient(90deg,#0027ff,#0025ff,#0023ff,#0020ff,#001eff,#001cff,#0019ff,#0116ff,#0d14ff,#1711ff,#200eff,#280bff,#3008ff,#3805ff,#4001ff,#4800ff,#4f00ff,#5600ff,#5e00ff,#6500ff,#6c00ff,#7300ff,#7a00ff,#8100ff,#8800ff,#8f00ff,#9600ff,#9d00ff,#a400ff,#ab00ff,#b100ff,#b800ff,#bf00ff,#c600ff,#cc00ff,#d300ff,#da00ff,#e000ff,#e700ff,#ee00ff,#f400ff,#fb00ff,#ff00fc,#ff00f6,#ff00f0,#ff00ea,#ff00e5,#ff00df,#ff00da,#ff00d6,#ff00d1)"></div><div style="position:absolute;left:0;top:411px;width:496px;height:3px;background:linear-gradient(90deg,#0026ff,#0024ff,#0022ff,#001fff,#001dff,#001bff,#0018ff,#0016ff,#0c13ff,#1610ff,#1f0dff,#270aff,#3007ff,#3704ff,#3f00ff,#4700ff,#4e00ff,#5600ff,#5d00ff,#6400ff,#6b00ff,#7200ff,#7900ff,#8000ff,#8700ff,#8e00ff,#9500ff,#9c00ff,#a200ff,#a900ff,#b000ff,#b700ff,#bd00ff,#c400ff,#cb00ff,#d100ff,#d800ff,#df00ff,#e500ff,#ec00ff,#f200ff,#f900ff,#ff00fe,#ff00f8,#ff00f2,#ff00ec,#ff00e6,#ff00e1,#ff00dc,#ff00d7,#ff00d3)"></div><div style="position:absolute;left:0;top:414px;width:496px;height:3px;background:linear-gradient(90deg,#0025ff,#0023ff,#0021ff,#001fff,#001cff,#001aff,#0017ff,#0015ff,#0c12ff,#150fff,#1e0cff,#2709ff,#2f06ff,#3702ff,#3e00ff,#4600ff,#4d00ff,#5500ff,#5c00ff,#6300ff,#6a00ff,#7100ff,#7800ff,#7f00ff,#8600ff,#8d00ff,#9300ff,#9a00ff,#a100ff,#a800ff,#ae00ff,#b500ff,#bc00ff,#c200ff,#c900ff,#d000ff,#d600ff,#dd00ff,#e300ff,#ea00ff,#f100ff,#f700ff,#fe00ff,#ff00fa,#ff00f4,#ff00ee,#ff00e8,#ff00e3,#ff00de,#ff00d9,#ff00d4)"></div><div style="position:absolute;left:0;top:417px;width:496px;height:3px;background:linear-gradient(90deg,#0025ff,#0022ff,#0020ff,#001eff,#001bff,#0019ff,#0016ff,#0014ff,#0b11ff,#150eff,#1e0bff,#2608ff,#2e05ff,#3601ff,#3e00ff,#4500ff,#4d00ff,#5400ff,#5b00ff,#6200ff,#6900ff,#7000ff,#7700ff,#7e00ff,#8500ff,#8b00ff,#9200ff,#9900ff,#a000ff,#a600ff,#ad00ff,#b400ff,#ba00ff,#c100ff,#c700ff,#ce00ff,#d400ff,#db00ff,#e200ff,#e800ff,#ef00ff,#f500ff,#fc00ff,#ff00fc,#ff00f6,#ff00f0,#ff00ea,#ff00e5,#ff00e0,#ff00db,#ff00d6)"></div><div style="position:absolute;left:0;top:420px;width:496px;height:3px;background:linear-gradient(90deg,#0024ff,#0021ff,#001fff,#001dff,#001aff,#0018ff,#0015ff,#0013ff,#0b10ff,#140dff,#1d0aff,#2507ff,#2e04ff,#3500ff,#3d00ff,#4400ff,#4c00ff,#5300ff,#5a00ff,#6100ff,#6800ff,#6f00ff,#7600ff,#7d00ff,#8400ff,#8a00ff,#9100ff,#9800ff,#9e00ff,#a500ff,#ac00ff,#b200ff,#b900ff,#bf00ff,#c600ff,#cc00ff,#d300ff,#d900ff,#e000ff,#e600ff,#ed00ff,#f300ff,#fa00ff,#ff00fe,#ff00f8,#ff00f2,#ff00ec,#ff00e6,#ff00e1,#ff00dc,#ff00d8)"></div><div style="position:absolute;left:0;top:423px;width:496px;height:3px;background:linear-gradient(90deg,#0023ff,#0021ff,#001eff,#001cff,#0019ff,#0017ff,#0015ff,#0012ff,#0a0fff,#140cff,#1d09ff,#2506ff,#2d03ff,#3500ff,#3c00ff,#4400ff,#4b00ff,#5200ff,#5900ff,#6000ff,#6700ff,#6e00ff,#7500ff,#7c00ff,#8200ff,#8900ff,#9000ff,#9600ff,#9d00ff,#a400ff,#aa00ff,#b100ff,#b700ff,#be00ff,#c400ff,#cb00ff,#d100ff,#d800ff,#de00ff,#e500ff,#eb00ff,#f100ff,#f800ff,#fe00ff,#ff00f9,#ff00f3,#ff00ee,#ff00e8,#ff00e3,#ff00de,#ff00d9)"></div><div style="position:absolute;left:0;top:426px;width:496px;height:3px;background:linear-gradient(90deg,#0022ff,#0020ff,#001dff,#001bff,#0019ff,#0016ff,#0014ff,#0011ff,#090eff,#130bff,#1c09ff,#2405ff,#2c02ff,#3400ff,#3b00ff,#4300ff,#4a00ff,#5100ff,#5800ff,#5f00ff,#6600ff,#6d00ff,#7400ff,#7b00ff,#8100ff,#8800ff,#8f00ff,#9500ff,#9c00ff,#a200ff,#a900ff,#af00ff,#b600ff,#bc00ff,#c300ff,#c900ff,#d000ff,#d600ff,#dc00ff,#e300ff,#e900ff,#f000ff,#f600ff,#fc00ff,#ff00fb,#ff00f5,#ff00f0,#ff00ea,#ff00e5,#ff00e0,#ff00db)"></div><div style="position:absolute;left:0;top:429px;width:496px;height:3px;background:linear-gradient(90deg,#0021ff,#001fff,#001cff,#001aff,#0018ff,#0015ff,#0013ff,#0010ff,#090dff,#130bff,#1b08ff,#2404ff,#2c00ff,#3300ff,#3b00ff,#4200ff,#4900ff,#5000ff,#5700ff,#5e00ff,#6500ff,#6c00ff,#7300ff,#7900ff,#8000ff,#8700ff,#8d00ff,#9400ff,#9a00ff,#a100ff,#a700ff,#ae00ff,#b400ff,#bb00ff,#c100ff,#c800ff,#ce00ff,#d400ff,#db00ff,#e100ff,#e700ff,#ee00ff,#f400ff,#fa00ff,#ff00fd,#ff00f7,#ff00f1,#ff00ec,#ff00e6,#ff00e1,#ff00dd)"></div><div style="position:absolute;left:0;top:432px;width:496px;height:3px;background:linear-gradient(90deg,#0020ff,#001eff,#001cff,#0019ff,#0017ff,#0014ff,#0012ff,#000fff,#080cff,#120aff,#1b07ff,#2303ff,#2b00ff,#3300ff,#3a00ff,#4100ff,#4900ff,#5000ff,#5700ff,#5d00ff,#6400ff,#6b00ff,#7200ff,#7800ff,#7f00ff,#8600ff,#8c00ff,#9300ff,#9900ff,#a000ff,#a600ff,#ac00ff,#b300ff,#b900ff,#c000ff,#c600ff,#cc00ff,#d300ff,#d900ff,#df00ff,#e600ff,#ec00ff,#f200ff,#f900ff,#ff00ff,#ff00f9,#ff00f3,#ff00ee,#ff00e8,#ff00e3,#ff00de)"></div><div style="position:absolute;left:0;top:435px;width:496px;height:3px;background:linear-gradient(90deg,#001fff,#001dff,#001bff,#0018ff,#0016ff,#0014ff,#0011ff,#000eff,#080cff,#1109ff,#1a06ff,#2202ff,#2a00ff,#3200ff,#3900ff,#4100ff,#4800ff,#4f00ff,#5600ff,#5d00ff,#6300ff,#6a00ff,#7100ff,#7700ff,#7e00ff,#8500ff,#8b00ff,#9100ff,#9800ff,#9e00ff,#a500ff,#ab00ff,#b100ff,#b800ff,#be00ff,#c400ff,#cb00ff,#d100ff,#d700ff,#de00ff,#e400ff,#ea00ff,#f000ff,#f700ff,#fd00ff,#ff00fb,#ff00f5,#ff00ef,#ff00ea,#ff00e5,#ff00e0)"></div><div style="position:absolute;left:0;top:438px;width:496px;height:3px;background:linear-gradient(90deg,#001eff,#001cff,#001aff,#0018ff,#0015ff,#0013ff,#0010ff,#000dff,#070bff,#1108ff,#1a05ff,#2201ff,#2a00ff,#3100ff,#3900ff,#4000ff,#4700ff,#4e00ff,#5500ff,#5c00ff,#6200ff,#6900ff,#7000ff,#7600ff,#7d00ff,#8300ff,#8a00ff,#9000ff,#9700ff,#9d00ff,#a300ff,#aa00ff,#b000ff,#b600ff,#bd00ff,#c300ff,#c900ff,#cf00ff,#d600ff,#dc00ff,#e200ff,#e800ff,#ef00ff,#f500ff,#fb00ff,#ff00fd,#ff00f7,#ff00f1,#ff00ec,#ff00e6,#ff00e2)"></div><div style="position:absolute;left:0;top:441px;width:496px;height:3px;background:linear-gradient(90deg,#001eff,#001bff,#0019ff,#0017ff,#0014ff,#0012ff,#000fff,#000dff,#070aff,#1007ff,#1903ff,#2100ff,#2900ff,#3100ff,#3800ff,#3f00ff,#4600ff,#4d00ff,#5400ff,#5b00ff,#6200ff,#6800ff,#6f00ff,#7500ff,#7c00ff,#8200ff,#8900ff,#8f00ff,#9500ff,#9c00ff,#a200ff,#a800ff,#af00ff,#b500ff,#bb00ff,#c100ff,#c800ff,#ce00ff,#d400ff,#da00ff,#e000ff,#e700ff,#ed00ff,#f300ff,#f900ff,#ff00ff,#ff00f9,#ff00f3,#ff00ed,#ff00e8,#ff00e3)"></div><div style="position:absolute;left:0;top:444px;width:496px;height:3px;background:linear-gradient(90deg,#001dff,#001aff,#0018ff,#0016ff,#0013ff,#0011ff,#000eff,#000cff,#0609ff,#1006ff,#1902ff,#2100ff,#2800ff,#3000ff,#3700ff,#3e00ff,#4500ff,#4c00ff,#5300ff,#5a00ff,#6100ff,#6700ff,#6e00ff,#7400ff,#7b00ff,#8100ff,#8800ff,#8e00ff,#9400ff,#9b00ff,#a100ff,#a700ff,#ad00ff,#b400ff,#ba00ff,#c000ff,#c600ff,#cc00ff,#d300ff,#d900ff,#df00ff,#e500ff,#eb00ff,#f100ff,#f700ff,#fe00ff,#ff00fa,#ff00f5,#ff00ef,#ff00ea,#ff00e5)"></div><div style="position:absolute;left:0;top:447px;width:496px;height:3px;background:linear-gradient(90deg,#001cff,#001aff,#0017ff,#0015ff,#0013ff,#0010ff,#000dff,#000bff,#0508ff,#0f05ff,#1801ff,#2000ff,#2800ff,#2f00ff,#3700ff,#3e00ff,#4500ff,#4c00ff,#5200ff,#5900ff,#6000ff,#6600ff,#6d00ff,#7300ff,#7a00ff,#8000ff,#8700ff,#8d00ff,#9300ff,#9900ff,#a000ff,#a600ff,#ac00ff,#b200ff,#b800ff,#bf00ff,#c500ff,#cb00ff,#d100ff,#d700ff,#dd00ff,#e300ff,#e900ff,#ef00ff,#f600ff,#fc00ff,#ff00fc,#ff00f6,#ff00f1,#ff00ec,#ff00e7)"></div><div style="position:absolute;left:0;top:450px;width:496px;height:3px;background:linear-gradient(90deg,#001bff,#0019ff,#0017ff,#0014ff,#0012ff,#000fff,#000dff,#000aff,#0507ff,#0f04ff,#1700ff,#2000ff,#2700ff,#2f00ff,#3600ff,#3d00ff,#4400ff,#4b00ff,#5200ff,#5800ff,#5f00ff,#6500ff,#6c00ff,#7200ff,#7900ff,#7f00ff,#8500ff,#8c00ff,#9200ff,#9800ff,#9e00ff,#a500ff,#ab00ff,#b100ff,#b700ff,#bd00ff,#c300ff,#c900ff,#cf00ff,#d500ff,#dc00ff,#e200ff,#e800ff,#ee00ff,#f400ff,#fa00ff,#ff00fe,#ff00f8,#ff00f3,#ff00ed,#ff00e8)"></div><div style="position:absolute;left:0;top:453px;width:496px;height:3px;background:linear-gradient(90deg,#001aff,#0018ff,#0016ff,#0013ff,#0011ff,#000eff,#000cff,#0009ff,#0406ff,#0e03ff,#1700ff,#1f00ff,#2700ff,#2e00ff,#3500ff,#3c00ff,#4300ff,#4a00ff,#5100ff,#5700ff,#5e00ff,#6500ff,#6b00ff,#7100ff,#7800ff,#7e00ff,#8400ff,#8b00ff,#9100ff,#9700ff,#9d00ff,#a300ff,#a900ff,#b000ff,#b600ff,#bc00ff,#c200ff,#c800ff,#ce00ff,#d400ff,#da00ff,#e000ff,#e600ff,#ec00ff,#f200ff,#f800ff,#fe00ff,#ff00fa,#ff00f4,#ff00ef,#ff00ea)"></div><div style="position:absolute;left:0;top:456px;width:496px;height:3px;background:linear-gradient(90deg,#0019ff,#0017ff,#0015ff,#0012ff,#0010ff,#000eff,#000bff,#0008ff,#0405ff,#0e02ff,#1600ff,#1e00ff,#2600ff,#2d00ff,#3500ff,#3c00ff,#4300ff,#4900ff,#5000ff,#5700ff,#5d00ff,#6400ff,#6a00ff,#7000ff,#7700ff,#7d00ff,#8300ff,#8900ff,#9000ff,#9600ff,#9c00ff,#a200ff,#a800ff,#ae00ff,#b400ff,#ba00ff,#c000ff,#c600ff,#cc00ff,#d200ff,#d800ff,#de00ff,#e400ff,#ea00ff,#f000ff,#f600ff,#fc00ff,#ff00fc,#ff00f6,#ff00f1,#ff00ec)"></div><div style="position:absolute;left:0;top:459px;width:496px;height:3px;background:linear-gradient(90deg,#0019ff,#0016ff,#0014ff,#0012ff,#000fff,#000dff,#000aff,#0007ff,#0304ff,#0d00ff,#1600ff,#1e00ff,#2600ff,#2d00ff,#3400ff,#3b00ff,#4200ff,#4900ff,#4f00ff,#5600ff,#5c00ff,#6300ff,#6900ff,#6f00ff,#7600ff,#7c00ff,#8200ff,#8800ff,#8f00ff,#9500ff,#9b00ff,#a100ff,#a700ff,#ad00ff,#b300ff,#b900ff,#bf00ff,#c500ff,#cb00ff,#d100ff,#d700ff,#dd00ff,#e300ff,#e900ff,#ef00ff,#f500ff,#fa00ff,#ff00fe,#ff00f8,#ff00f2,#ff00ed)"></div><div style="position:absolute;left:0;top:462px;width:496px;height:3px;background:linear-gradient(90deg,#0018ff,#0016ff,#0013ff,#0011ff,#000eff,#000cff,#0009ff,#0006ff,#0203ff,#0d00ff,#1500ff,#1d00ff,#2500ff,#2c00ff,#3300ff,#3a00ff,#4100ff,#4800ff,#4f00ff,#5500ff,#5c00ff,#6200ff,#6800ff,#6f00ff,#7500ff,#7b00ff,#8100ff,#8700ff,#8d00ff,#9400ff,#9a00ff,#a000ff,#a600ff,#ac00ff,#b200ff,#b800ff,#be00ff,#c400ff,#c900ff,#cf00ff,#d500ff,#db00ff,#e100ff,#e700ff,#ed00ff,#f300ff,#f900ff,#ff00ff,#ff00fa,#ff00f4,#ff00ef)"></div><div style="position:absolute;left:0;top:465px;width:496px;height:3px;background:linear-gradient(90deg,#0017ff,#0015ff,#0012ff,#0010ff,#000eff,#000bff,#0008ff,#0005ff,#0202ff,#0c00ff,#1500ff,#1d00ff,#2400ff,#2c00ff,#3300ff,#3a00ff,#4100ff,#4700ff,#4e00ff,#5400ff,#5b00ff,#6100ff,#6700ff,#6e00ff,#7400ff,#7a00ff,#8000ff,#8600ff,#8c00ff,#9200ff,#9800ff,#9e00ff,#a400ff,#aa00ff,#b000ff,#b600ff,#bc00ff,#c200ff,#c800ff,#ce00ff,#d400ff,#da00ff,#e000ff,#e500ff,#eb00ff,#f100ff,#f700ff,#fd00ff,#ff00fb,#ff00f6,#ff00f1)"></div><div style="position:absolute;left:0;top:468px;width:496px;height:3px;background:linear-gradient(90deg,#0016ff,#0014ff,#0012ff,#000fff,#000dff,#000aff,#0007ff,#0004ff,#0101ff,#0c00ff,#1400ff,#1c00ff,#2400ff,#2b00ff,#3200ff,#3900ff,#4000ff,#4600ff,#4d00ff,#5300ff,#5a00ff,#6000ff,#6700ff,#6d00ff,#7300ff,#7900ff,#7f00ff,#8500ff,#8b00ff,#9100ff,#9700ff,#9d00ff,#a300ff,#a900ff,#af00ff,#b500ff,#bb00ff,#c100ff,#c700ff,#cc00ff,#d200ff,#d800ff,#de00ff,#e400ff,#ea00ff,#ef00ff,#f500ff,#fb00ff,#ff00fd,#ff00f8,#ff00f2)"></div><div style="position:absolute;left:0;top:471px;width:496px;height:3px;background:linear-gradient(90deg,#0015ff,#0013ff,#0011ff,#000eff,#000cff,#0009ff,#0006ff,#0003ff,#0000ff,#0b00ff,#1400ff,#1c00ff,#2300ff,#2b00ff,#3200ff,#3800ff,#3f00ff,#4600ff,#4c00ff,#5300ff,#5900ff,#5f00ff,#6600ff,#6c00ff,#7200ff,#7800ff,#7e00ff,#8400ff,#8a00ff,#9000ff,#9600ff,#9c00ff,#a200ff,#a800ff,#ae00ff,#b400ff,#b900ff,#bf00ff,#c500ff,#cb00ff,#d100ff,#d700ff,#dc00ff,#e200ff,#e800ff,#ee00ff,#f400ff,#f900ff,#ff00ff,#ff00f9,#ff00f4)"></div>
</div>
<svg style="position:absolute;left:0;top:0" width="2560" height="1552"><rect x="1640" y="274.0" width="905.5" height="696.5" fill="none" stroke="#a0a0a0" stroke-width="2"/><rect x="1630" y="969.5" width="9" height="2" fill="#ddd"/><rect x="1638.5" y="970.5" width="2" height="8" fill="#ddd"/><rect x="1630" y="911.6" width="9" height="2" fill="#ddd"/><rect x="1713.9" y="970.5" width="2" height="8" fill="#ddd"/><rect x="1630" y="853.7" width="9" height="2" fill="#ddd"/><rect x="1789.3" y="970.5" width="2" height="8" fill="#ddd"/><rect x="1630" y="795.9" width="9" height="2" fill="#ddd"/><rect x="1864.6" y="970.5" width="2" height="8" fill="#ddd"/><rect x="1630" y="738.0" width="9" height="2" fill="#ddd"/><rect x="1940.0" y="970.5" width="2" height="8" fill="#ddd"/><rect x="1630" y="680.1" width="9" height="2" fill="#ddd"/><rect x="2015.4" y="970.5" width="2" height="8" fill="#ddd"/><rect x="1630" y="622.2" width="9" height="2" fill="#ddd"/><rect x="2090.8" y="970.5" width="2" height="8" fill="#ddd"/><rect x="1630" y="564.3" width="9" height="2" fill="#ddd"/><rect x="2166.2" y="970.5" width="2" height="8" fill="#ddd"/><rect x="1630" y="506.5" width="9" height="2" fill="#ddd"/><rect x="2241.5" y="970.5" width="2" height="8" fill="#ddd"/><rect x="1630" y="448.6" width="9" height="2" fill="#ddd"/><rect x="2316.9" y="970.5" width="2" height="8" fill="#ddd"/><rect x="1630" y="390.7" width="9" height="2" fill="#ddd"/><rect x="2392.3" y="970.5" width="2" height="8" fill="#ddd"/><rect x="1630" y="332.8" width="9" height="2" fill="#ddd"/><rect x="2467.7" y="970.5" width="2" height="8" fill="#ddd"/></svg>
<div class="t" style="left:2009.0px;top:250.2px;font-size:21.08px;color:#d8d8d8;transform:scaleX(0.935);">CIE 1976 u'v'</div>
<div class="t" style="left:1624.0px;top:960.3px;font-size:20.64px;color:#d8d8d8;transform:scaleX(0.871);">0</div>
<div class="t" style="left:1634.5px;top:983.5px;font-size:20.64px;color:#d8d8d8;transform:scaleX(0.871);">0</div>
<div class="t" style="left:1590.0px;top:902.4px;font-size:20.64px;color:#d8d8d8;transform:scaleX(1.095);">0.05</div>
<div class="t" style="left:1692.9px;top:983.5px;font-size:20.64px;color:#d8d8d8;transform:scaleX(1.095);">0.05</div>
<div class="t" style="left:1605.0px;top:844.6px;font-size:20.64px;color:#d8d8d8;transform:scaleX(1.011);">0.1</div>
<div class="t" style="left:1775.8px;top:983.5px;font-size:20.64px;color:#d8d8d8;transform:scaleX(1.011);">0.1</div>
<div class="t" style="left:1590.0px;top:786.7px;font-size:20.64px;color:#d8d8d8;transform:scaleX(1.095);">0.15</div>
<div class="t" style="left:1843.6px;top:983.5px;font-size:20.64px;color:#d8d8d8;transform:scaleX(1.095);">0.15</div>
<div class="t" style="left:1605.0px;top:728.8px;font-size:20.64px;color:#d8d8d8;transform:scaleX(1.011);">0.2</div>
<div class="t" style="left:1926.5px;top:983.5px;font-size:20.64px;color:#d8d8d8;transform:scaleX(1.011);">0.2</div>
<div class="t" style="left:1590.0px;top:670.9px;font-size:20.64px;color:#d8d8d8;transform:scaleX(1.095);">0.25</div>
<div class="t" style="left:1994.4px;top:983.5px;font-size:20.64px;color:#d8d8d8;transform:scaleX(1.095);">0.25</div>
<div class="t" style="left:1605.0px;top:613.0px;font-size:20.64px;color:#d8d8d8;transform:scaleX(1.011);">0.3</div>
<div class="t" style="left:2077.3px;top:983.5px;font-size:20.64px;color:#d8d8d8;transform:scaleX(1.011);">0.3</div>
<div class="t" style="left:1590.0px;top:555.2px;font-size:20.64px;color:#d8d8d8;transform:scaleX(1.095);">0.35</div>
<div class="t" style="left:2145.2px;top:983.5px;font-size:20.64px;color:#d8d8d8;transform:scaleX(1.095);">0.35</div>
<div class="t" style="left:1605.0px;top:497.3px;font-size:20.64px;color:#d8d8d8;transform:scaleX(1.011);">0.4</div>
<div class="t" style="left:2228.0px;top:983.5px;font-size:20.64px;color:#d8d8d8;transform:scaleX(1.011);">0.4</div>
<div class="t" style="left:1590.0px;top:439.4px;font-size:20.64px;color:#d8d8d8;transform:scaleX(1.095);">0.45</div>
<div class="t" style="left:2295.9px;top:983.5px;font-size:20.64px;color:#d8d8d8;transform:scaleX(1.095);">0.45</div>
<div class="t" style="left:1605.0px;top:381.5px;font-size:20.64px;color:#d8d8d8;transform:scaleX(1.011);">0.5</div>
<div class="t" style="left:2378.8px;top:983.5px;font-size:20.64px;color:#d8d8d8;transform:scaleX(1.011);">0.5</div>
<div class="t" style="left:1590.0px;top:323.6px;font-size:20.64px;color:#d8d8d8;transform:scaleX(1.095);">0.55</div>
<div class="t" style="left:2446.7px;top:983.5px;font-size:20.64px;color:#d8d8d8;transform:scaleX(1.095);">0.55</div>
<svg style="position:absolute;left:0;top:0" width="2560" height="1552"><rect x="1997.0" y="404.6" width="19" height="19" fill="none" stroke="#fff" stroke-width="2"/><rect x="2071.2" y="391.0" width="19" height="19" fill="none" stroke="#fff" stroke-width="2"/><rect x="2140.1" y="381.8" width="19" height="19" fill="none" stroke="#fff" stroke-width="2"/><rect x="2217.6" y="368.3" width="19" height="19" fill="none" stroke="#fff" stroke-width="2"/><rect x="2308.7" y="352.5" width="19" height="19" fill="none" stroke="#fff" stroke-width="2"/><rect x="1897.7" y="386.7" width="19" height="19" fill="none" stroke="#fff" stroke-width="2"/><rect x="1873.3" y="362.3" width="19" height="19" fill="none" stroke="#fff" stroke-width="2"/><rect x="1851.7" y="341.2" width="19" height="19" fill="none" stroke="#fff" stroke-width="2"/><rect x="1834.3" y="324.4" width="19" height="19" fill="none" stroke="#fff" stroke-width="2"/><rect x="1818.0" y="307.0" width="19" height="19" fill="none" stroke="#fff" stroke-width="2"/><rect x="1923.8" y="459.9" width="19" height="19" fill="none" stroke="#fff" stroke-width="2"/><rect x="1919.5" y="510.3" width="19" height="19" fill="none" stroke="#fff" stroke-width="2"/><rect x="1912.9" y="573.8" width="19" height="19" fill="none" stroke="#fff" stroke-width="2"/><rect x="1905.3" y="654.0" width="19" height="19" fill="none" stroke="#fff" stroke-width="2"/><rect x="1894.5" y="776.0" width="19" height="19" fill="none" stroke="#fff" stroke-width="2"/><rect x="1910.2" y="418.7" width="19" height="19" fill="none" stroke="#fff" stroke-width="2"/><rect x="1892.3" y="422.0" width="19" height="19" fill="none" stroke="#fff" stroke-width="2"/><rect x="1873.3" y="426.3" width="19" height="19" fill="none" stroke="#fff" stroke-width="2"/><rect x="1856.0" y="429.5" width="19" height="19" fill="none" stroke="#fff" stroke-width="2"/><rect x="1838.6" y="431.2" width="19" height="19" fill="none" stroke="#fff" stroke-width="2"/><rect x="1952.0" y="439.3" width="19" height="19" fill="none" stroke="#fff" stroke-width="2"/><rect x="1979.1" y="466.4" width="19" height="19" fill="none" stroke="#fff" stroke-width="2"/><rect x="2005.1" y="494.6" width="19" height="19" fill="none" stroke="#fff" stroke-width="2"/><rect x="2042.5" y="531.5" width="19" height="19" fill="none" stroke="#fff" stroke-width="2"/><rect x="2088.6" y="575.9" width="19" height="19" fill="none" stroke="#fff" stroke-width="2"/><rect x="1930.8" y="391.0" width="19" height="19" fill="none" stroke="#fff" stroke-width="2"/><rect x="1931.9" y="370.5" width="19" height="19" fill="none" stroke="#fff" stroke-width="2"/><rect x="1934.1" y="351.5" width="19" height="19" fill="none" stroke="#fff" stroke-width="2"/><rect x="1935.7" y="335.2" width="19" height="19" fill="none" stroke="#fff" stroke-width="2"/><rect x="1937.3" y="317.3" width="19" height="19" fill="none" stroke="#fff" stroke-width="2"/><circle cx="2320.0" cy="362.0" r="5.9" fill="#c03030" stroke="#111" stroke-width="1.5"/><circle cx="2223.3" cy="377.8" r="5.9" fill="#b04848" stroke="#111" stroke-width="1.5"/><circle cx="2144.0" cy="389.2" r="5.9" fill="#b06060" stroke="#111" stroke-width="1.5"/><circle cx="2079.0" cy="400.5" r="5.9" fill="#b07070" stroke="#111" stroke-width="1.5"/><circle cx="2005.4" cy="414.1" r="5.9" fill="#c08888" stroke="#111" stroke-width="1.5"/><circle cx="1828.5" cy="316.5" r="5.9" fill="#12b012" stroke="#111" stroke-width="1.5"/><circle cx="1842.7" cy="333.3" r="5.9" fill="#40b040" stroke="#111" stroke-width="1.5"/><circle cx="1860.1" cy="350.7" r="5.9" fill="#5aa85a" stroke="#111" stroke-width="1.5"/><circle cx="1882.8" cy="371.8" r="5.9" fill="#80b080" stroke="#111" stroke-width="1.5"/><circle cx="1907.2" cy="396.2" r="5.9" fill="#9ab89a" stroke="#111" stroke-width="1.5"/><circle cx="1902.4" cy="785.5" r="5.9" fill="#2020a0" stroke="#111" stroke-width="1.5"/><circle cx="1912.7" cy="660.9" r="5.9" fill="#5050b0" stroke="#111" stroke-width="1.5"/><circle cx="1921.4" cy="583.3" r="5.9" fill="#7070b8" stroke="#111" stroke-width="1.5"/><circle cx="1928.5" cy="522.6" r="5.9" fill="#9090b8" stroke="#111" stroke-width="1.5"/><circle cx="1932.8" cy="471.1" r="5.9" fill="#a0a0b8" stroke="#111" stroke-width="1.5"/><circle cx="1847.6" cy="440.7" r="5.9" fill="#10c0c0" stroke="#111" stroke-width="1.5"/><circle cx="1865.5" cy="440.7" r="5.9" fill="#40b0b0" stroke="#111" stroke-width="1.5"/><circle cx="1880.7" cy="436.9" r="5.9" fill="#70b0b0" stroke="#111" stroke-width="1.5"/><circle cx="1899.6" cy="432.6" r="5.9" fill="#90b4b4" stroke="#111" stroke-width="1.5"/><circle cx="1917.6" cy="429.3" r="5.9" fill="#a8bcbc" stroke="#111" stroke-width="1.5"/><circle cx="2094.3" cy="587.1" r="5.9" fill="#a020a8" stroke="#111" stroke-width="1.5"/><circle cx="2047.7" cy="541.0" r="5.9" fill="#b048b8" stroke="#111" stroke-width="1.5"/><circle cx="2016.8" cy="505.8" r="5.9" fill="#c070c0" stroke="#111" stroke-width="1.5"/><circle cx="1988.1" cy="477.0" r="5.9" fill="#c090c0" stroke="#111" stroke-width="1.5"/><circle cx="1959.3" cy="450.4" r="5.9" fill="#c0a0c0" stroke="#111" stroke-width="1.5"/><circle cx="1946.8" cy="327.3" r="5.9" fill="#ccc410" stroke="#111" stroke-width="1.5"/><circle cx="1946.0" cy="345.0" r="5.9" fill="#c0b840" stroke="#111" stroke-width="1.5"/><circle cx="1943.6" cy="361.5" r="5.9" fill="#c0b860" stroke="#111" stroke-width="1.5"/><circle cx="1940.7" cy="380.0" r="5.9" fill="#c0b880" stroke="#111" stroke-width="1.5"/><circle cx="1940.3" cy="400.5" r="5.9" fill="#c0bc9a" stroke="#111" stroke-width="1.5"/><rect x="1927" y="416" width="19" height="19" fill="none" stroke="#000" stroke-width="2.2"/><circle cx="1937" cy="426.3" r="6.4" fill="#fff" stroke="#111" stroke-width="1.6"/></svg>
<div style="position:absolute;left:2231px;top:751px;width:310px;height:212px;background:#2a2a2a"></div>
<div style="position:absolute;left:2234px;top:754px;width:304px;height:206px;background:#9a9a9a"></div>
<div style="position:absolute;left:2236px;top:756px;width:300px;height:202px;overflow:hidden">
<div style="position:absolute;left:0;top:0px;width:300px;height:4px;background:linear-gradient(90deg,#5d9900,#629900,#679900,#6b9900,#709900,#759900,#7a9900,#7f9900,#849900,#899900,#8e9900,#939900,#989900,#999400,#999000,#998b00)"></div><div style="position:absolute;left:0;top:4px;width:300px;height:4px;background:linear-gradient(90deg,#5e9900,#639900,#689900,#6c9900,#719900,#769900,#7b9900,#809900,#859900,#8a9900,#8f9900,#949900,#999900,#999400,#998f00,#998a00)"></div><div style="position:absolute;left:0;top:8px;width:300px;height:4px;background:linear-gradient(90deg,#5f9900,#649900,#689900,#6d9900,#729900,#779900,#7c9900,#819900,#869900,#8b9900,#909900,#959900,#999800,#999300,#998e00,#998900)"></div><div style="position:absolute;left:0;top:12px;width:300px;height:4px;background:linear-gradient(90deg,#609900,#649900,#699900,#6e9900,#739900,#789900,#7d9900,#829900,#879900,#8c9900,#919900,#969900,#999700,#999200,#998d00,#998800)"></div><div style="position:absolute;left:0;top:16px;width:300px;height:4px;background:linear-gradient(90deg,#619900,#659900,#6a9900,#6f9900,#749900,#799900,#7e9900,#839900,#889900,#8d9900,#929900,#979900,#999600,#999100,#998c00,#998800)"></div><div style="position:absolute;left:0;top:20px;width:300px;height:4px;background:linear-gradient(90deg,#619900,#669900,#6b9900,#709900,#759900,#7a9900,#7f9900,#849900,#899900,#8e9900,#939900,#989900,#999500,#999000,#998b00,#998700)"></div><div style="position:absolute;left:0;top:24px;width:300px;height:4px;background:linear-gradient(90deg,#629901,#679900,#6c9900,#719900,#769900,#7a9900,#7f9900,#859900,#8a9900,#8f9900,#949900,#999900,#999400,#998f00,#998a00,#998600)"></div><div style="position:absolute;left:0;top:28px;width:300px;height:4px;background:linear-gradient(90deg,#639901,#689900,#6d9900,#729900,#769900,#7b9900,#809900,#859900,#8b9900,#909900,#959900,#999800,#999300,#998e00,#998900,#998500)"></div><div style="position:absolute;left:0;top:32px;width:300px;height:4px;background:linear-gradient(90deg,#649902,#699900,#6e9900,#729900,#779900,#7c9900,#819900,#869900,#8c9900,#919900,#969900,#999700,#999200,#998d00,#998800,#998400)"></div><div style="position:absolute;left:0;top:36px;width:300px;height:4px;background:linear-gradient(90deg,#659903,#6a9901,#6e9900,#739900,#789900,#7d9900,#829900,#879900,#8d9900,#929900,#979900,#999600,#999100,#998c00,#998700,#998300)"></div><div style="position:absolute;left:0;top:40px;width:300px;height:4px;background:linear-gradient(90deg,#669903,#6a9902,#6f9900,#749900,#799900,#7e9900,#839900,#889900,#8e9900,#939900,#989900,#999500,#999000,#998b00,#998700,#998200)"></div><div style="position:absolute;left:0;top:44px;width:300px;height:4px;background:linear-gradient(90deg,#669904,#6b9902,#709901,#759900,#7a9900,#7f9900,#849900,#899900,#8f9900,#949900,#999900,#999400,#998f00,#998a00,#998600,#998200)"></div><div style="position:absolute;left:0;top:48px;width:300px;height:4px;background:linear-gradient(90deg,#679904,#6c9903,#719901,#769900,#7b9900,#809900,#859900,#8a9900,#909900,#959900,#999800,#999300,#998e00,#998900,#998500,#998100)"></div><div style="position:absolute;left:0;top:52px;width:300px;height:4px;background:linear-gradient(90deg,#689905,#6d9903,#729902,#779900,#7c9900,#819900,#869900,#8b9900,#919900,#969900,#999700,#999200,#998d00,#998800,#998400,#998000)"></div><div style="position:absolute;left:0;top:56px;width:300px;height:4px;background:linear-gradient(90deg,#699905,#6e9904,#739902,#789901,#7d9900,#829900,#879900,#8c9900,#929900,#979900,#999600,#999100,#998c00,#998700,#998300,#997f00)"></div><div style="position:absolute;left:0;top:60px;width:300px;height:4px;background:linear-gradient(90deg,#6a9906,#6f9905,#749903,#799901,#7e9900,#839900,#889900,#8d9900,#939900,#989900,#999500,#999000,#998b00,#998700,#998200,#997e00)"></div><div style="position:absolute;left:0;top:64px;width:300px;height:4px;background:linear-gradient(90deg,#6b9907,#709905,#759904,#7a9902,#7f9900,#849900,#899900,#8e9900,#949900,#999900,#999400,#998f00,#998a00,#998600,#998200,#997e00)"></div><div style="position:absolute;left:0;top:68px;width:300px;height:4px;background:linear-gradient(90deg,#6c9907,#719906,#769904,#7b9903,#809901,#859900,#8a9900,#8f9900,#959900,#999800,#999300,#998e00,#998900,#998500,#998100,#997d00)"></div><div style="position:absolute;left:0;top:72px;width:300px;height:4px;background:linear-gradient(90deg,#6d9908,#729906,#779905,#7c9903,#819902,#869900,#8b9900,#909900,#969900,#999700,#999200,#998d00,#998800,#998400,#998000,#997c00)"></div><div style="position:absolute;left:0;top:76px;width:300px;height:4px;background:linear-gradient(90deg,#6d9908,#729907,#779905,#7d9904,#829902,#879901,#8c9900,#919900,#979900,#999600,#999100,#998c00,#998700,#998300,#997f00,#997b00)"></div><div style="position:absolute;left:0;top:80px;width:300px;height:4px;background:linear-gradient(90deg,#6e9909,#739908,#789906,#7d9904,#839903,#889901,#8d9900,#929900,#989900,#999500,#999000,#998b00,#998700,#998200,#997e00,#997a00)"></div><div style="position:absolute;left:0;top:84px;width:300px;height:4px;background:linear-gradient(90deg,#6f990a,#749908,#799907,#7e9905,#849903,#899902,#8e9900,#939900,#999900,#999400,#998f00,#998a00,#998600,#998100,#997d00,#997a00)"></div><div style="position:absolute;left:0;top:88px;width:300px;height:4px;background:linear-gradient(90deg,#70990a,#759909,#7a9907,#7f9906,#859904,#8a9902,#8f9901,#949900,#999800,#999300,#998e00,#998900,#998500,#998100,#997d00,#997900)"></div><div style="position:absolute;left:0;top:92px;width:300px;height:4px;background:linear-gradient(90deg,#71990b,#769909,#7b9908,#809906,#869905,#8b9903,#909901,#969900,#999700,#999200,#998d00,#998800,#998400,#998000,#997c00,#997800)"></div><div style="position:absolute;left:0;top:96px;width:300px;height:4px;background:linear-gradient(90deg,#72990c,#77990a,#7c9908,#819907,#879905,#8c9904,#919902,#979900,#999600,#999100,#998c00,#998700,#998300,#997f00,#997b00,#997700)"></div><div style="position:absolute;left:0;top:100px;width:300px;height:4px;background:linear-gradient(90deg,#73990c,#78990b,#7d9909,#829908,#889906,#8d9904,#929903,#989901,#999500,#999000,#998b00,#998700,#998200,#997e00,#997a00,#997700)"></div><div style="position:absolute;left:0;top:104px;width:300px;height:4px;background:linear-gradient(90deg,#74990d,#79990b,#7e990a,#839908,#899907,#8e9905,#939903,#999902,#999400,#998f00,#998a00,#998600,#998100,#997d00,#997a00,#997600)"></div><div style="position:absolute;left:0;top:108px;width:300px;height:4px;background:linear-gradient(90deg,#75990e,#7a990c,#7f990a,#849909,#8a9907,#8f9906,#949904,#999802,#999301,#998e00,#998900,#998500,#998100,#997d00,#997900,#997500)"></div><div style="position:absolute;left:0;top:112px;width:300px;height:4px;background:linear-gradient(90deg,#76990e,#7b990d,#80990b,#859909,#8b9908,#909906,#959905,#999703,#999201,#998d00,#998800,#998400,#998000,#997c00,#997800,#997400)"></div><div style="position:absolute;left:0;top:116px;width:300px;height:4px;background:linear-gradient(90deg,#77990f,#7c990d,#81990c,#86990a,#8c9908,#919907,#969905,#999603,#999102,#998c00,#998700,#998300,#997f00,#997b00,#997700,#997400)"></div><div style="position:absolute;left:0;top:120px;width:300px;height:4px;background:linear-gradient(90deg,#78990f,#7d990e,#82990c,#87990b,#8d9909,#929908,#979906,#999504,#999002,#998b01,#998700,#998200,#997e00,#997a00,#997600,#997300)"></div><div style="position:absolute;left:0;top:124px;width:300px;height:4px;background:linear-gradient(90deg,#789910,#7e990f,#83990d,#88990b,#8e990a,#939908,#999907,#999405,#998f03,#998a01,#998600,#998100,#997d00,#997900,#997600,#997200)"></div><div style="position:absolute;left:0;top:128px;width:300px;height:4px;background:linear-gradient(90deg,#799911,#7f990f,#84990e,#89990c,#8f990a,#949909,#999807,#999305,#998e04,#998902,#998500,#998100,#997c00,#997900,#997500,#997200)"></div><div style="position:absolute;left:0;top:132px;width:300px;height:4px;background:linear-gradient(90deg,#7a9911,#809910,#85990e,#8a990d,#90990b,#959909,#999708,#999206,#998d04,#998802,#998401,#998000,#997c00,#997800,#997400,#997100)"></div><div style="position:absolute;left:0;top:136px;width:300px;height:4px;background:linear-gradient(90deg,#7b9912,#819911,#86990f,#8b990d,#91990c,#96990a,#999608,#999106,#998c05,#998703,#998301,#997f00,#997b00,#997700,#997400,#997000)"></div><div style="position:absolute;left:0;top:140px;width:300px;height:4px;background:linear-gradient(90deg,#7c9913,#829911,#879910,#8c990e,#92990c,#97990b,#999509,#999007,#998b05,#998704,#998202,#997e00,#997a00,#997600,#997300,#996f00)"></div><div style="position:absolute;left:0;top:144px;width:300px;height:4px;background:linear-gradient(90deg,#7d9913,#839912,#889910,#8d990f,#93990d,#98990b,#99940a,#998f08,#998a06,#998604,#998103,#997d01,#997900,#997600,#997200,#996f00)"></div><div style="position:absolute;left:0;top:148px;width:300px;height:4px;background:linear-gradient(90deg,#7e9914,#849913,#899911,#8e990f,#94990e,#99990c,#99930a,#998e08,#998906,#998505,#998003,#997c02,#997900,#997500,#997100,#996e00)"></div><div style="position:absolute;left:0;top:152px;width:300px;height:4px;background:linear-gradient(90deg,#7f9915,#859913,#8a9912,#8f9910,#95990e,#99970d,#99920b,#998d09,#998807,#998405,#998004,#997c02,#997801,#997400,#997100,#996d00)"></div><div style="position:absolute;left:0;top:156px;width:300px;height:4px;background:linear-gradient(90deg,#809915,#869914,#8b9912,#919911,#96990f,#99960d,#99910b,#998c09,#998708,#998306,#997f04,#997b03,#997701,#997300,#997000,#996d00)"></div><div style="position:absolute;left:0;top:160px;width:300px;height:4px;background:linear-gradient(90deg,#819916,#879915,#8c9913,#929911,#979910,#99950e,#99900c,#998b0a,#998708,#998206,#997e05,#997a03,#997602,#997300,#996f00,#996c00)"></div><div style="position:absolute;left:0;top:164px;width:300px;height:4px;background:linear-gradient(90deg,#829917,#889915,#8d9914,#939912,#989911,#99940e,#998f0c,#998a0a,#998609,#998107,#997d05,#997904,#997502,#997201,#996e00,#996b00)"></div><div style="position:absolute;left:0;top:168px;width:300px;height:4px;background:linear-gradient(90deg,#839918,#899916,#8e9914,#949913,#999911,#99930f,#998e0d,#99890b,#998509,#998007,#997c06,#997804,#997503,#997101,#996e00,#996b00)"></div><div style="position:absolute;left:0;top:172px;width:300px;height:4px;background:linear-gradient(90deg,#849918,#8a9917,#8f9915,#959914,#999812,#999210,#998d0d,#99880c,#99840a,#998008,#997b06,#997805,#997403,#997002,#996d00,#996a00)"></div><div style="position:absolute;left:0;top:176px;width:300px;height:4px;background:linear-gradient(90deg,#859919,#8b9917,#909916,#969914,#999712,#999110,#998c0e,#99870c,#99830a,#997f08,#997b07,#997705,#997304,#997002,#996c01,#996900)"></div><div style="position:absolute;left:0;top:180px;width:300px;height:4px;background:linear-gradient(90deg,#86991a,#8c9918,#919917,#979915,#999513,#999011,#998b0f,#99860d,#99820b,#997e09,#997a07,#997606,#997204,#996f03,#996c01,#996900)"></div><div style="position:absolute;left:0;top:184px;width:300px;height:4px;background:linear-gradient(90deg,#87991a,#8d9919,#929917,#989916,#999413,#998f11,#998a0f,#99860d,#99810b,#997d09,#997908,#997506,#997205,#996e03,#996b02,#996801)"></div><div style="position:absolute;left:0;top:188px;width:300px;height:4px;background:linear-gradient(90deg,#88991b,#8e991a,#949918,#999916,#999314,#998e12,#998910,#99850e,#99800c,#997c0a,#997808,#997507,#997105,#996e04,#996a02,#996701)"></div><div style="position:absolute;left:0;top:192px;width:300px;height:4px;background:linear-gradient(90deg,#89991c,#8f991a,#959919,#999817,#999215,#998d12,#998810,#99840e,#997f0c,#997b0b,#997709,#997407,#997006,#996d04,#996a03,#996702)"></div><div style="position:absolute;left:0;top:196px;width:300px;height:4px;background:linear-gradient(90deg,#8a991d,#90991b,#969919,#999717,#999115,#998c13,#998711,#99830f,#997f0d,#997b0b,#997709,#997308,#997006,#996c05,#996903,#996602)"></div><div style="position:absolute;left:0;top:200px;width:300px;height:4px;background:linear-gradient(90deg,#8c991d,#91991c,#97991a,#999618,#999016,#998b13,#998611,#99820f,#997e0d,#997a0c,#99760a,#997208,#996f07,#996c05,#996804,#996502)"></div>
</div>
<div style="position:absolute;left:2236px;top:756px;width:300px;height:202px;overflow:hidden;clip-path:polygon(0 20.6px,300px 181.1px,300px 202px,0 202px)">
<div style="position:absolute;left:0;top:0px;width:300px;height:3px;background:linear-gradient(90deg,#a9ff00,#adff00,#b1ff00,#b5ff00,#baff00,#beff00,#c2ff00,#c6ff00,#caff00,#cfff00,#d3ff00,#d7ff00,#dbff00,#e0ff00,#e4ff00,#e8ff00,#edff00,#f1ff00,#f5ff00,#faff00,#feff00,#fffc00,#fff700,#fff300,#ffef00,#ffec00)"></div><div style="position:absolute;left:0;top:3px;width:300px;height:3px;background:linear-gradient(90deg,#aaff00,#aeff00,#b2ff00,#b6ff00,#baff00,#bfff00,#c3ff00,#c7ff00,#cbff00,#d0ff00,#d4ff00,#d8ff00,#dcff00,#e1ff00,#e5ff00,#e9ff00,#eeff00,#f2ff00,#f6ff00,#fbff00,#ffff00,#fffb00,#fff600,#fff200,#ffee00,#ffeb00)"></div><div style="position:absolute;left:0;top:6px;width:300px;height:3px;background:linear-gradient(90deg,#abff00,#afff00,#b3ff00,#b7ff00,#bbff00,#c0ff00,#c4ff00,#c8ff00,#ccff00,#d1ff00,#d5ff00,#d9ff00,#ddff00,#e2ff00,#e6ff00,#eaff00,#efff00,#f3ff00,#f7ff00,#fcff00,#fffe00,#fffa00,#fff500,#fff100,#ffee00,#ffea00)"></div><div style="position:absolute;left:0;top:9px;width:300px;height:3px;background:linear-gradient(90deg,#acff00,#b0ff00,#b4ff00,#b8ff00,#bcff00,#c1ff00,#c5ff00,#c9ff00,#cdff00,#d2ff00,#d6ff00,#daff00,#deff00,#e3ff00,#e7ff00,#ebff00,#f0ff00,#f4ff00,#f8ff00,#fdff00,#fffd00,#fff900,#fff400,#fff000,#ffed00,#ffe900)"></div><div style="position:absolute;left:0;top:12px;width:300px;height:3px;background:linear-gradient(90deg,#acff00,#b1ff00,#b5ff00,#b9ff00,#bdff00,#c2ff00,#c6ff00,#caff00,#ceff00,#d3ff00,#d7ff00,#dbff00,#dfff00,#e4ff00,#e8ff00,#ecff00,#f1ff00,#f5ff00,#f9ff00,#feff00,#fffc00,#fff800,#fff300,#ffef00,#ffec00,#ffe800)"></div><div style="position:absolute;left:0;top:15px;width:300px;height:3px;background:linear-gradient(90deg,#adff00,#b2ff00,#b6ff00,#baff00,#beff00,#c2ff00,#c7ff00,#cbff00,#cfff00,#d4ff00,#d8ff00,#dcff00,#e0ff00,#e5ff00,#e9ff00,#edff00,#f2ff00,#f6ff00,#fbff00,#ffff00,#fffb00,#fff700,#fff200,#ffef00,#ffeb00,#ffe700)"></div><div style="position:absolute;left:0;top:18px;width:300px;height:3px;background:linear-gradient(90deg,#aeff00,#b3ff00,#b7ff00,#bbff00,#bfff00,#c3ff00,#c8ff00,#ccff00,#d0ff00,#d5ff00,#d9ff00,#ddff00,#e1ff00,#e6ff00,#eaff00,#eeff00,#f3ff00,#f7ff00,#fcff00,#fffe00,#fffa00,#fff600,#fff100,#ffee00,#ffea00,#ffe600)"></div><div style="position:absolute;left:0;top:21px;width:300px;height:3px;background:linear-gradient(90deg,#afff01,#b3ff00,#b8ff00,#bcff00,#c0ff00,#c4ff00,#c9ff00,#cdff00,#d1ff00,#d6ff00,#daff00,#deff00,#e2ff00,#e7ff00,#ebff00,#f0ff00,#f4ff00,#f8ff00,#fdff00,#fffd00,#fff900,#fff500,#fff000,#ffed00,#ffe900,#ffe500)"></div><div style="position:absolute;left:0;top:24px;width:300px;height:3px;background:linear-gradient(90deg,#b0ff03,#b4ff00,#b9ff00,#bdff00,#c1ff00,#c5ff00,#caff00,#ceff00,#d2ff00,#d7ff00,#dbff00,#dfff00,#e3ff00,#e8ff00,#ecff00,#f1ff00,#f5ff00,#f9ff00,#feff00,#fffc00,#fff800,#fff400,#fff000,#ffec00,#ffe800,#ffe400)"></div><div style="position:absolute;left:0;top:27px;width:300px;height:3px;background:linear-gradient(90deg,#b1ff04,#b5ff01,#baff00,#beff00,#c2ff00,#c6ff00,#cbff00,#cfff00,#d3ff00,#d8ff00,#dcff00,#e0ff00,#e5ff00,#e9ff00,#edff00,#f2ff00,#f6ff00,#faff00,#ffff00,#fffb00,#fff700,#fff300,#ffef00,#ffeb00,#ffe700,#ffe300)"></div><div style="position:absolute;left:0;top:30px;width:300px;height:3px;background:linear-gradient(90deg,#b2ff06,#b6ff03,#bbff00,#bfff00,#c3ff00,#c7ff00,#ccff00,#d0ff00,#d4ff00,#d9ff00,#ddff00,#e1ff00,#e6ff00,#eaff00,#eeff00,#f3ff00,#f7ff00,#fbff00,#fffe00,#fffa00,#fff600,#fff200,#ffee00,#ffea00,#ffe600,#ffe200)"></div><div style="position:absolute;left:0;top:33px;width:300px;height:3px;background:linear-gradient(90deg,#b3ff07,#b7ff04,#bbff01,#c0ff00,#c4ff00,#c8ff00,#cdff00,#d1ff00,#d5ff00,#daff00,#deff00,#e2ff00,#e7ff00,#ebff00,#efff00,#f4ff00,#f8ff00,#fdff00,#fffd00,#fff900,#fff500,#fff100,#ffed00,#ffe900,#ffe500,#ffe100)"></div><div style="position:absolute;left:0;top:36px;width:300px;height:3px;background:linear-gradient(90deg,#b4ff08,#b8ff05,#bcff02,#c1ff00,#c5ff00,#c9ff00,#ceff00,#d2ff00,#d6ff00,#dbff00,#dfff00,#e3ff00,#e8ff00,#ecff00,#f0ff00,#f5ff00,#f9ff00,#feff00,#fffc00,#fff800,#fff400,#fff000,#ffec00,#ffe800,#ffe400,#ffe100)"></div><div style="position:absolute;left:0;top:39px;width:300px;height:3px;background:linear-gradient(90deg,#b5ff09,#b9ff07,#bdff04,#c2ff00,#c6ff00,#caff00,#cfff00,#d3ff00,#d7ff00,#dcff00,#e0ff00,#e4ff00,#e9ff00,#edff00,#f1ff00,#f6ff00,#faff00,#ffff00,#fffb00,#fff700,#fff300,#ffef00,#ffeb00,#ffe700,#ffe300,#ffe000)"></div><div style="position:absolute;left:0;top:42px;width:300px;height:3px;background:linear-gradient(90deg,#b6ff0a,#baff08,#beff05,#c3ff02,#c7ff00,#cbff00,#d0ff00,#d4ff00,#d8ff00,#ddff00,#e1ff00,#e5ff00,#eaff00,#eeff00,#f2ff00,#f7ff00,#fbff00,#fffe00,#fffa00,#fff600,#fff200,#ffee00,#ffea00,#ffe600,#ffe200,#ffdf00)"></div><div style="position:absolute;left:0;top:45px;width:300px;height:3px;background:linear-gradient(90deg,#b7ff0c,#bbff09,#bfff07,#c4ff04,#c8ff00,#ccff00,#d1ff00,#d5ff00,#d9ff00,#deff00,#e2ff00,#e6ff00,#ebff00,#efff00,#f4ff00,#f8ff00,#fcff00,#fffd00,#fff900,#fff500,#fff100,#ffed00,#ffe900,#ffe500,#ffe100,#ffde00)"></div><div style="position:absolute;left:0;top:48px;width:300px;height:3px;background:linear-gradient(90deg,#b8ff0d,#bcff0a,#c0ff08,#c5ff05,#c9ff02,#cdff00,#d2ff00,#d6ff00,#daff00,#dfff00,#e3ff00,#e7ff00,#ecff00,#f0ff00,#f5ff00,#f9ff00,#fdff00,#fffc00,#fff800,#fff400,#fff000,#ffec00,#ffe800,#ffe400,#ffe100,#ffdd00)"></div><div style="position:absolute;left:0;top:51px;width:300px;height:3px;background:linear-gradient(90deg,#b9ff0e,#bdff0c,#c1ff09,#c6ff06,#caff04,#ceff00,#d3ff00,#d7ff00,#dbff00,#e0ff00,#e4ff00,#e8ff00,#edff00,#f1ff00,#f6ff00,#faff00,#ffff00,#fffb00,#fff700,#fff300,#ffef00,#ffeb00,#ffe700,#ffe300,#ffe000,#ffdc00)"></div><div style="position:absolute;left:0;top:54px;width:300px;height:3px;background:linear-gradient(90deg,#baff0f,#beff0d,#c2ff0a,#c7ff08,#cbff05,#cfff02,#d4ff00,#d8ff00,#dcff00,#e1ff00,#e5ff00,#e9ff00,#eeff00,#f2ff00,#f7ff00,#fbff00,#fffe00,#fffa00,#fff600,#fff200,#ffee00,#ffea00,#ffe600,#ffe200,#ffdf00,#ffdb00)"></div><div style="position:absolute;left:0;top:57px;width:300px;height:3px;background:linear-gradient(90deg,#bbff10,#bfff0e,#c3ff0b,#c8ff09,#ccff06,#d0ff03,#d5ff00,#d9ff00,#ddff00,#e2ff00,#e6ff00,#eaff00,#efff00,#f3ff00,#f8ff00,#fcff00,#fffd00,#fff900,#fff500,#fff100,#ffed00,#ffe900,#ffe500,#ffe100,#ffde00,#ffda00)"></div><div style="position:absolute;left:0;top:60px;width:300px;height:3px;background:linear-gradient(90deg,#bcff11,#c0ff0f,#c4ff0d,#c9ff0a,#cdff08,#d1ff05,#d6ff02,#daff00,#deff00,#e3ff00,#e7ff00,#ecff00,#f0ff00,#f4ff00,#f9ff00,#fdff00,#fffc00,#fff800,#fff400,#fff000,#ffec00,#ffe800,#ffe400,#ffe000,#ffdd00,#ffda00)"></div><div style="position:absolute;left:0;top:63px;width:300px;height:3px;background:linear-gradient(90deg,#bdff12,#c1ff10,#c5ff0e,#c9ff0b,#ceff09,#d2ff06,#d7ff03,#dbff00,#dfff00,#e4ff00,#e8ff00,#edff00,#f1ff00,#f5ff00,#faff00,#feff00,#fffb00,#fff700,#fff300,#ffef00,#ffeb00,#ffe700,#ffe300,#ffe000,#ffdc00,#ffd900)"></div><div style="position:absolute;left:0;top:66px;width:300px;height:3px;background:linear-gradient(90deg,#bdff13,#c2ff11,#c6ff0f,#caff0c,#cfff0a,#d3ff07,#d8ff05,#dcff01,#e0ff00,#e5ff00,#e9ff00,#eeff00,#f2ff00,#f7ff00,#fbff00,#fffe00,#fffa00,#fff600,#fff200,#ffee00,#ffea00,#ffe600,#ffe200,#ffdf00,#ffdb00,#ffd800)"></div><div style="position:absolute;left:0;top:69px;width:300px;height:3px;background:linear-gradient(90deg,#beff14,#c3ff12,#c7ff10,#cbff0e,#d0ff0b,#d4ff09,#d9ff06,#ddff03,#e1ff00,#e6ff00,#eaff00,#efff00,#f3ff00,#f8ff00,#fcff00,#fffd00,#fff900,#fff500,#fff100,#ffed00,#ffe900,#ffe500,#ffe100,#ffde00,#ffda00,#ffd700)"></div><div style="position:absolute;left:0;top:72px;width:300px;height:3px;background:linear-gradient(90deg,#bfff15,#c4ff13,#c8ff11,#ccff0f,#d1ff0c,#d5ff0a,#daff07,#deff04,#e2ff01,#e7ff00,#ebff00,#f0ff00,#f4ff00,#f9ff00,#fdff00,#fffc00,#fff800,#fff400,#fff000,#ffec00,#ffe800,#ffe400,#ffe000,#ffdd00,#ffd900,#ffd600)"></div><div style="position:absolute;left:0;top:75px;width:300px;height:3px;background:linear-gradient(90deg,#c0ff16,#c5ff14,#c9ff12,#cdff10,#d2ff0e,#d6ff0b,#dbff09,#dfff06,#e3ff03,#e8ff00,#ecff00,#f1ff00,#f5ff00,#faff00,#feff00,#fffb00,#fff700,#fff300,#ffef00,#ffeb00,#ffe700,#ffe300,#ffe000,#ffdc00,#ffd900,#ffd500)"></div><div style="position:absolute;left:0;top:78px;width:300px;height:3px;background:linear-gradient(90deg,#c1ff17,#c6ff15,#caff13,#ceff11,#d3ff0f,#d7ff0c,#dcff0a,#e0ff07,#e5ff04,#e9ff01,#edff00,#f2ff00,#f6ff00,#fbff00,#ffff00,#fffa00,#fff600,#fff200,#ffee00,#ffea00,#ffe600,#ffe200,#ffdf00,#ffdb00,#ffd800,#ffd400)"></div><div style="position:absolute;left:0;top:81px;width:300px;height:3px;background:linear-gradient(90deg,#c2ff18,#c7ff16,#cbff14,#cfff12,#d4ff10,#d8ff0d,#ddff0b,#e1ff08,#e6ff06,#eaff03,#efff00,#f3ff00,#f7ff00,#fcff00,#fffe00,#fff900,#fff500,#fff100,#ffed00,#ffe900,#ffe500,#ffe100,#ffde00,#ffda00,#ffd700,#ffd400)"></div><div style="position:absolute;left:0;top:84px;width:300px;height:3px;background:linear-gradient(90deg,#c3ff1a,#c8ff17,#ccff15,#d1ff13,#d5ff11,#d9ff0f,#deff0c,#e2ff0a,#e7ff07,#ebff04,#f0ff01,#f4ff00,#f9ff00,#fdff00,#fffc00,#fff800,#fff400,#fff000,#ffec00,#ffe800,#ffe400,#ffe000,#ffdd00,#ffd900,#ffd600,#ffd300)"></div><div style="position:absolute;left:0;top:87px;width:300px;height:3px;background:linear-gradient(90deg,#c4ff1b,#c9ff18,#cdff16,#d2ff14,#d6ff12,#daff10,#dfff0d,#e3ff0b,#e8ff08,#ecff06,#f1ff02,#f5ff00,#faff00,#feff00,#fffb00,#fff700,#fff300,#ffef00,#ffeb00,#ffe700,#ffe300,#ffe000,#ffdc00,#ffd900,#ffd500,#ffd200)"></div><div style="position:absolute;left:0;top:90px;width:300px;height:3px;background:linear-gradient(90deg,#c5ff1c,#caff1a,#ceff17,#d3ff15,#d7ff13,#dbff11,#e0ff0f,#e4ff0c,#e9ff0a,#edff07,#f2ff04,#f6ff00,#fbff00,#ffff00,#fffa00,#fff600,#fff200,#ffee00,#ffea00,#ffe600,#ffe200,#ffdf00,#ffdb00,#ffd800,#ffd400,#ffd100)"></div><div style="position:absolute;left:0;top:93px;width:300px;height:3px;background:linear-gradient(90deg,#c6ff1d,#cbff1b,#cfff18,#d4ff16,#d8ff14,#dcff12,#e1ff10,#e5ff0d,#eaff0b,#eeff08,#f3ff05,#f7ff02,#fcff00,#fffe00,#fff900,#fff500,#fff100,#ffed00,#ffe900,#ffe500,#ffe100,#ffde00,#ffda00,#ffd700,#ffd400,#ffd000)"></div><div style="position:absolute;left:0;top:96px;width:300px;height:3px;background:linear-gradient(90deg,#c7ff1e,#ccff1c,#d0ff1a,#d5ff17,#d9ff15,#ddff13,#e2ff11,#e6ff0e,#ebff0c,#efff09,#f4ff07,#f8ff04,#fdff00,#fffd00,#fff800,#fff400,#fff000,#ffec00,#ffe800,#ffe400,#ffe000,#ffdd00,#ffd900,#ffd600,#ffd300,#ffcf00)"></div><div style="position:absolute;left:0;top:99px;width:300px;height:3px;background:linear-gradient(90deg,#c8ff1f,#cdff1d,#d1ff1b,#d6ff19,#daff16,#dfff14,#e3ff12,#e7ff10,#ecff0d,#f0ff0b,#f5ff08,#faff05,#feff02,#fffb00,#fff700,#fff300,#ffef00,#ffeb00,#ffe700,#ffe300,#ffdf00,#ffdc00,#ffd800,#ffd500,#ffd200,#ffcf00)"></div><div style="position:absolute;left:0;top:102px;width:300px;height:3px;background:linear-gradient(90deg,#c9ff20,#ceff1e,#d2ff1c,#d7ff1a,#dbff17,#e0ff15,#e4ff13,#e9ff11,#edff0e,#f2ff0c,#f6ff09,#fbff07,#ffff04,#fffa00,#fff600,#fff200,#ffee00,#ffea00,#ffe600,#ffe200,#ffdf00,#ffdb00,#ffd800,#ffd400,#ffd100,#ffce00)"></div><div style="position:absolute;left:0;top:105px;width:300px;height:3px;background:linear-gradient(90deg,#caff21,#cfff1f,#d3ff1d,#d8ff1b,#dcff19,#e1ff16,#e5ff14,#eaff12,#eeff10,#f3ff0d,#f7ff0b,#fcff08,#fffe05,#fff902,#fff500,#fff100,#ffed00,#ffe900,#ffe500,#ffe100,#ffde00,#ffda00,#ffd700,#ffd300,#ffd000,#ffcd00)"></div><div style="position:absolute;left:0;top:108px;width:300px;height:3px;background:linear-gradient(90deg,#cbff22,#d0ff20,#d4ff1e,#d9ff1c,#ddff1a,#e2ff17,#e6ff15,#ebff13,#efff11,#f4ff0e,#f8ff0c,#fdff09,#fffd06,#fff803,#fff400,#fff000,#ffec00,#ffe800,#ffe400,#ffe000,#ffdd00,#ffd900,#ffd600,#ffd300,#ffcf00,#ffcc00)"></div><div style="position:absolute;left:0;top:111px;width:300px;height:3px;background:linear-gradient(90deg,#ccff23,#d1ff21,#d5ff1f,#daff1d,#deff1b,#e3ff19,#e7ff16,#ecff14,#f0ff12,#f5ff10,#f9ff0d,#feff0b,#fffc08,#fff705,#fff301,#ffef00,#ffeb00,#ffe700,#ffe300,#ffdf00,#ffdc00,#ffd800,#ffd500,#ffd200,#ffcf00,#ffcb00)"></div><div style="position:absolute;left:0;top:114px;width:300px;height:3px;background:linear-gradient(90deg,#cdff24,#d2ff22,#d6ff20,#dbff1e,#dfff1c,#e4ff1a,#e8ff17,#edff15,#f1ff13,#f6ff11,#faff0e,#ffff0c,#fffa09,#fff606,#fff203,#ffee00,#ffea00,#ffe600,#ffe200,#ffdf00,#ffdb00,#ffd800,#ffd400,#ffd100,#ffce00,#ffcb00)"></div><div style="position:absolute;left:0;top:117px;width:300px;height:3px;background:linear-gradient(90deg,#ceff25,#d3ff23,#d7ff21,#dcff1f,#e0ff1d,#e5ff1b,#e9ff19,#eeff16,#f2ff14,#f7ff12,#fcff0f,#fffe0d,#fff90a,#fff507,#fff104,#ffed01,#ffe900,#ffe500,#ffe100,#ffde00,#ffda00,#ffd700,#ffd300,#ffd000,#ffcd00,#ffca00)"></div><div style="position:absolute;left:0;top:120px;width:300px;height:3px;background:linear-gradient(90deg,#cfff26,#d4ff24,#d8ff22,#ddff20,#e1ff1e,#e6ff1c,#eaff1a,#efff17,#f4ff15,#f8ff13,#fdff11,#fffd0e,#fff80b,#fff409,#fff006,#ffec03,#ffe800,#ffe400,#ffe000,#ffdd00,#ffd900,#ffd600,#ffd200,#ffcf00,#ffcc00,#ffc900)"></div><div style="position:absolute;left:0;top:123px;width:300px;height:3px;background:linear-gradient(90deg,#d0ff27,#d5ff25,#d9ff23,#deff21,#e2ff1f,#e7ff1d,#ecff1b,#f0ff19,#f5ff16,#f9ff14,#feff12,#fffc0f,#fff70d,#fff30a,#ffef07,#ffeb04,#ffe701,#ffe300,#ffdf00,#ffdc00,#ffd800,#ffd500,#ffd200,#ffce00,#ffcb00,#ffc800)"></div><div style="position:absolute;left:0;top:126px;width:300px;height:3px;background:linear-gradient(90deg,#d1ff28,#d6ff26,#daff24,#dfff22,#e4ff20,#e8ff1e,#edff1c,#f1ff1a,#f6ff17,#faff15,#ffff13,#fffb10,#fff60e,#fff20b,#ffee08,#ffea06,#ffe602,#ffe200,#ffde00,#ffdb00,#ffd700,#ffd400,#ffd100,#ffce00,#ffcb00,#ffc700)"></div><div style="position:absolute;left:0;top:129px;width:300px;height:3px;background:linear-gradient(90deg,#d3ff29,#d7ff27,#dcff25,#e0ff23,#e5ff21,#e9ff1f,#eeff1d,#f2ff1b,#f7ff19,#fbff16,#fffe14,#fff911,#fff50f,#fff10c,#ffed09,#ffe907,#ffe504,#ffe101,#ffde00,#ffda00,#ffd700,#ffd300,#ffd000,#ffcd00,#ffca00,#ffc700)"></div><div style="position:absolute;left:0;top:132px;width:300px;height:3px;background:linear-gradient(90deg,#d4ff2a,#d8ff28,#ddff26,#e1ff24,#e6ff22,#eaff20,#efff1e,#f3ff1c,#f8ff1a,#fdff17,#fffd15,#fff812,#fff410,#fff00d,#ffec0b,#ffe808,#ffe405,#ffe002,#ffdd00,#ffd900,#ffd600,#ffd200,#ffcf00,#ffcc00,#ffc900,#ffc600)"></div><div style="position:absolute;left:0;top:135px;width:300px;height:3px;background:linear-gradient(90deg,#d5ff2b,#d9ff29,#deff27,#e2ff25,#e7ff23,#ebff21,#f0ff1f,#f4ff1d,#f9ff1b,#feff19,#fffc16,#fff713,#fff311,#ffef0e,#ffeb0c,#ffe709,#ffe306,#ffdf04,#ffdc00,#ffd800,#ffd500,#ffd200,#ffce00,#ffcb00,#ffc800,#ffc500)"></div><div style="position:absolute;left:0;top:138px;width:300px;height:3px;background:linear-gradient(90deg,#d6ff2c,#daff2a,#dfff28,#e3ff26,#e8ff24,#ecff22,#f1ff20,#f6ff1e,#faff1c,#ffff1a,#fffb17,#fff614,#fff212,#ffee0f,#ffea0d,#ffe60a,#ffe208,#ffde05,#ffdb02,#ffd700,#ffd400,#ffd100,#ffcd00,#ffca00,#ffc700,#ffc400)"></div><div style="position:absolute;left:0;top:141px;width:300px;height:3px;background:linear-gradient(90deg,#d7ff2d,#dbff2b,#e0ff29,#e4ff27,#e9ff25,#edff23,#f2ff21,#f7ff1f,#fbff1d,#fffe1b,#fffa18,#fff515,#fff113,#ffed10,#ffe90e,#ffe50b,#ffe109,#ffdd06,#ffda03,#ffd600,#ffd300,#ffd000,#ffcd00,#ffca00,#ffc700,#ffc400)"></div><div style="position:absolute;left:0;top:144px;width:300px;height:3px;background:linear-gradient(90deg,#d8ff2e,#dcff2c,#e1ff2a,#e5ff28,#eaff26,#efff24,#f3ff22,#f8ff20,#fcff1e,#fffd1c,#fff819,#fff416,#fff014,#ffec11,#ffe80f,#ffe40c,#ffe00a,#ffdd07,#ffd905,#ffd602,#ffd200,#ffcf00,#ffcc00,#ffc900,#ffc600,#ffc300)"></div><div style="position:absolute;left:0;top:147px;width:300px;height:3px;background:linear-gradient(90deg,#d9ff2f,#ddff2d,#e2ff2b,#e6ff29,#ebff27,#f0ff25,#f4ff23,#f9ff21,#feff1f,#fffc1d,#fff71a,#fff317,#ffef15,#ffeb12,#ffe710,#ffe30d,#ffdf0b,#ffdc08,#ffd806,#ffd503,#ffd100,#ffce00,#ffcb00,#ffc800,#ffc500,#ffc200)"></div><div style="position:absolute;left:0;top:150px;width:300px;height:3px;background:linear-gradient(90deg,#daff30,#deff2e,#e3ff2c,#e8ff2a,#ecff28,#f1ff26,#f5ff24,#faff22,#ffff20,#fffb1e,#fff61b,#fff218,#ffee16,#ffea13,#ffe611,#ffe20f,#ffde0c,#ffdb0a,#ffd707,#ffd404,#ffd102,#ffcd00,#ffca00,#ffc700,#ffc400,#ffc100)"></div><div style="position:absolute;left:0;top:153px;width:300px;height:3px;background:linear-gradient(90deg,#dbff31,#dfff2f,#e4ff2d,#e9ff2b,#edff29,#f2ff27,#f6ff25,#fbff23,#fffe21,#fffa1e,#fff51c,#fff119,#ffed17,#ffe914,#ffe512,#ffe110,#ffdd0d,#ffda0b,#ffd608,#ffd306,#ffd003,#ffcd00,#ffc900,#ffc600,#ffc300,#ffc100)"></div><div style="position:absolute;left:0;top:156px;width:300px;height:3px;background:linear-gradient(90deg,#dcff32,#e1ff30,#e5ff2e,#eaff2c,#eeff2a,#f3ff28,#f8ff26,#fcff24,#fffd22,#fff91f,#fff41d,#fff01a,#ffec18,#ffe815,#ffe413,#ffe011,#ffdd0e,#ffd90c,#ffd609,#ffd207,#ffcf04,#ffcc01,#ffc900,#ffc600,#ffc300,#ffc000)"></div><div style="position:absolute;left:0;top:159px;width:300px;height:3px;background:linear-gradient(90deg,#ddff32,#e2ff31,#e6ff2f,#ebff2d,#efff2b,#f4ff29,#f9ff27,#fdff25,#fffc23,#fff720,#fff31e,#ffef1b,#ffeb19,#ffe716,#ffe314,#ffdf11,#ffdc0f,#ffd80d,#ffd50a,#ffd108,#ffce05,#ffcb03,#ffc800,#ffc500,#ffc200,#ffbf00)"></div><div style="position:absolute;left:0;top:162px;width:300px;height:3px;background:linear-gradient(90deg,#deff33,#e3ff32,#e7ff30,#ecff2e,#f1ff2c,#f5ff2a,#faff28,#ffff26,#fffb24,#fff621,#fff21f,#ffee1c,#ffea1a,#ffe617,#ffe215,#ffde12,#ffdb10,#ffd70e,#ffd40b,#ffd009,#ffcd07,#ffca04,#ffc701,#ffc400,#ffc100,#ffbe00)"></div><div style="position:absolute;left:0;top:165px;width:300px;height:3px;background:linear-gradient(90deg,#dfff34,#e4ff33,#e8ff31,#edff2f,#f2ff2d,#f6ff2b,#fbff29,#fffe27,#fffa25,#fff522,#fff11f,#ffed1d,#ffe91b,#ffe518,#ffe116,#ffdd13,#ffda11,#ffd60f,#ffd30c,#ffd00a,#ffcc08,#ffc905,#ffc602,#ffc300,#ffc000,#ffbe00)"></div><div style="position:absolute;left:0;top:168px;width:300px;height:3px;background:linear-gradient(90deg,#e0ff35,#e5ff34,#e9ff32,#eeff30,#f3ff2e,#f7ff2c,#fcff2a,#fffd28,#fff926,#fff423,#fff020,#ffec1e,#ffe81b,#ffe419,#ffe017,#ffdc14,#ffd912,#ffd510,#ffd20d,#ffcf0b,#ffcc09,#ffc806,#ffc504,#ffc201,#ffc000,#ffbd00)"></div><div style="position:absolute;left:0;top:171px;width:300px;height:3px;background:linear-gradient(90deg,#e1ff36,#e6ff35,#ebff33,#efff31,#f4ff2f,#f9ff2d,#fdff2b,#fffc29,#fff826,#fff324,#ffef21,#ffeb1f,#ffe71c,#ffe31a,#ffdf18,#ffdc15,#ffd813,#ffd511,#ffd10e,#ffce0c,#ffcb0a,#ffc807,#ffc505,#ffc202,#ffbf00,#ffbc00)"></div><div style="position:absolute;left:0;top:174px;width:300px;height:3px;background:linear-gradient(90deg,#e2ff37,#e7ff36,#ecff34,#f0ff32,#f5ff30,#faff2e,#feff2c,#fffb2a,#fff627,#fff225,#ffee22,#ffea20,#ffe61d,#ffe21b,#ffde18,#ffdb16,#ffd714,#ffd412,#ffd00f,#ffcd0d,#ffca0b,#ffc708,#ffc406,#ffc103,#ffbe01,#ffbb00)"></div><div style="position:absolute;left:0;top:177px;width:300px;height:3px;background:linear-gradient(90deg,#e4ff38,#e8ff37,#edff35,#f1ff33,#f6ff31,#fbff2f,#fffe2d,#fffa2b,#fff528,#fff125,#ffed23,#ffe920,#ffe51e,#ffe11c,#ffdd19,#ffda17,#ffd615,#ffd312,#ffcf10,#ffcc0e,#ffc90c,#ffc609,#ffc307,#ffc005,#ffbd02,#ffbb00)"></div><div style="position:absolute;left:0;top:180px;width:300px;height:3px;background:linear-gradient(90deg,#e5ff39,#e9ff38,#eeff36,#f3ff34,#f7ff32,#fcff30,#fffd2e,#fff92c,#fff429,#fff026,#ffec24,#ffe821,#ffe41f,#ffe01d,#ffdc1a,#ffd918,#ffd516,#ffd213,#ffcf11,#ffcb0f,#ffc80d,#ffc50a,#ffc208,#ffbf06,#ffbd03,#ffba00)"></div><div style="position:absolute;left:0;top:183px;width:300px;height:3px;background:linear-gradient(90deg,#e6ff3a,#eaff39,#efff37,#f4ff35,#f8ff33,#fdff31,#fffc2f,#fff82c,#fff32a,#ffef27,#ffeb25,#ffe722,#ffe320,#ffdf1d,#ffdb1b,#ffd819,#ffd416,#ffd114,#ffce12,#ffcb10,#ffc80e,#ffc40b,#ffc209,#ffbf07,#ffbc04,#ffb902)"></div><div style="position:absolute;left:0;top:186px;width:300px;height:3px;background:linear-gradient(90deg,#e7ff3b,#ebff3a,#f0ff38,#f5ff36,#faff34,#feff32,#fffb30,#fff72d,#fff22b,#ffee28,#ffea25,#ffe623,#ffe221,#ffde1e,#ffdb1c,#ffd71a,#ffd417,#ffd015,#ffcd13,#ffca11,#ffc70e,#ffc40c,#ffc10a,#ffbe08,#ffbb06,#ffb803)"></div><div style="position:absolute;left:0;top:189px;width:300px;height:3px;background:linear-gradient(90deg,#e8ff3c,#edff3b,#f1ff39,#f6ff37,#fbff35,#ffff33,#fffa31,#fff52e,#fff12b,#ffed29,#ffe926,#ffe524,#ffe121,#ffdd1f,#ffda1d,#ffd61a,#ffd318,#ffcf16,#ffcc14,#ffc912,#ffc60f,#ffc30d,#ffc00b,#ffbd09,#ffba07,#ffb804)"></div><div style="position:absolute;left:0;top:192px;width:300px;height:3px;background:linear-gradient(90deg,#e9ff3d,#eeff3c,#f2ff3a,#f7ff38,#fcff36,#fffd34,#fff931,#fff42f,#fff02c,#ffec2a,#ffe827,#ffe425,#ffe022,#ffdc20,#ffd91e,#ffd51b,#ffd219,#ffcf17,#ffcb15,#ffc812,#ffc510,#ffc20e,#ffbf0c,#ffbc0a,#ffba08,#ffb705)"></div><div style="position:absolute;left:0;top:195px;width:300px;height:3px;background:linear-gradient(90deg,#eaff3e,#efff3d,#f4ff3b,#f8ff39,#fdff37,#fffc35,#fff832,#fff330,#ffef2d,#ffeb2a,#ffe728,#ffe325,#ffdf23,#ffdb21,#ffd81e,#ffd41c,#ffd11a,#ffce18,#ffca15,#ffc713,#ffc411,#ffc10f,#ffbe0d,#ffbc0b,#ffb909,#ffb606)"></div><div style="position:absolute;left:0;top:198px;width:300px;height:3px;background:linear-gradient(90deg,#ebff3f,#f0ff3e,#f5ff3c,#f9ff3a,#feff38,#fffb36,#fff733,#fff230,#ffee2e,#ffea2b,#ffe629,#ffe226,#ffde24,#ffda21,#ffd71f,#ffd31d,#ffd01b,#ffcd18,#ffca16,#ffc714,#ffc412,#ffc110,#ffbe0e,#ffbb0c,#ffb809,#ffb607)"></div><div style="position:absolute;left:0;top:201px;width:300px;height:3px;background:linear-gradient(90deg,#ecff40,#f1ff3f,#f6ff3d,#fbff3b,#ffff39,#fffa37,#fff634,#fff131,#ffed2e,#ffe92c,#ffe529,#ffe127,#ffdd25,#ffda22,#ffd620,#ffd31e,#ffcf1b,#ffcc19,#ffc917,#ffc615,#ffc313,#ffc011,#ffbd0f,#ffba0d,#ffb70a,#ffb508)"></div>
</div>
<svg style="position:absolute;left:0;top:0" width="2560" height="1552"><rect x="2375" y="846" width="19" height="19" fill="none" stroke="#fff" stroke-width="2"/><circle cx="2384.2" cy="855.6" r="6.2" fill="#c0bc10" stroke="#111" stroke-width="1.6"/></svg>
<div class="t" style="left:284.2px;top:1029.3px;font-size:44.04px;color:#eeeeee;transform:scaleX(0.936);">Avg dE2000: 0.7</div>
<div class="t" style="left:266.7px;top:1086.2px;font-size:42.88px;color:#eeeeee;transform:scaleX(0.977);">Max dE2000: 1.43</div>
<div class="t" style="left:221.0px;top:1154.9px;font-size:42.44px;color:#eeeeee;transform:scaleX(0.992);">Current Reading</div>
<div class="t" style="left:221.0px;top:1210.8px;font-size:35.47px;color:#eeeeee;transform:scaleX(0.987);">x: 0.4191</div>
<div class="t" style="left:442.0px;top:1210.8px;font-size:35.47px;color:#eeeeee;transform:scaleX(0.989);">y: 0.5051</div>
<div class="t" style="left:221.0px;top:1268.0px;font-size:36.05px;color:#eeeeee;transform:scaleX(0.965);">fL: 52.4</div>
<div class="t" style="left:221.0px;top:1315.8px;font-size:35.61px;color:#eeeeee;transform:scaleX(1.029);">cd/m²: 179.53</div>
<svg style="position:absolute;left:0;top:0" width="2560" height="1552"><rect x="705" y="1075" width="354" height="255" fill="#222"/><rect x="705" y="1101" width="354" height="2" fill="#9a9a9a"/><rect x="697" y="1101" width="8" height="2" fill="#ddd"/><rect x="705" y="1153.3" width="354" height="2" fill="#9a9a9a"/><rect x="697" y="1153.3" width="8" height="2" fill="#ddd"/><rect x="705" y="1203.3" width="354" height="2" fill="#9a9a9a"/><rect x="697" y="1203.3" width="8" height="2" fill="#ddd"/><rect x="705" y="1254.8" width="354" height="2" fill="#9a9a9a"/><rect x="697" y="1254.8" width="8" height="2" fill="#ddd"/><rect x="705" y="1304.9" width="354" height="2" fill="#9a9a9a"/><rect x="697" y="1304.9" width="8" height="2" fill="#ddd"/><rect x="704" y="1074" width="356" height="257" fill="none" stroke="#9a9a9a" stroke-width="2"/><rect x="704" y="1330" width="2" height="9" fill="#ddd"/><rect x="1058" y="1330" width="2" height="9" fill="#ddd"/><defs><linearGradient id="rb" x1="0" y1="0" x2="0" y2="1"><stop offset="0" stop-color="#ff5a5a"/><stop offset="1" stop-color="#ff4444"/></linearGradient><linearGradient id="gb" x1="0" y1="0" x2="0" y2="1"><stop offset="0" stop-color="#58ad58"/><stop offset="1" stop-color="#4aa34a"/></linearGradient><linearGradient id="bb" x1="0" y1="0" x2="0" y2="1"><stop offset="0" stop-color="#5858ff"/><stop offset="1" stop-color="#4040ff"/></linearGradient></defs><rect x="738.2" y="1229.5" width="95.1" height="100.5" fill="#000"/><rect x="739.7" y="1231.0" width="92.1" height="99.0" fill="url(#rb)"/><rect x="833.2" y="1229.5" width="93.6" height="100.5" fill="#000"/><rect x="834.7" y="1231.0" width="90.6" height="99.0" fill="url(#gb)"/><rect x="926.3" y="1192.2" width="96.2" height="137.8" fill="#000"/><rect x="927.8" y="1193.7" width="93.2" height="136.3" fill="url(#bb)"/></svg>
<div class="t" style="left:801.7px;top:1049.7px;font-size:21.22px;color:#d8d8d8;transform:scaleX(0.910);">RGB Balance</div>
<div class="t" style="left:660.0px;top:1091.7px;font-size:20.64px;color:#d8d8d8;transform:scaleX(1.046);">104</div>
<div class="t" style="left:660.0px;top:1144.0px;font-size:20.64px;color:#d8d8d8;transform:scaleX(1.046);">102</div>
<div class="t" style="left:660.0px;top:1194.0px;font-size:20.64px;color:#d8d8d8;transform:scaleX(1.046);">100</div>
<div class="t" style="left:672.0px;top:1245.5px;font-size:20.64px;color:#d8d8d8;transform:scaleX(1.046);">98</div>
<div class="t" style="left:672.0px;top:1295.6px;font-size:20.64px;color:#d8d8d8;transform:scaleX(1.046);">96</div>
<div class="t" style="left:857.2px;top:1335.0px;font-size:21.80px;color:#d8d8d8;transform:scaleX(0.897);">100%</div>
<div style="position:absolute;left:1087px;top:1031px;width:1030px;height:333px;background:#111;box-shadow:0 0 0 1px #000"></div>
<div style="position:absolute;left:1088px;top:1032px;width:1028px;height:40px;background:linear-gradient(#2f2f2f 0%,#2f2f2f 49%,#151515 51%,#111 100%)"></div>
<div style="position:absolute;left:1088px;top:1072.0px;width:1028px;height:36.2px;background:#404040"></div>
<div class="t" style="left:1114.0px;top:1078.3px;font-size:25.87px;color:#f2f2f2;font-weight:700;transform:scaleX(1.202);">x: CIE31</div>
<div class="t" style="left:1373.2px;top:1078.3px;font-size:25.87px;color:#f2f2f2;transform:scaleX(1.207);">0.3349</div>
<div class="t" style="left:1523.2px;top:1078.3px;font-size:25.87px;color:#f2f2f2;transform:scaleX(1.207);">0.3554</div>
<div class="t" style="left:1673.6px;top:1078.3px;font-size:25.87px;color:#f2f2f2;transform:scaleX(1.207);">0.3789</div>
<div class="t" style="left:1824.0px;top:1078.3px;font-size:25.87px;color:#f2f2f2;transform:scaleX(1.207);">0.3978</div>
<div class="t" style="left:1974.0px;top:1078.3px;font-size:25.87px;color:#f2f2f2;transform:scaleX(1.207);">0.4191</div>
<div style="position:absolute;left:1088px;top:1108.2px;width:1028px;height:36.7px;background:#828282"></div>
<div class="t" style="left:1114.0px;top:1114.5px;font-size:25.87px;color:#f2f2f2;font-weight:700;transform:scaleX(1.202);">y: CIE31</div>
<div class="t" style="left:1373.2px;top:1114.5px;font-size:25.87px;color:#f2f2f2;transform:scaleX(1.207);">0.3643</div>
<div class="t" style="left:1523.2px;top:1114.5px;font-size:25.87px;color:#f2f2f2;transform:scaleX(1.207);">0.4006</div>
<div class="t" style="left:1673.6px;top:1114.5px;font-size:25.87px;color:#f2f2f2;transform:scaleX(1.207);">0.4361</div>
<div class="t" style="left:1824.0px;top:1114.5px;font-size:25.87px;color:#f2f2f2;transform:scaleX(1.207);">0.4669</div>
<div class="t" style="left:1974.0px;top:1114.5px;font-size:25.87px;color:#f2f2f2;transform:scaleX(1.207);">0.5051</div>
<div style="position:absolute;left:1088px;top:1144.9px;width:1028px;height:36.2px;background:#404040"></div>
<div class="t" style="left:1114.0px;top:1151.2px;font-size:25.87px;color:#f2f2f2;font-weight:700;transform:scaleX(1.188);">Y</div>
<div class="t" style="left:1373.2px;top:1151.2px;font-size:25.87px;color:#f2f2f2;transform:scaleX(1.219);">189.5287</div>
<div class="t" style="left:1523.2px;top:1151.2px;font-size:25.87px;color:#f2f2f2;transform:scaleX(1.219);">186.9128</div>
<div class="t" style="left:1673.6px;top:1151.2px;font-size:25.87px;color:#f2f2f2;transform:scaleX(1.219);">183.4512</div>
<div class="t" style="left:1824.0px;top:1151.2px;font-size:25.87px;color:#f2f2f2;transform:scaleX(1.219);">181.5632</div>
<div class="t" style="left:1974.0px;top:1151.2px;font-size:25.87px;color:#f2f2f2;transform:scaleX(1.219);">179.5336</div>
<div style="position:absolute;left:1088px;top:1181.1px;width:1028px;height:36.6px;background:#828282"></div>
<div class="t" style="left:1114.0px;top:1187.4px;font-size:25.87px;color:#f2f2f2;font-weight:700;transform:scaleX(1.236);">Target x:CIE31</div>
<div class="t" style="left:1373.2px;top:1187.4px;font-size:25.87px;color:#f2f2f2;transform:scaleX(1.207);">0.3344</div>
<div class="t" style="left:1523.2px;top:1187.4px;font-size:25.87px;color:#f2f2f2;transform:scaleX(1.207);">0.3564</div>
<div class="t" style="left:1673.6px;top:1187.4px;font-size:25.87px;color:#f2f2f2;transform:scaleX(1.207);">0.3773</div>
<div class="t" style="left:1824.0px;top:1187.4px;font-size:25.87px;color:#f2f2f2;transform:scaleX(1.207);">0.3969</div>
<div class="t" style="left:1974.0px;top:1187.4px;font-size:25.87px;color:#f2f2f2;transform:scaleX(1.207);">0.4193</div>
<div style="position:absolute;left:1088px;top:1217.7px;width:1028px;height:36.7px;background:#404040"></div>
<div class="t" style="left:1114.0px;top:1224.0px;font-size:25.87px;color:#f2f2f2;font-weight:700;transform:scaleX(1.236);">Target y:CIE31</div>
<div class="t" style="left:1373.2px;top:1224.0px;font-size:25.87px;color:#f2f2f2;transform:scaleX(1.207);">0.3648</div>
<div class="t" style="left:1523.2px;top:1224.0px;font-size:25.87px;color:#f2f2f2;transform:scaleX(1.207);">0.4013</div>
<div class="t" style="left:1673.6px;top:1224.0px;font-size:25.87px;color:#f2f2f2;transform:scaleX(1.207);">0.4358</div>
<div class="t" style="left:1824.0px;top:1224.0px;font-size:25.87px;color:#f2f2f2;transform:scaleX(1.207);">0.4682</div>
<div class="t" style="left:1974.0px;top:1224.0px;font-size:25.87px;color:#f2f2f2;transform:scaleX(1.207);">0.5053</div>
<div style="position:absolute;left:1088px;top:1254.4px;width:1028px;height:36.6px;background:#828282"></div>
<div class="t" style="left:1114.0px;top:1260.7px;font-size:25.87px;color:#f2f2f2;font-weight:700;transform:scaleX(1.286);">Target Y</div>
<div class="t" style="left:1373.2px;top:1260.7px;font-size:25.87px;color:#f2f2f2;transform:scaleX(1.219);">195.8174</div>
<div class="t" style="left:1523.2px;top:1260.7px;font-size:25.87px;color:#f2f2f2;transform:scaleX(1.219);">192.3803</div>
<div class="t" style="left:1673.6px;top:1260.7px;font-size:25.87px;color:#f2f2f2;transform:scaleX(1.219);">189.7393</div>
<div class="t" style="left:1824.0px;top:1260.7px;font-size:25.87px;color:#f2f2f2;transform:scaleX(1.219);">187.6667</div>
<div class="t" style="left:1974.0px;top:1260.7px;font-size:25.87px;color:#f2f2f2;transform:scaleX(1.219);">185.6629</div>
<div style="position:absolute;left:1088px;top:1291.0px;width:1028px;height:36.2px;background:#404040"></div>
<div class="t" style="left:1114.0px;top:1297.3px;font-size:25.87px;color:#f2f2f2;font-weight:700;transform:scaleX(1.270);">ΔE 2000</div>
<div class="t" style="left:1373.2px;top:1297.3px;font-size:25.87px;color:#f2f2f2;transform:scaleX(1.207);">0.8625</div>
<div class="t" style="left:1523.2px;top:1297.3px;font-size:25.87px;color:#f2f2f2;transform:scaleX(1.207);">0.7109</div>
<div class="t" style="left:1673.6px;top:1297.3px;font-size:25.87px;color:#f2f2f2;transform:scaleX(1.207);">0.8263</div>
<div class="t" style="left:1824.0px;top:1297.3px;font-size:25.87px;color:#f2f2f2;transform:scaleX(1.207);">0.8521</div>
<div class="t" style="left:1974.0px;top:1297.3px;font-size:25.87px;color:#f2f2f2;transform:scaleX(1.207);">0.7776</div>
<div style="position:absolute;left:1088px;top:1327.2px;width:1028px;height:35.8px;background:#828282"></div>
<div class="t" style="left:1114.0px;top:1333.5px;font-size:25.87px;color:#f2f2f2;font-weight:700;transform:scaleX(1.217);">ΔE ITP</div>
<div class="t" style="left:1373.2px;top:1333.5px;font-size:25.87px;color:#f2f2f2;transform:scaleX(1.207);">2.4758</div>
<div class="t" style="left:1523.2px;top:1333.5px;font-size:25.87px;color:#f2f2f2;transform:scaleX(1.207);">2.2407</div>
<div class="t" style="left:1673.6px;top:1333.5px;font-size:25.87px;color:#f2f2f2;transform:scaleX(1.207);">2.6362</div>
<div class="t" style="left:1824.0px;top:1333.5px;font-size:25.87px;color:#f2f2f2;transform:scaleX(1.207);">2.5952</div>
<div class="t" style="left:1974.0px;top:1333.5px;font-size:25.87px;color:#f2f2f2;transform:scaleX(1.207);">2.5452</div>
<div class="t" style="left:1411.1px;top:1040.5px;font-size:25.44px;color:#f2f2f2;transform:scaleX(1.104);text-shadow:0 0 0.6px #fff;">20%</div>
<div class="t" style="left:1561.1px;top:1040.5px;font-size:25.44px;color:#f2f2f2;transform:scaleX(1.104);text-shadow:0 0 0.6px #fff;">40%</div>
<div class="t" style="left:1711.6px;top:1040.5px;font-size:25.44px;color:#f2f2f2;transform:scaleX(1.104);text-shadow:0 0 0.6px #fff;">60%</div>
<div class="t" style="left:1861.5px;top:1040.5px;font-size:25.44px;color:#f2f2f2;transform:scaleX(1.104);text-shadow:0 0 0.6px #fff;">80%</div>
<div class="t" style="left:2005.2px;top:1040.5px;font-size:25.44px;color:#f2f2f2;transform:scaleX(1.101);text-shadow:0 0 0.6px #fff;">100%</div>
<div style="position:absolute;left:2552px;top:1020px;width:8px;height:470px;background:linear-gradient(90deg,rgba(0,0,0,0),rgba(0,0,0,0.25))"></div>
<div style="position:absolute;left:201px;top:1490px;width:2359px;height:62px;background:linear-gradient(#4a4a4a,#3a3a3a 40%,#262626)"></div>
<div style="position:absolute;left:201px;top:1490px;width:45px;height:61px;border-radius:5px;background:linear-gradient(#a8a8a8,#8a8a8a 40%,#5a5a5a)"></div>
<div style="position:absolute;left:216px;top:1491px;width:15px;height:15px;border-radius:50%;background:linear-gradient(#6a6a6a,#9a9a9a)"></div>
<svg style="position:absolute;left:218px;top:1494px" width="11" height="7"><path d="M0 6H11L5.5 0Z" fill="#333"/></svg>
<div style="position:absolute;left:206px;top:1516px;width:35px;height:30px;border-radius:3px;background:#ffff00"></div>
<div style="position:absolute;left:252px;top:1490px;width:150px;height:61px;border-radius:5px;background:linear-gradient(#a8a8a8,#8a8a8a 40%,#5a5a5a)"></div>
<div style="position:absolute;left:257px;top:1495px;width:139px;height:36px;border-radius:3px;background:#bfbfa2;box-shadow:inset 0 2px 2px rgba(0,0,0,0.25)"></div>
<div class="t" style="left:317.0px;top:1535.9px;font-size:11.92px;color:#2a2a2a;transform:scaleX(0.838);">20%</div>
<div style="position:absolute;left:404px;top:1490px;width:150px;height:61px;border-radius:5px;background:linear-gradient(#a8a8a8,#8a8a8a 40%,#5a5a5a)"></div>
<div style="position:absolute;left:409px;top:1495px;width:139px;height:36px;border-radius:3px;background:#bfbf87;box-shadow:inset 0 2px 2px rgba(0,0,0,0.25)"></div>
<div class="t" style="left:469.0px;top:1535.9px;font-size:11.92px;color:#2a2a2a;transform:scaleX(0.838);">40%</div>
<div style="position:absolute;left:556px;top:1490px;width:150px;height:61px;border-radius:5px;background:linear-gradient(#a8a8a8,#8a8a8a 40%,#5a5a5a)"></div>
<div style="position:absolute;left:561px;top:1495px;width:139px;height:36px;border-radius:3px;background:#bfbd6b;box-shadow:inset 0 2px 2px rgba(0,0,0,0.25)"></div>
<div class="t" style="left:621.0px;top:1535.9px;font-size:11.92px;color:#2a2a2a;transform:scaleX(0.838);">60%</div>
<div style="position:absolute;left:708px;top:1490px;width:150px;height:61px;border-radius:5px;background:linear-gradient(#a8a8a8,#8a8a8a 40%,#5a5a5a)"></div>
<div style="position:absolute;left:713px;top:1495px;width:139px;height:36px;border-radius:3px;background:#bebd4e;box-shadow:inset 0 2px 2px rgba(0,0,0,0.25)"></div>
<div class="t" style="left:773.0px;top:1535.9px;font-size:11.92px;color:#2a2a2a;transform:scaleX(0.838);">80%</div>
<div style="position:absolute;left:860px;top:1490px;width:150px;height:61px;border-radius:5px;background:linear-gradient(#1a1a1a,#222 60%,#333)"></div>
<div style="position:absolute;left:865px;top:1495px;width:139px;height:36px;border-radius:3px;background:#bfbf00;box-shadow:inset 0 2px 2px rgba(0,0,0,0.25)"></div>
<div class="t" style="left:921.5px;top:1535.9px;font-size:11.92px;color:#fff;font-weight:700;transform:scaleX(0.886);">100%</div>
<div style="position:absolute;left:2286px;top:1490px;width:274px;height:29px;background:linear-gradient(#9a9a9a,#6e6e6e);border-radius:4px 0 0 0"></div>
<div style="position:absolute;left:2332px;top:1490px;width:1px;height:29px;background:#4a4a4a"></div>
<div style="position:absolute;left:2377px;top:1490px;width:1px;height:29px;background:#4a4a4a"></div>
<div style="position:absolute;left:2422px;top:1490px;width:1px;height:29px;background:#4a4a4a"></div>
<div style="position:absolute;left:2467px;top:1490px;width:1px;height:29px;background:#4a4a4a"></div>
<div style="position:absolute;left:2511px;top:1490px;width:1px;height:29px;background:#4a4a4a"></div>
<div style="position:absolute;left:2301px;top:1504px;width:16px;height:14px;border-radius:50% 50% 0 0;background:radial-gradient(circle at 50% 20%,#a8a8a8,#7a7a7a)"></div>
<div style="position:absolute;left:2346px;top:1504px;width:16px;height:14px;border-radius:50% 50% 0 0;background:radial-gradient(circle at 50% 20%,#a8a8a8,#7a7a7a)"></div>
<div style="position:absolute;left:2392px;top:1504px;width:16px;height:14px;border-radius:50% 50% 0 0;background:radial-gradient(circle at 50% 20%,#a8a8a8,#7a7a7a)"></div>
<div style="position:absolute;left:2436px;top:1504px;width:16px;height:14px;border-radius:50% 50% 0 0;background:radial-gradient(circle at 50% 20%,#a8a8a8,#7a7a7a)"></div>
<div style="position:absolute;left:2481px;top:1504px;width:16px;height:14px;border-radius:50% 50% 0 0;background:radial-gradient(circle at 50% 20%,#a8a8a8,#7a7a7a)"></div>
<div style="position:absolute;left:2527px;top:1504px;width:16px;height:14px;border-radius:50% 50% 0 0;background:radial-gradient(circle at 50% 20%,#a8a8a8,#7a7a7a)"></div>
<div style="position:absolute;left:2237px;top:1507px;width:48px;height:45px;border-radius:5px 0 0 0;background:linear-gradient(#8a8a8a,#5a5a5a)"></div>
<div style="position:absolute;left:2245px;top:1514px;width:32px;height:31px;border-radius:5px;box-sizing:border-box;border:3px solid #2a2a2a;background:#9a9a9a"></div>
<div style="position:absolute;left:2254px;top:1523px;width:14px;height:13px;background:#000"></div>
<div style="position:absolute;left:2286px;top:1521px;width:274px;height:31px;border-radius:4px 0 0 0;background:linear-gradient(#b8b8b8,#8a8a8a)"></div>
<div style="position:absolute;left:2422px;top:1521px;width:1px;height:31px;background:#666"></div>
<div style="position:absolute;left:2307px;top:1526px;width:20px;height:20px;border-radius:50%;background:radial-gradient(circle at 50% 30%,#d0d0d0,#8a8a8a)"></div>
<div style="position:absolute;left:2520px;top:1526px;width:20px;height:20px;border-radius:50%;background:radial-gradient(circle at 50% 30%,#d0d0d0,#8a8a8a)"></div>
<svg style="position:absolute;left:2311px;top:1530px" width="12" height="12"><path d="M5 1L1 6L5 11M10 1L6 6L10 11" fill="none" stroke="#333" stroke-width="1.6"/></svg>
<svg style="position:absolute;left:2524px;top:1530px" width="12" height="12"><path d="M1 1L5 6L1 11M6 1L10 6L6 11" fill="none" stroke="#333" stroke-width="1.6"/></svg>
<div class="t" style="left:2344.3px;top:1525.6px;font-size:21.22px;color:#2a2a2a;transform:scaleX(1.049);">Back</div>
<div class="t" style="left:2450.6px;top:1525.6px;font-size:21.22px;color:#2a2a2a;transform:scaleX(1.169);">Next</div>
<svg style="position:absolute;left:0;top:0" width="2560" height="1552"><g fill="#222"><rect x="2304" y="1497" width="2.5" height="10"/><rect x="2309.5" y="1497" width="2.5" height="10"/><path d="M2350 1497L2359 1502.5L2350 1508Z"/><path d="M2394 1497h9v10h-9z" fill="none" stroke="#222" stroke-width="2"/><path d="M2439 1502.5c0-3 4-3 6 0s6 3 6 0s-4-3-6 0s-6 3-6 0z" fill="none" stroke="#222" stroke-width="1.8"/><path d="M2485 1497h9v10h-9z" fill="none" stroke="#222" stroke-width="2"/></g></svg>
<svg style="position:absolute;left:0;top:0" width="2560" height="1552">
<g opacity="0.78">
<path d="M2187 1514.2 L2227.7 1510.5 L2226.5 1480.3 L2174.8 1469.2 L2176.6 1519.1 L2208.7 1533.9 L2263.5 1517.3 L2232 1512.4" fill="none" stroke="#c8c8c8" stroke-width="6.5" stroke-linejoin="round" stroke-linecap="round"/>
<path d="M2187 1514.2 L2227.7 1510.5 L2226.5 1480.3 L2174.8 1469.2 L2176.6 1519.1 L2208.7 1533.9 L2263.5 1517.3 L2232 1512.4" fill="none" stroke="#8a2a2e" stroke-width="3.6" stroke-linejoin="round" stroke-linecap="round"/>
<path d="M2189.6 1487.1 Q2196 1481 2201 1489 L2205 1506.8 L2232.7 1469.2" fill="none" stroke="#c8c8c8" stroke-width="6.5" stroke-linejoin="round" stroke-linecap="round"/>
<path d="M2189.6 1487.1 Q2196 1481 2201 1489 L2205 1506.8 L2232.7 1469.2" fill="none" stroke="#333" stroke-width="4" stroke-linejoin="round" stroke-linecap="round"/>
<text x="2233" y="1509" font-family="Liberation Sans" font-weight="700" font-size="37.8" fill="#a33a40" stroke="#cfcfcf" stroke-width="4" paint-order="stroke" stroke-linejoin="round" textLength="198" lengthAdjust="spacingAndGlyphs">NOTEBOOK</text>
<text x="2431" y="1509" font-family="Liberation Sans" font-weight="700" font-size="37.8" fill="#303030" fill-opacity="0.85" stroke="#cfcfcf" stroke-width="4" paint-order="stroke" stroke-linejoin="round" textLength="119" lengthAdjust="spacingAndGlyphs">CHECK</text>
</g></svg>
</body></html>
